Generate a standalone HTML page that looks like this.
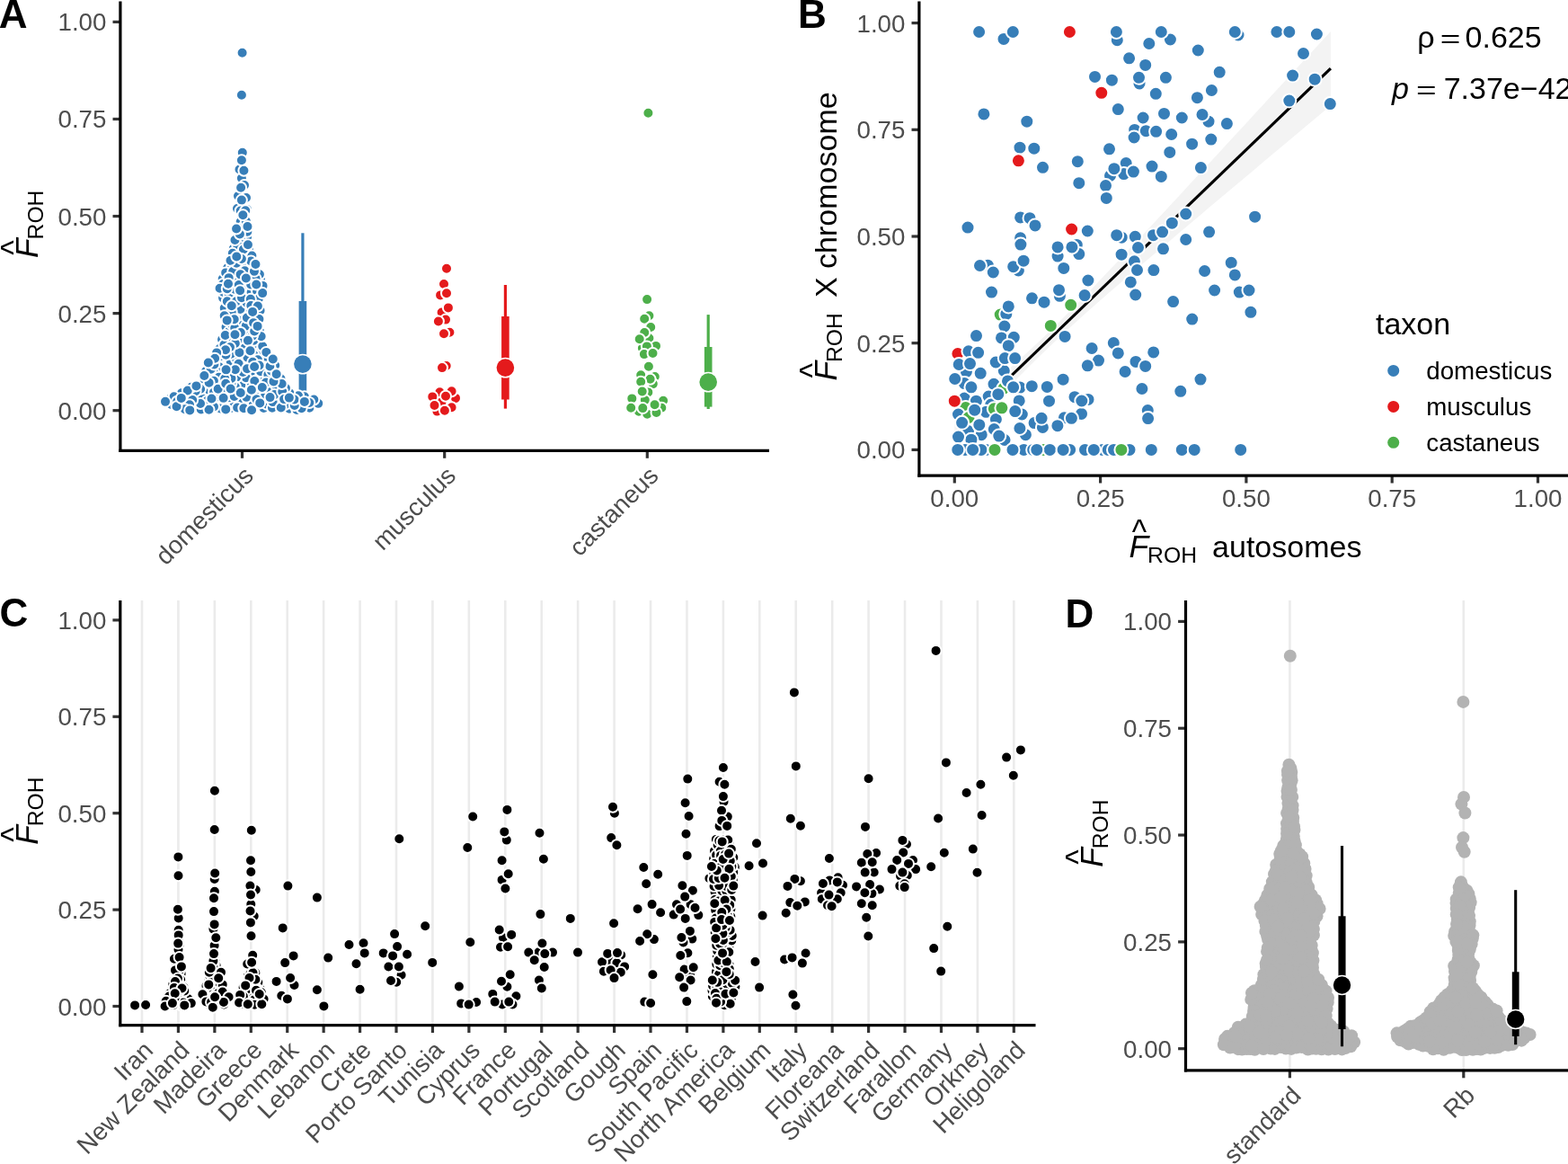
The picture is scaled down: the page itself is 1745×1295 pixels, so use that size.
<!DOCTYPE html><html><head><meta charset="utf-8"><style>html,body{margin:0;padding:0;background:#fff;overflow:hidden}svg{display:block}</style></head><body><svg width="1745" height="1295" viewBox="0 0 1745 1295" font-family="'Liberation Sans', Arial, Helvetica, sans-serif"><rect width="100%" height="100%" fill="#fff"/><line x1="125.5" y1="456.7" x2="133.9" y2="456.7" stroke="#333333" stroke-width="3.2" stroke-linecap="butt"/><text x="118.4" y="466.7" font-size="27.7" text-anchor="end" fill="#4D4D4D">0.00</text><line x1="125.5" y1="348.62" x2="133.9" y2="348.62" stroke="#333333" stroke-width="3.2" stroke-linecap="butt"/><text x="118.4" y="358.62" font-size="27.7" text-anchor="end" fill="#4D4D4D">0.25</text><line x1="125.5" y1="240.55" x2="133.9" y2="240.55" stroke="#333333" stroke-width="3.2" stroke-linecap="butt"/><text x="118.4" y="250.55" font-size="27.7" text-anchor="end" fill="#4D4D4D">0.50</text><line x1="125.5" y1="132.47" x2="133.9" y2="132.47" stroke="#333333" stroke-width="3.2" stroke-linecap="butt"/><text x="118.4" y="142.47" font-size="27.7" text-anchor="end" fill="#4D4D4D">0.75</text><line x1="125.5" y1="24.4" x2="133.9" y2="24.4" stroke="#333333" stroke-width="3.2" stroke-linecap="butt"/><text x="118.4" y="34.4" font-size="27.7" text-anchor="end" fill="#4D4D4D">1.00</text><line x1="269.5" y1="501.4" x2="269.5" y2="509.8" stroke="#333333" stroke-width="3.2" stroke-linecap="butt"/><text font-size="27.7" fill="#4D4D4D" text-anchor="end" transform="translate(283.5 530.9) rotate(-45)">domesticus</text><line x1="494.7" y1="501.4" x2="494.7" y2="509.8" stroke="#333333" stroke-width="3.2" stroke-linecap="butt"/><text font-size="27.7" fill="#4D4D4D" text-anchor="end" transform="translate(508.7 530.9) rotate(-45)">musculus</text><line x1="720.3" y1="501.4" x2="720.3" y2="509.8" stroke="#333333" stroke-width="3.2" stroke-linecap="butt"/><text font-size="27.7" fill="#4D4D4D" text-anchor="end" transform="translate(734.3 530.9) rotate(-45)">castaneus</text><line x1="336.9" y1="259.3" x2="336.9" y2="452" stroke="#377EB8" stroke-width="3.2" stroke-linecap="butt"/><line x1="336.9" y1="334.9" x2="336.9" y2="442" stroke="#377EB8" stroke-width="8.6" stroke-linecap="butt"/><circle cx="336.9" cy="405.1" r="11.4" fill="#fff"/><circle cx="336.9" cy="405.1" r="9.8" fill="#377EB8"/><line x1="562.4" y1="317" x2="562.4" y2="454.6" stroke="#E41A1C" stroke-width="3.2" stroke-linecap="butt"/><line x1="562.4" y1="351.9" x2="562.4" y2="444.4" stroke="#E41A1C" stroke-width="8.6" stroke-linecap="butt"/><circle cx="562.4" cy="409.1" r="11.4" fill="#fff"/><circle cx="562.4" cy="409.1" r="9.8" fill="#E41A1C"/><line x1="788.2" y1="350.1" x2="788.2" y2="455" stroke="#4DAF4A" stroke-width="3.2" stroke-linecap="butt"/><line x1="788.2" y1="386" x2="788.2" y2="452.6" stroke="#4DAF4A" stroke-width="8.6" stroke-linecap="butt"/><circle cx="788.2" cy="425.1" r="11.4" fill="#fff"/><circle cx="788.2" cy="425.1" r="9.8" fill="#4DAF4A"/><circle cx="266.5" cy="188.5" r="6" fill="#377EB8" stroke="#fff" stroke-width="2"/><circle cx="268.9" cy="198.2" r="6" fill="#377EB8" stroke="#fff" stroke-width="2"/><circle cx="272" cy="206" r="6" fill="#377EB8" stroke="#fff" stroke-width="2"/><circle cx="265" cy="218" r="6" fill="#377EB8" stroke="#fff" stroke-width="2"/><circle cx="274" cy="220" r="6" fill="#377EB8" stroke="#fff" stroke-width="2"/><circle cx="264" cy="232" r="6" fill="#377EB8" stroke="#fff" stroke-width="2"/><circle cx="275" cy="233" r="6" fill="#377EB8" stroke="#fff" stroke-width="2"/><circle cx="269.8" cy="169.8" r="6" fill="#377EB8" stroke="#fff" stroke-width="2"/><circle cx="268.9" cy="178.3" r="6" fill="#377EB8" stroke="#fff" stroke-width="2"/><circle cx="271.4" cy="189.8" r="6" fill="#377EB8" stroke="#fff" stroke-width="2"/><circle cx="268.1" cy="208.8" r="6" fill="#377EB8" stroke="#fff" stroke-width="2"/><circle cx="268.9" cy="222.6" r="6" fill="#377EB8" stroke="#fff" stroke-width="2"/><circle cx="269.8" cy="238.3" r="6" fill="#377EB8" stroke="#fff" stroke-width="2"/><circle cx="284.34" cy="452.65" r="6" fill="#377EB8" stroke="#fff" stroke-width="2"/><circle cx="278.48" cy="384.28" r="6" fill="#377EB8" stroke="#fff" stroke-width="2"/><circle cx="248.06" cy="331.36" r="6" fill="#377EB8" stroke="#fff" stroke-width="2"/><circle cx="267.69" cy="234.49" r="6" fill="#377EB8" stroke="#fff" stroke-width="2"/><circle cx="322.94" cy="448.24" r="6" fill="#377EB8" stroke="#fff" stroke-width="2"/><circle cx="273.08" cy="283.33" r="6" fill="#377EB8" stroke="#fff" stroke-width="2"/><circle cx="338.87" cy="441.37" r="6" fill="#377EB8" stroke="#fff" stroke-width="2"/><circle cx="267.67" cy="281.86" r="6" fill="#377EB8" stroke="#fff" stroke-width="2"/><circle cx="290.33" cy="420.91" r="6" fill="#377EB8" stroke="#fff" stroke-width="2"/><circle cx="265.41" cy="349.67" r="6" fill="#377EB8" stroke="#fff" stroke-width="2"/><circle cx="295.96" cy="399.32" r="6" fill="#377EB8" stroke="#fff" stroke-width="2"/><circle cx="229.2" cy="412.68" r="6" fill="#377EB8" stroke="#fff" stroke-width="2"/><circle cx="255.06" cy="376.7" r="6" fill="#377EB8" stroke="#fff" stroke-width="2"/><circle cx="244.6" cy="387.63" r="6" fill="#377EB8" stroke="#fff" stroke-width="2"/><circle cx="207.49" cy="444.95" r="6" fill="#377EB8" stroke="#fff" stroke-width="2"/><circle cx="262.4" cy="327.75" r="6" fill="#377EB8" stroke="#fff" stroke-width="2"/><circle cx="266.68" cy="356.77" r="6" fill="#377EB8" stroke="#fff" stroke-width="2"/><circle cx="283.42" cy="418.53" r="6" fill="#377EB8" stroke="#fff" stroke-width="2"/><circle cx="265.65" cy="443.92" r="6" fill="#377EB8" stroke="#fff" stroke-width="2"/><circle cx="332" cy="440.27" r="6" fill="#377EB8" stroke="#fff" stroke-width="2"/><circle cx="268.93" cy="422.78" r="6" fill="#377EB8" stroke="#fff" stroke-width="2"/><circle cx="226.79" cy="426.6" r="6" fill="#377EB8" stroke="#fff" stroke-width="2"/><circle cx="227.62" cy="436.57" r="6" fill="#377EB8" stroke="#fff" stroke-width="2"/><circle cx="243.02" cy="447.6" r="6" fill="#377EB8" stroke="#fff" stroke-width="2"/><circle cx="248.71" cy="325.04" r="6" fill="#377EB8" stroke="#fff" stroke-width="2"/><circle cx="249.72" cy="342.7" r="6" fill="#377EB8" stroke="#fff" stroke-width="2"/><circle cx="283.28" cy="329.24" r="6" fill="#377EB8" stroke="#fff" stroke-width="2"/><circle cx="219.2" cy="440.76" r="6" fill="#377EB8" stroke="#fff" stroke-width="2"/><circle cx="250.73" cy="435.08" r="6" fill="#377EB8" stroke="#fff" stroke-width="2"/><circle cx="279.32" cy="363.81" r="6" fill="#377EB8" stroke="#fff" stroke-width="2"/><circle cx="344.4" cy="453.63" r="6" fill="#377EB8" stroke="#fff" stroke-width="2"/><circle cx="354.23" cy="448.87" r="6" fill="#377EB8" stroke="#fff" stroke-width="2"/><circle cx="285.15" cy="383.87" r="6" fill="#377EB8" stroke="#fff" stroke-width="2"/><circle cx="258.4" cy="331.88" r="6" fill="#377EB8" stroke="#fff" stroke-width="2"/><circle cx="322.02" cy="454.74" r="6" fill="#377EB8" stroke="#fff" stroke-width="2"/><circle cx="269.06" cy="338.58" r="6" fill="#377EB8" stroke="#fff" stroke-width="2"/><circle cx="212.83" cy="438.6" r="6" fill="#377EB8" stroke="#fff" stroke-width="2"/><circle cx="249.99" cy="449.99" r="6" fill="#377EB8" stroke="#fff" stroke-width="2"/><circle cx="349.33" cy="444.48" r="6" fill="#377EB8" stroke="#fff" stroke-width="2"/><circle cx="276.95" cy="296.53" r="6" fill="#377EB8" stroke="#fff" stroke-width="2"/><circle cx="273.28" cy="346.18" r="6" fill="#377EB8" stroke="#fff" stroke-width="2"/><circle cx="266.58" cy="299.05" r="6" fill="#377EB8" stroke="#fff" stroke-width="2"/><circle cx="247.69" cy="310.34" r="6" fill="#377EB8" stroke="#fff" stroke-width="2"/><circle cx="248.25" cy="315.88" r="6" fill="#377EB8" stroke="#fff" stroke-width="2"/><circle cx="261.2" cy="307.15" r="6" fill="#377EB8" stroke="#fff" stroke-width="2"/><circle cx="256.64" cy="409.33" r="6" fill="#377EB8" stroke="#fff" stroke-width="2"/><circle cx="260.95" cy="313.09" r="6" fill="#377EB8" stroke="#fff" stroke-width="2"/><circle cx="272.42" cy="432.06" r="6" fill="#377EB8" stroke="#fff" stroke-width="2"/><circle cx="250.58" cy="403.77" r="6" fill="#377EB8" stroke="#fff" stroke-width="2"/><circle cx="291.72" cy="437.05" r="6" fill="#377EB8" stroke="#fff" stroke-width="2"/><circle cx="279.52" cy="306.07" r="6" fill="#377EB8" stroke="#fff" stroke-width="2"/><circle cx="277.1" cy="278.02" r="6" fill="#377EB8" stroke="#fff" stroke-width="2"/><circle cx="243.59" cy="425.27" r="6" fill="#377EB8" stroke="#fff" stroke-width="2"/><circle cx="204.09" cy="449.67" r="6" fill="#377EB8" stroke="#fff" stroke-width="2"/><circle cx="284.99" cy="389.53" r="6" fill="#377EB8" stroke="#fff" stroke-width="2"/><circle cx="202.05" cy="437.17" r="6" fill="#377EB8" stroke="#fff" stroke-width="2"/><circle cx="245.15" cy="454.49" r="6" fill="#377EB8" stroke="#fff" stroke-width="2"/><circle cx="288.99" cy="368.43" r="6" fill="#377EB8" stroke="#fff" stroke-width="2"/><circle cx="289.28" cy="379.61" r="6" fill="#377EB8" stroke="#fff" stroke-width="2"/><circle cx="279.33" cy="413.61" r="6" fill="#377EB8" stroke="#fff" stroke-width="2"/><circle cx="263.62" cy="387.13" r="6" fill="#377EB8" stroke="#fff" stroke-width="2"/><circle cx="190.56" cy="449.92" r="6" fill="#377EB8" stroke="#fff" stroke-width="2"/><circle cx="258.11" cy="453.76" r="6" fill="#377EB8" stroke="#fff" stroke-width="2"/><circle cx="293.49" cy="453.94" r="6" fill="#377EB8" stroke="#fff" stroke-width="2"/><circle cx="272.46" cy="390.21" r="6" fill="#377EB8" stroke="#fff" stroke-width="2"/><circle cx="251.54" cy="363.85" r="6" fill="#377EB8" stroke="#fff" stroke-width="2"/><circle cx="243.02" cy="441.29" r="6" fill="#377EB8" stroke="#fff" stroke-width="2"/><circle cx="266.24" cy="311.56" r="6" fill="#377EB8" stroke="#fff" stroke-width="2"/><circle cx="225.47" cy="443.25" r="6" fill="#377EB8" stroke="#fff" stroke-width="2"/><circle cx="289.99" cy="310.85" r="6" fill="#377EB8" stroke="#fff" stroke-width="2"/><circle cx="280.37" cy="284.57" r="6" fill="#377EB8" stroke="#fff" stroke-width="2"/><circle cx="247.07" cy="377.86" r="6" fill="#377EB8" stroke="#fff" stroke-width="2"/><circle cx="230.48" cy="446.02" r="6" fill="#377EB8" stroke="#fff" stroke-width="2"/><circle cx="256.85" cy="402.85" r="6" fill="#377EB8" stroke="#fff" stroke-width="2"/><circle cx="271.25" cy="384.7" r="6" fill="#377EB8" stroke="#fff" stroke-width="2"/><circle cx="286.01" cy="350.22" r="6" fill="#377EB8" stroke="#fff" stroke-width="2"/><circle cx="330.36" cy="456.05" r="6" fill="#377EB8" stroke="#fff" stroke-width="2"/><circle cx="232.35" cy="433.61" r="6" fill="#377EB8" stroke="#fff" stroke-width="2"/><circle cx="309.03" cy="449.11" r="6" fill="#377EB8" stroke="#fff" stroke-width="2"/><circle cx="267.7" cy="246.7" r="6" fill="#377EB8" stroke="#fff" stroke-width="2"/><circle cx="238.01" cy="452.52" r="6" fill="#377EB8" stroke="#fff" stroke-width="2"/><circle cx="236.88" cy="429.47" r="6" fill="#377EB8" stroke="#fff" stroke-width="2"/><circle cx="276.62" cy="451.93" r="6" fill="#377EB8" stroke="#fff" stroke-width="2"/><circle cx="274.69" cy="328.83" r="6" fill="#377EB8" stroke="#fff" stroke-width="2"/><circle cx="297.05" cy="449.69" r="6" fill="#377EB8" stroke="#fff" stroke-width="2"/><circle cx="253.16" cy="298.16" r="6" fill="#377EB8" stroke="#fff" stroke-width="2"/><circle cx="267.39" cy="343.98" r="6" fill="#377EB8" stroke="#fff" stroke-width="2"/><circle cx="312.46" cy="421.22" r="6" fill="#377EB8" stroke="#fff" stroke-width="2"/><circle cx="188.77" cy="444.08" r="6" fill="#377EB8" stroke="#fff" stroke-width="2"/><circle cx="283.09" cy="438.5" r="6" fill="#377EB8" stroke="#fff" stroke-width="2"/><circle cx="290.15" cy="391.35" r="6" fill="#377EB8" stroke="#fff" stroke-width="2"/><circle cx="273.22" cy="234.35" r="6" fill="#377EB8" stroke="#fff" stroke-width="2"/><circle cx="277.72" cy="426.86" r="6" fill="#377EB8" stroke="#fff" stroke-width="2"/><circle cx="322.2" cy="437.1" r="6" fill="#377EB8" stroke="#fff" stroke-width="2"/><circle cx="317.94" cy="431.69" r="6" fill="#377EB8" stroke="#fff" stroke-width="2"/><circle cx="238.06" cy="436.17" r="6" fill="#377EB8" stroke="#fff" stroke-width="2"/><circle cx="280.69" cy="353.41" r="6" fill="#377EB8" stroke="#fff" stroke-width="2"/><circle cx="217.53" cy="453.9" r="6" fill="#377EB8" stroke="#fff" stroke-width="2"/><circle cx="271.86" cy="405.27" r="6" fill="#377EB8" stroke="#fff" stroke-width="2"/><circle cx="275.1" cy="263.54" r="6" fill="#377EB8" stroke="#fff" stroke-width="2"/><circle cx="293.9" cy="408.2" r="6" fill="#377EB8" stroke="#fff" stroke-width="2"/><circle cx="243.25" cy="402.61" r="6" fill="#377EB8" stroke="#fff" stroke-width="2"/><circle cx="268.62" cy="398.75" r="6" fill="#377EB8" stroke="#fff" stroke-width="2"/><circle cx="282.14" cy="394.35" r="6" fill="#377EB8" stroke="#fff" stroke-width="2"/><circle cx="223.17" cy="432.78" r="6" fill="#377EB8" stroke="#fff" stroke-width="2"/><circle cx="268.26" cy="428.41" r="6" fill="#377EB8" stroke="#fff" stroke-width="2"/><circle cx="253.62" cy="416.64" r="6" fill="#377EB8" stroke="#fff" stroke-width="2"/><circle cx="309.93" cy="442.39" r="6" fill="#377EB8" stroke="#fff" stroke-width="2"/><circle cx="258.16" cy="295.9" r="6" fill="#377EB8" stroke="#fff" stroke-width="2"/><circle cx="254.68" cy="327.38" r="6" fill="#377EB8" stroke="#fff" stroke-width="2"/><circle cx="271.15" cy="293.6" r="6" fill="#377EB8" stroke="#fff" stroke-width="2"/><circle cx="288.9" cy="305.26" r="6" fill="#377EB8" stroke="#fff" stroke-width="2"/><circle cx="254.99" cy="368.91" r="6" fill="#377EB8" stroke="#fff" stroke-width="2"/><circle cx="193.63" cy="441.37" r="6" fill="#377EB8" stroke="#fff" stroke-width="2"/><circle cx="227.97" cy="451.52" r="6" fill="#377EB8" stroke="#fff" stroke-width="2"/><circle cx="302.87" cy="430.22" r="6" fill="#377EB8" stroke="#fff" stroke-width="2"/><circle cx="252.81" cy="335.23" r="6" fill="#377EB8" stroke="#fff" stroke-width="2"/><circle cx="244.38" cy="408.59" r="6" fill="#377EB8" stroke="#fff" stroke-width="2"/><circle cx="217.64" cy="435.25" r="6" fill="#377EB8" stroke="#fff" stroke-width="2"/><circle cx="282.66" cy="378.77" r="6" fill="#377EB8" stroke="#fff" stroke-width="2"/><circle cx="272.5" cy="321.58" r="6" fill="#377EB8" stroke="#fff" stroke-width="2"/><circle cx="274.76" cy="336.98" r="6" fill="#377EB8" stroke="#fff" stroke-width="2"/><circle cx="259.83" cy="276.47" r="6" fill="#377EB8" stroke="#fff" stroke-width="2"/><circle cx="223.76" cy="455.42" r="6" fill="#377EB8" stroke="#fff" stroke-width="2"/><circle cx="333.64" cy="449.25" r="6" fill="#377EB8" stroke="#fff" stroke-width="2"/><circle cx="245.24" cy="414.29" r="6" fill="#377EB8" stroke="#fff" stroke-width="2"/><circle cx="238.36" cy="415.39" r="6" fill="#377EB8" stroke="#fff" stroke-width="2"/><circle cx="306.17" cy="406.54" r="6" fill="#377EB8" stroke="#fff" stroke-width="2"/><circle cx="262.93" cy="335.27" r="6" fill="#377EB8" stroke="#fff" stroke-width="2"/><circle cx="232.54" cy="455.67" r="6" fill="#377EB8" stroke="#fff" stroke-width="2"/><circle cx="223.02" cy="448.94" r="6" fill="#377EB8" stroke="#fff" stroke-width="2"/><circle cx="268.99" cy="331.16" r="6" fill="#377EB8" stroke="#fff" stroke-width="2"/><circle cx="279.63" cy="325.2" r="6" fill="#377EB8" stroke="#fff" stroke-width="2"/><circle cx="244.58" cy="320.67" r="6" fill="#377EB8" stroke="#fff" stroke-width="2"/><circle cx="246.07" cy="396.06" r="6" fill="#377EB8" stroke="#fff" stroke-width="2"/><circle cx="251.17" cy="303.4" r="6" fill="#377EB8" stroke="#fff" stroke-width="2"/><circle cx="335.6" cy="454.33" r="6" fill="#377EB8" stroke="#fff" stroke-width="2"/><circle cx="260.98" cy="321.76" r="6" fill="#377EB8" stroke="#fff" stroke-width="2"/><circle cx="292.24" cy="385.26" r="6" fill="#377EB8" stroke="#fff" stroke-width="2"/><circle cx="275.48" cy="397.67" r="6" fill="#377EB8" stroke="#fff" stroke-width="2"/><circle cx="284.54" cy="309.9" r="6" fill="#377EB8" stroke="#fff" stroke-width="2"/><circle cx="302.96" cy="453.73" r="6" fill="#377EB8" stroke="#fff" stroke-width="2"/><circle cx="263.03" cy="399.33" r="6" fill="#377EB8" stroke="#fff" stroke-width="2"/><circle cx="272.46" cy="301.19" r="6" fill="#377EB8" stroke="#fff" stroke-width="2"/><circle cx="233.53" cy="419.5" r="6" fill="#377EB8" stroke="#fff" stroke-width="2"/><circle cx="260.44" cy="447.43" r="6" fill="#377EB8" stroke="#fff" stroke-width="2"/><circle cx="268.35" cy="362.33" r="6" fill="#377EB8" stroke="#fff" stroke-width="2"/><circle cx="289.58" cy="345.5" r="6" fill="#377EB8" stroke="#fff" stroke-width="2"/><circle cx="282.94" cy="301.86" r="6" fill="#377EB8" stroke="#fff" stroke-width="2"/><circle cx="259.17" cy="302.07" r="6" fill="#377EB8" stroke="#fff" stroke-width="2"/><circle cx="286.06" cy="323.89" r="6" fill="#377EB8" stroke="#fff" stroke-width="2"/><circle cx="252.75" cy="321.29" r="6" fill="#377EB8" stroke="#fff" stroke-width="2"/><circle cx="290.04" cy="413.29" r="6" fill="#377EB8" stroke="#fff" stroke-width="2"/><circle cx="281.05" cy="447.51" r="6" fill="#377EB8" stroke="#fff" stroke-width="2"/><circle cx="285.97" cy="430.2" r="6" fill="#377EB8" stroke="#fff" stroke-width="2"/><circle cx="292.51" cy="317.88" r="6" fill="#377EB8" stroke="#fff" stroke-width="2"/><circle cx="273.79" cy="420.21" r="6" fill="#377EB8" stroke="#fff" stroke-width="2"/><circle cx="307.84" cy="433.82" r="6" fill="#377EB8" stroke="#fff" stroke-width="2"/><circle cx="257.67" cy="347.25" r="6" fill="#377EB8" stroke="#fff" stroke-width="2"/><circle cx="249.45" cy="383.57" r="6" fill="#377EB8" stroke="#fff" stroke-width="2"/><circle cx="270.17" cy="448.04" r="6" fill="#377EB8" stroke="#fff" stroke-width="2"/><circle cx="257.87" cy="360.6" r="6" fill="#377EB8" stroke="#fff" stroke-width="2"/><circle cx="263.1" cy="419.81" r="6" fill="#377EB8" stroke="#fff" stroke-width="2"/><circle cx="270.09" cy="253.21" r="6" fill="#377EB8" stroke="#fff" stroke-width="2"/><circle cx="303.58" cy="447.11" r="6" fill="#377EB8" stroke="#fff" stroke-width="2"/><circle cx="271.58" cy="316.21" r="6" fill="#377EB8" stroke="#fff" stroke-width="2"/><circle cx="267.91" cy="266.76" r="6" fill="#377EB8" stroke="#fff" stroke-width="2"/><circle cx="257.18" cy="393.68" r="6" fill="#377EB8" stroke="#fff" stroke-width="2"/><circle cx="254.81" cy="442.24" r="6" fill="#377EB8" stroke="#fff" stroke-width="2"/><circle cx="212.83" cy="430.83" r="6" fill="#377EB8" stroke="#fff" stroke-width="2"/><circle cx="274.25" cy="373.41" r="6" fill="#377EB8" stroke="#fff" stroke-width="2"/><circle cx="243.6" cy="419.71" r="6" fill="#377EB8" stroke="#fff" stroke-width="2"/><circle cx="287.67" cy="332.76" r="6" fill="#377EB8" stroke="#fff" stroke-width="2"/><circle cx="234.72" cy="410.72" r="6" fill="#377EB8" stroke="#fff" stroke-width="2"/><circle cx="266.4" cy="392.14" r="6" fill="#377EB8" stroke="#fff" stroke-width="2"/><circle cx="283.3" cy="424.04" r="6" fill="#377EB8" stroke="#fff" stroke-width="2"/><circle cx="214.18" cy="445.09" r="6" fill="#377EB8" stroke="#fff" stroke-width="2"/><circle cx="297.34" cy="435.4" r="6" fill="#377EB8" stroke="#fff" stroke-width="2"/><circle cx="293.35" cy="442.44" r="6" fill="#377EB8" stroke="#fff" stroke-width="2"/><circle cx="269.98" cy="272.15" r="6" fill="#377EB8" stroke="#fff" stroke-width="2"/><circle cx="264.14" cy="453.51" r="6" fill="#377EB8" stroke="#fff" stroke-width="2"/><circle cx="298.35" cy="416.87" r="6" fill="#377EB8" stroke="#fff" stroke-width="2"/><circle cx="265.55" cy="377.63" r="6" fill="#377EB8" stroke="#fff" stroke-width="2"/><circle cx="274.21" cy="441.84" r="6" fill="#377EB8" stroke="#fff" stroke-width="2"/><circle cx="275.63" cy="367.98" r="6" fill="#377EB8" stroke="#fff" stroke-width="2"/><circle cx="265.81" cy="317.08" r="6" fill="#377EB8" stroke="#fff" stroke-width="2"/><circle cx="279.12" cy="316.4" r="6" fill="#377EB8" stroke="#fff" stroke-width="2"/><circle cx="254.68" cy="309.15" r="6" fill="#377EB8" stroke="#fff" stroke-width="2"/><circle cx="344.29" cy="447.98" r="6" fill="#377EB8" stroke="#fff" stroke-width="2"/><circle cx="279.31" cy="290.48" r="6" fill="#377EB8" stroke="#fff" stroke-width="2"/><circle cx="270.29" cy="413.88" r="6" fill="#377EB8" stroke="#fff" stroke-width="2"/><circle cx="261.75" cy="430.29" r="6" fill="#377EB8" stroke="#fff" stroke-width="2"/><circle cx="267.15" cy="323.29" r="6" fill="#377EB8" stroke="#fff" stroke-width="2"/><circle cx="211" cy="450.19" r="6" fill="#377EB8" stroke="#fff" stroke-width="2"/><circle cx="263.2" cy="292.72" r="6" fill="#377EB8" stroke="#fff" stroke-width="2"/><circle cx="296.35" cy="391.88" r="6" fill="#377EB8" stroke="#fff" stroke-width="2"/><circle cx="257.46" cy="426.47" r="6" fill="#377EB8" stroke="#fff" stroke-width="2"/><circle cx="264.18" cy="272.87" r="6" fill="#377EB8" stroke="#fff" stroke-width="2"/><circle cx="261.81" cy="381.95" r="6" fill="#377EB8" stroke="#fff" stroke-width="2"/><circle cx="270.91" cy="277.49" r="6" fill="#377EB8" stroke="#fff" stroke-width="2"/><circle cx="285.5" cy="444.35" r="6" fill="#377EB8" stroke="#fff" stroke-width="2"/><circle cx="286.89" cy="400.23" r="6" fill="#377EB8" stroke="#fff" stroke-width="2"/><circle cx="281.24" cy="402.87" r="6" fill="#377EB8" stroke="#fff" stroke-width="2"/><circle cx="197.08" cy="446.8" r="6" fill="#377EB8" stroke="#fff" stroke-width="2"/><circle cx="273.82" cy="246.1" r="6" fill="#377EB8" stroke="#fff" stroke-width="2"/><circle cx="302.06" cy="412.7" r="6" fill="#377EB8" stroke="#fff" stroke-width="2"/><circle cx="275.95" cy="272.23" r="6" fill="#377EB8" stroke="#fff" stroke-width="2"/><circle cx="261.27" cy="364.96" r="6" fill="#377EB8" stroke="#fff" stroke-width="2"/><circle cx="205.64" cy="455.15" r="6" fill="#377EB8" stroke="#fff" stroke-width="2"/><circle cx="317.17" cy="450.09" r="6" fill="#377EB8" stroke="#fff" stroke-width="2"/><circle cx="278.86" cy="332.83" r="6" fill="#377EB8" stroke="#fff" stroke-width="2"/><circle cx="273.79" cy="362.6" r="6" fill="#377EB8" stroke="#fff" stroke-width="2"/><circle cx="305.45" cy="439.09" r="6" fill="#377EB8" stroke="#fff" stroke-width="2"/><circle cx="292.18" cy="326.09" r="6" fill="#377EB8" stroke="#fff" stroke-width="2"/><circle cx="258.85" cy="281.85" r="6" fill="#377EB8" stroke="#fff" stroke-width="2"/><circle cx="250.72" cy="372.94" r="6" fill="#377EB8" stroke="#fff" stroke-width="2"/><circle cx="260.7" cy="440.91" r="6" fill="#377EB8" stroke="#fff" stroke-width="2"/><circle cx="257.45" cy="421" r="6" fill="#377EB8" stroke="#fff" stroke-width="2"/><circle cx="327.77" cy="450.94" r="6" fill="#377EB8" stroke="#fff" stroke-width="2"/><circle cx="251.39" cy="394.74" r="6" fill="#377EB8" stroke="#fff" stroke-width="2"/><circle cx="314.26" cy="435.67" r="6" fill="#377EB8" stroke="#fff" stroke-width="2"/><circle cx="267.87" cy="370.05" r="6" fill="#377EB8" stroke="#fff" stroke-width="2"/><circle cx="284.46" cy="293.96" r="6" fill="#377EB8" stroke="#fff" stroke-width="2"/><circle cx="250.26" cy="421.36" r="6" fill="#377EB8" stroke="#fff" stroke-width="2"/><circle cx="271.32" cy="454.2" r="6" fill="#377EB8" stroke="#fff" stroke-width="2"/><circle cx="300.34" cy="407.52" r="6" fill="#377EB8" stroke="#fff" stroke-width="2"/><circle cx="265.62" cy="404.75" r="6" fill="#377EB8" stroke="#fff" stroke-width="2"/><circle cx="237.9" cy="423.71" r="6" fill="#377EB8" stroke="#fff" stroke-width="2"/><circle cx="290.65" cy="374.2" r="6" fill="#377EB8" stroke="#fff" stroke-width="2"/><circle cx="248.64" cy="442.84" r="6" fill="#377EB8" stroke="#fff" stroke-width="2"/><circle cx="274.86" cy="353.57" r="6" fill="#377EB8" stroke="#fff" stroke-width="2"/><circle cx="242.67" cy="432.67" r="6" fill="#377EB8" stroke="#fff" stroke-width="2"/><circle cx="275.07" cy="410.28" r="6" fill="#377EB8" stroke="#fff" stroke-width="2"/><circle cx="312.74" cy="453.51" r="6" fill="#377EB8" stroke="#fff" stroke-width="2"/><circle cx="289.22" cy="448.41" r="6" fill="#377EB8" stroke="#fff" stroke-width="2"/><circle cx="232.65" cy="425.79" r="6" fill="#377EB8" stroke="#fff" stroke-width="2"/><circle cx="208.79" cy="434.44" r="6" fill="#377EB8" stroke="#fff" stroke-width="2"/><circle cx="238.35" cy="405.48" r="6" fill="#377EB8" stroke="#fff" stroke-width="2"/><circle cx="256.51" cy="289.83" r="6" fill="#377EB8" stroke="#fff" stroke-width="2"/><circle cx="281.02" cy="373.6" r="6" fill="#377EB8" stroke="#fff" stroke-width="2"/><circle cx="196.53" cy="452.31" r="6" fill="#377EB8" stroke="#fff" stroke-width="2"/><circle cx="288.58" cy="406.5" r="6" fill="#377EB8" stroke="#fff" stroke-width="2"/><circle cx="268.86" cy="287.94" r="6" fill="#377EB8" stroke="#fff" stroke-width="2"/><circle cx="275.33" cy="257.83" r="6" fill="#377EB8" stroke="#fff" stroke-width="2"/><circle cx="296.05" cy="425.43" r="6" fill="#377EB8" stroke="#fff" stroke-width="2"/><circle cx="303.74" cy="399.5" r="6" fill="#377EB8" stroke="#fff" stroke-width="2"/><circle cx="267.56" cy="305.34" r="6" fill="#377EB8" stroke="#fff" stroke-width="2"/><circle cx="261.47" cy="372.28" r="6" fill="#377EB8" stroke="#fff" stroke-width="2"/><circle cx="283.14" cy="408.07" r="6" fill="#377EB8" stroke="#fff" stroke-width="2"/><circle cx="257.78" cy="340.28" r="6" fill="#377EB8" stroke="#fff" stroke-width="2"/><circle cx="275.95" cy="378.87" r="6" fill="#377EB8" stroke="#fff" stroke-width="2"/><circle cx="279.31" cy="340.01" r="6" fill="#377EB8" stroke="#fff" stroke-width="2"/><circle cx="218.46" cy="429.38" r="6" fill="#377EB8" stroke="#fff" stroke-width="2"/><circle cx="255.96" cy="386.17" r="6" fill="#377EB8" stroke="#fff" stroke-width="2"/><circle cx="261.48" cy="267.03" r="6" fill="#377EB8" stroke="#fff" stroke-width="2"/><circle cx="235.47" cy="443.53" r="6" fill="#377EB8" stroke="#fff" stroke-width="2"/><circle cx="286.88" cy="340.48" r="6" fill="#377EB8" stroke="#fff" stroke-width="2"/><circle cx="291.81" cy="431.04" r="6" fill="#377EB8" stroke="#fff" stroke-width="2"/><circle cx="283.17" cy="368.54" r="6" fill="#377EB8" stroke="#fff" stroke-width="2"/><circle cx="249.69" cy="351.33" r="6" fill="#377EB8" stroke="#fff" stroke-width="2"/><circle cx="313.64" cy="426.94" r="6" fill="#377EB8" stroke="#fff" stroke-width="2"/><circle cx="279.86" cy="433.75" r="6" fill="#377EB8" stroke="#fff" stroke-width="2"/><circle cx="253.98" cy="315.82" r="6" fill="#377EB8" stroke="#fff" stroke-width="2"/><circle cx="251.24" cy="455.4" r="6" fill="#377EB8" stroke="#fff" stroke-width="2"/><circle cx="251" cy="389.21" r="6" fill="#377EB8" stroke="#fff" stroke-width="2"/><circle cx="316.09" cy="444.09" r="6" fill="#377EB8" stroke="#fff" stroke-width="2"/><circle cx="273.84" cy="309.55" r="6" fill="#377EB8" stroke="#fff" stroke-width="2"/><circle cx="260.71" cy="355.18" r="6" fill="#377EB8" stroke="#fff" stroke-width="2"/><circle cx="288.41" cy="355.09" r="6" fill="#377EB8" stroke="#fff" stroke-width="2"/><circle cx="285.25" cy="316.43" r="6" fill="#377EB8" stroke="#fff" stroke-width="2"/><circle cx="282.12" cy="359.14" r="6" fill="#377EB8" stroke="#fff" stroke-width="2"/><circle cx="281.11" cy="346.88" r="6" fill="#377EB8" stroke="#fff" stroke-width="2"/><circle cx="263.32" cy="285.53" r="6" fill="#377EB8" stroke="#fff" stroke-width="2"/><circle cx="267.73" cy="436.94" r="6" fill="#377EB8" stroke="#fff" stroke-width="2"/><circle cx="266.9" cy="260.53" r="6" fill="#377EB8" stroke="#fff" stroke-width="2"/><circle cx="304.51" cy="424.38" r="6" fill="#377EB8" stroke="#fff" stroke-width="2"/><circle cx="227.32" cy="418.03" r="6" fill="#377EB8" stroke="#fff" stroke-width="2"/><circle cx="286.59" cy="362.88" r="6" fill="#377EB8" stroke="#fff" stroke-width="2"/><circle cx="201.77" cy="442.88" r="6" fill="#377EB8" stroke="#fff" stroke-width="2"/><circle cx="327.57" cy="444.53" r="6" fill="#377EB8" stroke="#fff" stroke-width="2"/><circle cx="184.01" cy="446.85" r="6" fill="#377EB8" stroke="#fff" stroke-width="2"/><circle cx="321.85" cy="442.61" r="6" fill="#377EB8" stroke="#fff" stroke-width="2"/><circle cx="241.15" cy="392.38" r="6" fill="#377EB8" stroke="#fff" stroke-width="2"/><circle cx="239.1" cy="398.73" r="6" fill="#377EB8" stroke="#fff" stroke-width="2"/><circle cx="270.36" cy="239.27" r="6" fill="#377EB8" stroke="#fff" stroke-width="2"/><circle cx="275.45" cy="251.93" r="6" fill="#377EB8" stroke="#fff" stroke-width="2"/><circle cx="338.86" cy="446.89" r="6" fill="#377EB8" stroke="#fff" stroke-width="2"/><circle cx="261.79" cy="411.26" r="6" fill="#377EB8" stroke="#fff" stroke-width="2"/><circle cx="278.52" cy="390.24" r="6" fill="#377EB8" stroke="#fff" stroke-width="2"/><circle cx="251.27" cy="426.7" r="6" fill="#377EB8" stroke="#fff" stroke-width="2"/><circle cx="211.25" cy="456.39" r="6" fill="#377EB8" stroke="#fff" stroke-width="2"/><circle cx="300.54" cy="442.09" r="6" fill="#377EB8" stroke="#fff" stroke-width="2"/><circle cx="307.64" cy="416.17" r="6" fill="#377EB8" stroke="#fff" stroke-width="2"/><circle cx="231.81" cy="403.44" r="6" fill="#377EB8" stroke="#fff" stroke-width="2"/><circle cx="280.07" cy="456.21" r="6" fill="#377EB8" stroke="#fff" stroke-width="2"/><circle cx="252.67" cy="356.41" r="6" fill="#377EB8" stroke="#fff" stroke-width="2"/><circle cx="251.59" cy="411.37" r="6" fill="#377EB8" stroke="#fff" stroke-width="2"/><circle cx="263.08" cy="254.51" r="6" fill="#377EB8" stroke="#fff" stroke-width="2"/><circle cx="256.64" cy="432.51" r="6" fill="#377EB8" stroke="#fff" stroke-width="2"/><circle cx="269.6" cy="58.7" r="6" fill="#377EB8" stroke="#fff" stroke-width="2"/><circle cx="268.9" cy="105.7" r="6" fill="#377EB8" stroke="#fff" stroke-width="2"/><circle cx="490.1" cy="328.4" r="6" fill="#E41A1C" stroke="#fff" stroke-width="2"/><circle cx="491.6" cy="347.5" r="6" fill="#E41A1C" stroke="#fff" stroke-width="2"/><circle cx="496" cy="355.6" r="6" fill="#E41A1C" stroke="#fff" stroke-width="2"/><circle cx="500.4" cy="369.8" r="6" fill="#E41A1C" stroke="#fff" stroke-width="2"/><circle cx="496.7" cy="407" r="6" fill="#E41A1C" stroke="#fff" stroke-width="2"/><circle cx="489.4" cy="436.3" r="6" fill="#E41A1C" stroke="#fff" stroke-width="2"/><circle cx="507" cy="442.9" r="6" fill="#E41A1C" stroke="#fff" stroke-width="2"/><circle cx="491.5" cy="447.3" r="6" fill="#E41A1C" stroke="#fff" stroke-width="2"/><circle cx="502.6" cy="453.2" r="6" fill="#E41A1C" stroke="#fff" stroke-width="2"/><circle cx="486.4" cy="457.6" r="6" fill="#E41A1C" stroke="#fff" stroke-width="2"/><circle cx="497" cy="298.8" r="6" fill="#E41A1C" stroke="#fff" stroke-width="2"/><circle cx="494" cy="316" r="6" fill="#E41A1C" stroke="#fff" stroke-width="2"/><circle cx="497" cy="326.2" r="6" fill="#E41A1C" stroke="#fff" stroke-width="2"/><circle cx="498.9" cy="342.4" r="6" fill="#E41A1C" stroke="#fff" stroke-width="2"/><circle cx="487.9" cy="357.5" r="6" fill="#E41A1C" stroke="#fff" stroke-width="2"/><circle cx="494" cy="371.3" r="6" fill="#E41A1C" stroke="#fff" stroke-width="2"/><circle cx="492" cy="409.1" r="6" fill="#E41A1C" stroke="#fff" stroke-width="2"/><circle cx="502.6" cy="435.3" r="6" fill="#E41A1C" stroke="#fff" stroke-width="2"/><circle cx="496" cy="440.7" r="6" fill="#E41A1C" stroke="#fff" stroke-width="2"/><circle cx="481.3" cy="441.4" r="6" fill="#E41A1C" stroke="#fff" stroke-width="2"/><circle cx="483.5" cy="451" r="6" fill="#E41A1C" stroke="#fff" stroke-width="2"/><circle cx="494.9" cy="456.8" r="6" fill="#E41A1C" stroke="#fff" stroke-width="2"/><circle cx="722.4" cy="351.3" r="6" fill="#4DAF4A" stroke="#fff" stroke-width="2"/><circle cx="722.4" cy="376.2" r="6" fill="#4DAF4A" stroke="#fff" stroke-width="2"/><circle cx="730" cy="384.9" r="6" fill="#4DAF4A" stroke="#fff" stroke-width="2"/><circle cx="714.9" cy="387.2" r="6" fill="#4DAF4A" stroke="#fff" stroke-width="2"/><circle cx="713.2" cy="417.3" r="6" fill="#4DAF4A" stroke="#fff" stroke-width="2"/><circle cx="728.8" cy="419" r="6" fill="#4DAF4A" stroke="#fff" stroke-width="2"/><circle cx="726.8" cy="427.1" r="6" fill="#4DAF4A" stroke="#fff" stroke-width="2"/><circle cx="721.3" cy="436.4" r="6" fill="#4DAF4A" stroke="#fff" stroke-width="2"/><circle cx="717.8" cy="445.1" r="6" fill="#4DAF4A" stroke="#fff" stroke-width="2"/><circle cx="738.1" cy="445.7" r="6" fill="#4DAF4A" stroke="#fff" stroke-width="2"/><circle cx="736.3" cy="453.8" r="6" fill="#4DAF4A" stroke="#fff" stroke-width="2"/><circle cx="710.9" cy="457.8" r="6" fill="#4DAF4A" stroke="#fff" stroke-width="2"/><circle cx="720.3" cy="460.7" r="6" fill="#4DAF4A" stroke="#fff" stroke-width="2"/><circle cx="730.5" cy="459" r="6" fill="#4DAF4A" stroke="#fff" stroke-width="2"/><circle cx="721.4" cy="125.7" r="6" fill="#4DAF4A" stroke="#fff" stroke-width="2"/><circle cx="720.1" cy="333.1" r="6" fill="#4DAF4A" stroke="#fff" stroke-width="2"/><circle cx="717.2" cy="354.8" r="6" fill="#4DAF4A" stroke="#fff" stroke-width="2"/><circle cx="724.2" cy="364" r="6" fill="#4DAF4A" stroke="#fff" stroke-width="2"/><circle cx="717.2" cy="370" r="6" fill="#4DAF4A" stroke="#fff" stroke-width="2"/><circle cx="711.7" cy="377.3" r="6" fill="#4DAF4A" stroke="#fff" stroke-width="2"/><circle cx="719.9" cy="385.4" r="6" fill="#4DAF4A" stroke="#fff" stroke-width="2"/><circle cx="716.9" cy="394.1" r="6" fill="#4DAF4A" stroke="#fff" stroke-width="2"/><circle cx="726.5" cy="393" r="6" fill="#4DAF4A" stroke="#fff" stroke-width="2"/><circle cx="721.9" cy="407.7" r="6" fill="#4DAF4A" stroke="#fff" stroke-width="2"/><circle cx="723.6" cy="421.7" r="6" fill="#4DAF4A" stroke="#fff" stroke-width="2"/><circle cx="713.2" cy="424.8" r="6" fill="#4DAF4A" stroke="#fff" stroke-width="2"/><circle cx="714.7" cy="435.5" r="6" fill="#4DAF4A" stroke="#fff" stroke-width="2"/><circle cx="703.3" cy="443.4" r="6" fill="#4DAF4A" stroke="#fff" stroke-width="2"/><circle cx="728.6" cy="450.3" r="6" fill="#4DAF4A" stroke="#fff" stroke-width="2"/><circle cx="702.2" cy="453.8" r="6" fill="#4DAF4A" stroke="#fff" stroke-width="2"/><circle cx="715.3" cy="454.1" r="6" fill="#4DAF4A" stroke="#fff" stroke-width="2"/><g transform="rotate(-90 42.1 287)"><text x="42.1" y="287" font-size="35.5" font-style="italic">F</text><text font-size="34.9" transform="translate(45.25 272.55) scale(1 1.09)">^</text><text x="62.7" y="293.1" font-size="24.7">ROH</text></g><line x1="133.9" y1="1.4" x2="133.9" y2="503" stroke="#000" stroke-width="3.2" stroke-linecap="butt"/><line x1="132.3" y1="501.4" x2="856" y2="501.4" stroke="#000" stroke-width="3.2" stroke-linecap="butt"/><polygon points="1062.3,463.12 1072.76,454.16 1083.23,445.16 1093.69,436.11 1104.16,426.99 1114.62,417.79 1125.09,408.47 1135.56,399.03 1146.02,389.42 1156.48,379.63 1166.95,369.63 1177.41,359.42 1187.88,349.01 1198.35,338.43 1208.81,327.69 1219.28,316.83 1229.74,305.87 1240.2,294.84 1250.67,283.74 1261.13,272.6 1271.6,261.41 1282.07,250.2 1292.53,238.96 1303,227.69 1313.46,216.41 1323.93,205.12 1334.39,193.81 1344.86,182.5 1355.32,171.17 1365.79,159.84 1376.25,148.5 1386.72,137.15 1397.18,125.8 1407.64,114.45 1418.11,103.09 1428.58,91.73 1439.04,80.37 1449.51,69 1459.97,57.63 1470.43,46.26 1480.9,34.88 1480.9,117.52 1470.43,126.27 1459.97,135.03 1449.51,143.79 1439.04,152.55 1428.58,161.31 1418.11,170.08 1407.64,178.85 1397.18,187.63 1386.72,196.4 1376.25,205.19 1365.79,213.98 1355.32,222.77 1344.86,231.58 1334.39,240.39 1323.93,249.21 1313.46,258.05 1303,266.9 1292.53,275.76 1282.07,284.65 1271.6,293.56 1261.13,302.51 1250.67,311.49 1240.2,320.52 1229.74,329.62 1219.28,338.79 1208.81,348.06 1198.35,357.45 1187.88,366.99 1177.41,376.72 1166.95,386.64 1156.48,396.77 1146.02,407.1 1135.56,417.62 1125.09,428.31 1114.62,439.12 1104.16,450.05 1093.69,461.06 1083.23,472.13 1072.76,483.26 1062.3,494.43" fill="#F3F3F3"/><line x1="1123" y1="420.4" x2="1480.9" y2="76.2" stroke="#000" stroke-width="3.2" stroke-linecap="butt"/><line x1="1014.5" y1="500.4" x2="1022.9" y2="500.4" stroke="#333333" stroke-width="3.2" stroke-linecap="butt"/><text x="1007.4" y="510.4" font-size="27.7" text-anchor="end" fill="#4D4D4D">0.00</text><line x1="1014.5" y1="381.7" x2="1022.9" y2="381.7" stroke="#333333" stroke-width="3.2" stroke-linecap="butt"/><text x="1007.4" y="391.7" font-size="27.7" text-anchor="end" fill="#4D4D4D">0.25</text><line x1="1014.5" y1="263" x2="1022.9" y2="263" stroke="#333333" stroke-width="3.2" stroke-linecap="butt"/><text x="1007.4" y="273" font-size="27.7" text-anchor="end" fill="#4D4D4D">0.50</text><line x1="1014.5" y1="144.3" x2="1022.9" y2="144.3" stroke="#333333" stroke-width="3.2" stroke-linecap="butt"/><text x="1007.4" y="154.3" font-size="27.7" text-anchor="end" fill="#4D4D4D">0.75</text><line x1="1014.5" y1="25.6" x2="1022.9" y2="25.6" stroke="#333333" stroke-width="3.2" stroke-linecap="butt"/><text x="1007.4" y="35.6" font-size="27.7" text-anchor="end" fill="#4D4D4D">1.00</text><line x1="1062.3" y1="529.1" x2="1062.3" y2="537.5" stroke="#333333" stroke-width="3.2" stroke-linecap="butt"/><text x="1062.3" y="563.9" font-size="27.7" text-anchor="middle" fill="#4D4D4D">0.00</text><line x1="1224.6" y1="529.1" x2="1224.6" y2="537.5" stroke="#333333" stroke-width="3.2" stroke-linecap="butt"/><text x="1224.6" y="563.9" font-size="27.7" text-anchor="middle" fill="#4D4D4D">0.25</text><line x1="1386.9" y1="529.1" x2="1386.9" y2="537.5" stroke="#333333" stroke-width="3.2" stroke-linecap="butt"/><text x="1386.9" y="563.9" font-size="27.7" text-anchor="middle" fill="#4D4D4D">0.50</text><line x1="1549.2" y1="529.1" x2="1549.2" y2="537.5" stroke="#333333" stroke-width="3.2" stroke-linecap="butt"/><text x="1549.2" y="563.9" font-size="27.7" text-anchor="middle" fill="#4D4D4D">0.75</text><line x1="1711.5" y1="529.1" x2="1711.5" y2="537.5" stroke="#333333" stroke-width="3.2" stroke-linecap="butt"/><text x="1711.5" y="563.9" font-size="27.7" text-anchor="middle" fill="#4D4D4D">1.00</text><circle cx="1117" cy="43.4" r="7.5" fill="#377EB8" stroke="#fff" stroke-width="2"/><circle cx="1243.3" cy="44.7" r="7.5" fill="#377EB8" stroke="#fff" stroke-width="2"/><circle cx="1302.4" cy="44" r="7.5" fill="#377EB8" stroke="#fff" stroke-width="2"/><circle cx="1378" cy="39" r="7.5" fill="#377EB8" stroke="#fff" stroke-width="2"/><circle cx="1268" cy="93" r="7.5" fill="#377EB8" stroke="#fff" stroke-width="2"/><circle cx="1345" cy="135.2" r="7.5" fill="#377EB8" stroke="#fff" stroke-width="2"/><circle cx="1235.5" cy="195.5" r="7.5" fill="#377EB8" stroke="#fff" stroke-width="2"/><circle cx="1253.2" cy="181.6" r="7.5" fill="#377EB8" stroke="#fff" stroke-width="2"/><circle cx="1250.7" cy="193.6" r="7.5" fill="#377EB8" stroke="#fff" stroke-width="2"/><circle cx="1248.2" cy="264.2" r="7.5" fill="#377EB8" stroke="#fff" stroke-width="2"/><circle cx="1135.6" cy="264.8" r="7.5" fill="#377EB8" stroke="#fff" stroke-width="2"/><circle cx="1198.3" cy="272.4" r="7.5" fill="#377EB8" stroke="#fff" stroke-width="2"/><circle cx="1262.7" cy="144.4" r="7.5" fill="#377EB8" stroke="#fff" stroke-width="2"/><circle cx="1275.3" cy="145.7" r="7.5" fill="#377EB8" stroke="#fff" stroke-width="2"/><circle cx="1283.5" cy="261.7" r="7.5" fill="#377EB8" stroke="#fff" stroke-width="2"/><circle cx="1200.8" cy="282.6" r="7.5" fill="#377EB8" stroke="#fff" stroke-width="2"/><circle cx="1177.1" cy="285.1" r="7.5" fill="#377EB8" stroke="#fff" stroke-width="2"/><circle cx="1099.3" cy="295.2" r="7.5" fill="#377EB8" stroke="#fff" stroke-width="2"/><circle cx="1133.4" cy="300.9" r="7.5" fill="#377EB8" stroke="#fff" stroke-width="2"/><circle cx="1179.4" cy="329.3" r="7.5" fill="#377EB8" stroke="#fff" stroke-width="2"/><circle cx="1113.2" cy="350.1" r="7.5" fill="#4DAF4A" stroke="#fff" stroke-width="2"/><circle cx="1119.8" cy="349.4" r="7.5" fill="#377EB8" stroke="#fff" stroke-width="2"/><circle cx="1065.9" cy="393.5" r="7.5" fill="#E41A1C" stroke="#fff" stroke-width="2"/><circle cx="1262.4" cy="290.8" r="7.5" fill="#377EB8" stroke="#fff" stroke-width="2"/><circle cx="1379.3" cy="325.1" r="7.5" fill="#377EB8" stroke="#fff" stroke-width="2"/><circle cx="1117.3" cy="412.5" r="7.5" fill="#377EB8" stroke="#fff" stroke-width="2"/><circle cx="1075.4" cy="413.6" r="7.5" fill="#377EB8" stroke="#fff" stroke-width="2"/><circle cx="1073.3" cy="426.6" r="7.5" fill="#377EB8" stroke="#fff" stroke-width="2"/><circle cx="1106" cy="427.3" r="7.5" fill="#377EB8" stroke="#fff" stroke-width="2"/><circle cx="1117" cy="432.1" r="7.5" fill="#4DAF4A" stroke="#fff" stroke-width="2"/><circle cx="1135.2" cy="431.1" r="7.5" fill="#377EB8" stroke="#fff" stroke-width="2"/><circle cx="1121.5" cy="423.9" r="7.5" fill="#377EB8" stroke="#fff" stroke-width="2"/><circle cx="1073.3" cy="443.1" r="7.5" fill="#377EB8" stroke="#fff" stroke-width="2"/><circle cx="1086.4" cy="446.2" r="7.5" fill="#377EB8" stroke="#fff" stroke-width="2"/><circle cx="1100.2" cy="441.1" r="7.5" fill="#377EB8" stroke="#fff" stroke-width="2"/><circle cx="1102.9" cy="450" r="7.5" fill="#377EB8" stroke="#fff" stroke-width="2"/><circle cx="1074.7" cy="453.5" r="7.5" fill="#4DAF4A" stroke="#fff" stroke-width="2"/><circle cx="1097.4" cy="458.3" r="7.5" fill="#377EB8" stroke="#fff" stroke-width="2"/><circle cx="1106.3" cy="454.8" r="7.5" fill="#4DAF4A" stroke="#fff" stroke-width="2"/><circle cx="1137.3" cy="461" r="7.5" fill="#377EB8" stroke="#fff" stroke-width="2"/><circle cx="1066.5" cy="461" r="7.5" fill="#377EB8" stroke="#fff" stroke-width="2"/><circle cx="1078.1" cy="464.5" r="7.5" fill="#4DAF4A" stroke="#fff" stroke-width="2"/><circle cx="1108.4" cy="466.5" r="7.5" fill="#377EB8" stroke="#fff" stroke-width="2"/><circle cx="1141.4" cy="483.7" r="7.5" fill="#377EB8" stroke="#fff" stroke-width="2"/><circle cx="1149.7" cy="470" r="7.5" fill="#377EB8" stroke="#fff" stroke-width="2"/><circle cx="1077.5" cy="479.6" r="7.5" fill="#377EB8" stroke="#fff" stroke-width="2"/><circle cx="1092.2" cy="483.7" r="7.5" fill="#377EB8" stroke="#fff" stroke-width="2"/><circle cx="1106.3" cy="477.5" r="7.5" fill="#377EB8" stroke="#fff" stroke-width="2"/><circle cx="1080.9" cy="489.2" r="7.5" fill="#377EB8" stroke="#fff" stroke-width="2"/><circle cx="1118" cy="489.5" r="7.5" fill="#377EB8" stroke="#fff" stroke-width="2"/><circle cx="1074" cy="500.4" r="7.5" fill="#377EB8" stroke="#fff" stroke-width="2"/><circle cx="1097.4" cy="500.4" r="7.5" fill="#377EB8" stroke="#fff" stroke-width="2"/><circle cx="1091.9" cy="500.4" r="7.5" fill="#377EB8" stroke="#fff" stroke-width="2"/><circle cx="1139.4" cy="500.4" r="7.5" fill="#377EB8" stroke="#fff" stroke-width="2"/><circle cx="1149.7" cy="500.4" r="7.5" fill="#377EB8" stroke="#fff" stroke-width="2"/><circle cx="1196" cy="441.7" r="7.5" fill="#377EB8" stroke="#fff" stroke-width="2"/><circle cx="1211" cy="444.4" r="7.5" fill="#377EB8" stroke="#fff" stroke-width="2"/><circle cx="1203.5" cy="460.4" r="7.5" fill="#377EB8" stroke="#fff" stroke-width="2"/><circle cx="1184.4" cy="464.8" r="7.5" fill="#377EB8" stroke="#fff" stroke-width="2"/><circle cx="1151.1" cy="470.6" r="7.5" fill="#377EB8" stroke="#fff" stroke-width="2"/><circle cx="1160.4" cy="475.5" r="7.5" fill="#377EB8" stroke="#fff" stroke-width="2"/><circle cx="1161.3" cy="500.4" r="7.5" fill="#4DAF4A" stroke="#fff" stroke-width="2"/><circle cx="1168.4" cy="500.4" r="7.5" fill="#377EB8" stroke="#fff" stroke-width="2"/><circle cx="1190.6" cy="500.4" r="7.5" fill="#377EB8" stroke="#fff" stroke-width="2"/><circle cx="1207.5" cy="500.4" r="7.5" fill="#377EB8" stroke="#fff" stroke-width="2"/><circle cx="1227" cy="500.4" r="7.5" fill="#377EB8" stroke="#fff" stroke-width="2"/><circle cx="1233.3" cy="500.4" r="7.5" fill="#377EB8" stroke="#fff" stroke-width="2"/><circle cx="1239.5" cy="500.4" r="7.5" fill="#377EB8" stroke="#fff" stroke-width="2"/><circle cx="1257" cy="500.4" r="7.5" fill="#377EB8" stroke="#fff" stroke-width="2"/><circle cx="1277.3" cy="456.6" r="7.5" fill="#377EB8" stroke="#fff" stroke-width="2"/><circle cx="1089.6" cy="35.5" r="7.5" fill="#377EB8" stroke="#fff" stroke-width="2"/><circle cx="1127.3" cy="35.5" r="7.5" fill="#377EB8" stroke="#fff" stroke-width="2"/><circle cx="1190.4" cy="35.5" r="7.5" fill="#E41A1C" stroke="#fff" stroke-width="2"/><circle cx="1242.4" cy="35.5" r="7.5" fill="#377EB8" stroke="#fff" stroke-width="2"/><circle cx="1218.5" cy="85.4" r="7.5" fill="#377EB8" stroke="#fff" stroke-width="2"/><circle cx="1237.4" cy="89.2" r="7.5" fill="#377EB8" stroke="#fff" stroke-width="2"/><circle cx="1225.8" cy="103.3" r="7.5" fill="#E41A1C" stroke="#fff" stroke-width="2"/><circle cx="1244.3" cy="121.6" r="7.5" fill="#377EB8" stroke="#fff" stroke-width="2"/><circle cx="1094.9" cy="126.9" r="7.5" fill="#377EB8" stroke="#fff" stroke-width="2"/><circle cx="1142.8" cy="135.2" r="7.5" fill="#377EB8" stroke="#fff" stroke-width="2"/><circle cx="1292.3" cy="35.5" r="7.5" fill="#377EB8" stroke="#fff" stroke-width="2"/><circle cx="1278.8" cy="48.5" r="7.5" fill="#377EB8" stroke="#fff" stroke-width="2"/><circle cx="1333.3" cy="56" r="7.5" fill="#377EB8" stroke="#fff" stroke-width="2"/><circle cx="1374.3" cy="35.5" r="7.5" fill="#377EB8" stroke="#fff" stroke-width="2"/><circle cx="1420.9" cy="35.5" r="7.5" fill="#377EB8" stroke="#fff" stroke-width="2"/><circle cx="1434.8" cy="35.5" r="7.5" fill="#377EB8" stroke="#fff" stroke-width="2"/><circle cx="1465.4" cy="38" r="7.5" fill="#377EB8" stroke="#fff" stroke-width="2"/><circle cx="1450.5" cy="59.5" r="7.5" fill="#377EB8" stroke="#fff" stroke-width="2"/><circle cx="1256.6" cy="64.8" r="7.5" fill="#377EB8" stroke="#fff" stroke-width="2"/><circle cx="1274.7" cy="72.4" r="7.5" fill="#377EB8" stroke="#fff" stroke-width="2"/><circle cx="1357.2" cy="80.3" r="7.5" fill="#377EB8" stroke="#fff" stroke-width="2"/><circle cx="1267.5" cy="86.3" r="7.5" fill="#377EB8" stroke="#fff" stroke-width="2"/><circle cx="1297.4" cy="86.3" r="7.5" fill="#377EB8" stroke="#fff" stroke-width="2"/><circle cx="1438.6" cy="84.1" r="7.5" fill="#377EB8" stroke="#fff" stroke-width="2"/><circle cx="1463.2" cy="88.2" r="7.5" fill="#377EB8" stroke="#fff" stroke-width="2"/><circle cx="1348.4" cy="100.5" r="7.5" fill="#377EB8" stroke="#fff" stroke-width="2"/><circle cx="1286.3" cy="104.3" r="7.5" fill="#377EB8" stroke="#fff" stroke-width="2"/><circle cx="1332.4" cy="108.7" r="7.5" fill="#377EB8" stroke="#fff" stroke-width="2"/><circle cx="1434.8" cy="112.1" r="7.5" fill="#377EB8" stroke="#fff" stroke-width="2"/><circle cx="1480.3" cy="115.6" r="7.5" fill="#377EB8" stroke="#fff" stroke-width="2"/><circle cx="1272.1" cy="131" r="7.5" fill="#377EB8" stroke="#fff" stroke-width="2"/><circle cx="1295.5" cy="126.4" r="7.5" fill="#377EB8" stroke="#fff" stroke-width="2"/><circle cx="1315.3" cy="131" r="7.5" fill="#377EB8" stroke="#fff" stroke-width="2"/><circle cx="1338" cy="127.5" r="7.5" fill="#377EB8" stroke="#fff" stroke-width="2"/><circle cx="1365.4" cy="137.6" r="7.5" fill="#377EB8" stroke="#fff" stroke-width="2"/><circle cx="1135" cy="164.2" r="7.5" fill="#377EB8" stroke="#fff" stroke-width="2"/><circle cx="1150.8" cy="165.2" r="7.5" fill="#377EB8" stroke="#fff" stroke-width="2"/><circle cx="1133.4" cy="178.8" r="7.5" fill="#E41A1C" stroke="#fff" stroke-width="2"/><circle cx="1160.5" cy="186.3" r="7.5" fill="#377EB8" stroke="#fff" stroke-width="2"/><circle cx="1199.3" cy="179.7" r="7.5" fill="#377EB8" stroke="#fff" stroke-width="2"/><circle cx="1200.8" cy="203.7" r="7.5" fill="#377EB8" stroke="#fff" stroke-width="2"/><circle cx="1234.5" cy="165.8" r="7.5" fill="#377EB8" stroke="#fff" stroke-width="2"/><circle cx="1239.9" cy="187.7" r="7.5" fill="#377EB8" stroke="#fff" stroke-width="2"/><circle cx="1230.5" cy="206.6" r="7.5" fill="#377EB8" stroke="#fff" stroke-width="2"/><circle cx="1231.3" cy="220.4" r="7.5" fill="#377EB8" stroke="#fff" stroke-width="2"/><circle cx="1261.4" cy="191.1" r="7.5" fill="#377EB8" stroke="#fff" stroke-width="2"/><circle cx="1077" cy="253.1" r="7.5" fill="#377EB8" stroke="#fff" stroke-width="2"/><circle cx="1135.6" cy="241.9" r="7.5" fill="#377EB8" stroke="#fff" stroke-width="2"/><circle cx="1146" cy="242.7" r="7.5" fill="#377EB8" stroke="#fff" stroke-width="2"/><circle cx="1152" cy="250.9" r="7.5" fill="#377EB8" stroke="#fff" stroke-width="2"/><circle cx="1192.6" cy="255" r="7.5" fill="#E41A1C" stroke="#fff" stroke-width="2"/><circle cx="1210.3" cy="257" r="7.5" fill="#377EB8" stroke="#fff" stroke-width="2"/><circle cx="1242.7" cy="261.7" r="7.5" fill="#377EB8" stroke="#fff" stroke-width="2"/><circle cx="1135.9" cy="272.1" r="7.5" fill="#377EB8" stroke="#fff" stroke-width="2"/><circle cx="1177.1" cy="274.9" r="7.5" fill="#377EB8" stroke="#fff" stroke-width="2"/><circle cx="1192.9" cy="274.9" r="7.5" fill="#377EB8" stroke="#fff" stroke-width="2"/><circle cx="1286.6" cy="146.3" r="7.5" fill="#377EB8" stroke="#fff" stroke-width="2"/><circle cx="1303.7" cy="149.5" r="7.5" fill="#377EB8" stroke="#fff" stroke-width="2"/><circle cx="1262.1" cy="153" r="7.5" fill="#377EB8" stroke="#fff" stroke-width="2"/><circle cx="1326.6" cy="160.2" r="7.5" fill="#377EB8" stroke="#fff" stroke-width="2"/><circle cx="1347.8" cy="155.1" r="7.5" fill="#377EB8" stroke="#fff" stroke-width="2"/><circle cx="1301.8" cy="169.4" r="7.5" fill="#377EB8" stroke="#fff" stroke-width="2"/><circle cx="1282" cy="185.1" r="7.5" fill="#377EB8" stroke="#fff" stroke-width="2"/><circle cx="1292.3" cy="196.4" r="7.5" fill="#377EB8" stroke="#fff" stroke-width="2"/><circle cx="1336.4" cy="186.6" r="7.5" fill="#377EB8" stroke="#fff" stroke-width="2"/><circle cx="1263.3" cy="263.3" r="7.5" fill="#377EB8" stroke="#fff" stroke-width="2"/><circle cx="1293.6" cy="258.1" r="7.5" fill="#377EB8" stroke="#fff" stroke-width="2"/><circle cx="1304.3" cy="248.2" r="7.5" fill="#377EB8" stroke="#fff" stroke-width="2"/><circle cx="1319.7" cy="238" r="7.5" fill="#377EB8" stroke="#fff" stroke-width="2"/><circle cx="1396.6" cy="241.2" r="7.5" fill="#377EB8" stroke="#fff" stroke-width="2"/><circle cx="1345.6" cy="258.1" r="7.5" fill="#377EB8" stroke="#fff" stroke-width="2"/><circle cx="1319.7" cy="266.5" r="7.5" fill="#377EB8" stroke="#fff" stroke-width="2"/><circle cx="1266.5" cy="275.5" r="7.5" fill="#377EB8" stroke="#fff" stroke-width="2"/><circle cx="1294.5" cy="276.8" r="7.5" fill="#377EB8" stroke="#fff" stroke-width="2"/><circle cx="1248.1" cy="283.2" r="7.5" fill="#377EB8" stroke="#fff" stroke-width="2"/><circle cx="1183.8" cy="298.4" r="7.5" fill="#377EB8" stroke="#fff" stroke-width="2"/><circle cx="1090.5" cy="295.5" r="7.5" fill="#377EB8" stroke="#fff" stroke-width="2"/><circle cx="1105.3" cy="303" r="7.5" fill="#377EB8" stroke="#fff" stroke-width="2"/><circle cx="1127.7" cy="296.7" r="7.5" fill="#377EB8" stroke="#fff" stroke-width="2"/><circle cx="1139.1" cy="290.2" r="7.5" fill="#377EB8" stroke="#fff" stroke-width="2"/><circle cx="1103.5" cy="325.1" r="7.5" fill="#377EB8" stroke="#fff" stroke-width="2"/><circle cx="1210.9" cy="312" r="7.5" fill="#377EB8" stroke="#fff" stroke-width="2"/><circle cx="1178.5" cy="322.7" r="7.5" fill="#377EB8" stroke="#fff" stroke-width="2"/><circle cx="1148.5" cy="331.8" r="7.5" fill="#377EB8" stroke="#fff" stroke-width="2"/><circle cx="1162" cy="336.2" r="7.5" fill="#377EB8" stroke="#fff" stroke-width="2"/><circle cx="1207.1" cy="328.6" r="7.5" fill="#377EB8" stroke="#fff" stroke-width="2"/><circle cx="1191.7" cy="339.3" r="7.5" fill="#4DAF4A" stroke="#fff" stroke-width="2"/><circle cx="1122.3" cy="340.9" r="7.5" fill="#377EB8" stroke="#fff" stroke-width="2"/><circle cx="1117.9" cy="363" r="7.5" fill="#377EB8" stroke="#fff" stroke-width="2"/><circle cx="1169.3" cy="362.4" r="7.5" fill="#4DAF4A" stroke="#fff" stroke-width="2"/><circle cx="1185.1" cy="374.4" r="7.5" fill="#377EB8" stroke="#fff" stroke-width="2"/><circle cx="1086.5" cy="373.6" r="7.5" fill="#377EB8" stroke="#fff" stroke-width="2"/><circle cx="1114.5" cy="375.9" r="7.5" fill="#377EB8" stroke="#fff" stroke-width="2"/><circle cx="1128.3" cy="375.3" r="7.5" fill="#377EB8" stroke="#fff" stroke-width="2"/><circle cx="1122.3" cy="384.7" r="7.5" fill="#377EB8" stroke="#fff" stroke-width="2"/><circle cx="1077.9" cy="390.8" r="7.5" fill="#377EB8" stroke="#fff" stroke-width="2"/><circle cx="1088.6" cy="392.3" r="7.5" fill="#377EB8" stroke="#fff" stroke-width="2"/><circle cx="1067.2" cy="405.5" r="7.5" fill="#377EB8" stroke="#fff" stroke-width="2"/><circle cx="1079.5" cy="404.6" r="7.5" fill="#377EB8" stroke="#fff" stroke-width="2"/><circle cx="1108.2" cy="403" r="7.5" fill="#377EB8" stroke="#fff" stroke-width="2"/><circle cx="1118.3" cy="398.6" r="7.5" fill="#377EB8" stroke="#fff" stroke-width="2"/><circle cx="1129.6" cy="398.6" r="7.5" fill="#377EB8" stroke="#fff" stroke-width="2"/><circle cx="1215.1" cy="387.5" r="7.5" fill="#377EB8" stroke="#fff" stroke-width="2"/><circle cx="1239.3" cy="381.6" r="7.5" fill="#377EB8" stroke="#fff" stroke-width="2"/><circle cx="1244.3" cy="392.9" r="7.5" fill="#377EB8" stroke="#fff" stroke-width="2"/><circle cx="1222.5" cy="401.1" r="7.5" fill="#377EB8" stroke="#fff" stroke-width="2"/><circle cx="1210.3" cy="406.8" r="7.5" fill="#377EB8" stroke="#fff" stroke-width="2"/><circle cx="1265.5" cy="300.5" r="7.5" fill="#377EB8" stroke="#fff" stroke-width="2"/><circle cx="1283.9" cy="300.6" r="7.5" fill="#377EB8" stroke="#fff" stroke-width="2"/><circle cx="1258.3" cy="313.9" r="7.5" fill="#377EB8" stroke="#fff" stroke-width="2"/><circle cx="1263.7" cy="328" r="7.5" fill="#377EB8" stroke="#fff" stroke-width="2"/><circle cx="1305.6" cy="335.6" r="7.5" fill="#377EB8" stroke="#fff" stroke-width="2"/><circle cx="1326.7" cy="355.1" r="7.5" fill="#377EB8" stroke="#fff" stroke-width="2"/><circle cx="1340.6" cy="301.5" r="7.5" fill="#377EB8" stroke="#fff" stroke-width="2"/><circle cx="1370.2" cy="292.3" r="7.5" fill="#377EB8" stroke="#fff" stroke-width="2"/><circle cx="1374.3" cy="305.9" r="7.5" fill="#377EB8" stroke="#fff" stroke-width="2"/><circle cx="1351.6" cy="323" r="7.5" fill="#377EB8" stroke="#fff" stroke-width="2"/><circle cx="1390" cy="323" r="7.5" fill="#377EB8" stroke="#fff" stroke-width="2"/><circle cx="1391.9" cy="347.3" r="7.5" fill="#377EB8" stroke="#fff" stroke-width="2"/><circle cx="1283.7" cy="391.9" r="7.5" fill="#377EB8" stroke="#fff" stroke-width="2"/><circle cx="1264" cy="402.4" r="7.5" fill="#377EB8" stroke="#fff" stroke-width="2"/><circle cx="1274.7" cy="407.4" r="7.5" fill="#377EB8" stroke="#fff" stroke-width="2"/><circle cx="1252.1" cy="413.5" r="7.5" fill="#377EB8" stroke="#fff" stroke-width="2"/><circle cx="1091.2" cy="415.3" r="7.5" fill="#377EB8" stroke="#fff" stroke-width="2"/><circle cx="1062.7" cy="421.5" r="7.5" fill="#377EB8" stroke="#fff" stroke-width="2"/><circle cx="1080.9" cy="430.8" r="7.5" fill="#377EB8" stroke="#fff" stroke-width="2"/><circle cx="1110.8" cy="438.7" r="7.5" fill="#377EB8" stroke="#fff" stroke-width="2"/><circle cx="1127.7" cy="430.8" r="7.5" fill="#377EB8" stroke="#fff" stroke-width="2"/><circle cx="1148.3" cy="429.7" r="7.5" fill="#377EB8" stroke="#fff" stroke-width="2"/><circle cx="1062.3" cy="446.2" r="7.5" fill="#E41A1C" stroke="#fff" stroke-width="2"/><circle cx="1084.7" cy="456.2" r="7.5" fill="#377EB8" stroke="#fff" stroke-width="2"/><circle cx="1114.9" cy="453.8" r="7.5" fill="#4DAF4A" stroke="#fff" stroke-width="2"/><circle cx="1134.2" cy="445.9" r="7.5" fill="#377EB8" stroke="#fff" stroke-width="2"/><circle cx="1129.7" cy="457.6" r="7.5" fill="#377EB8" stroke="#fff" stroke-width="2"/><circle cx="1070.6" cy="470.3" r="7.5" fill="#377EB8" stroke="#fff" stroke-width="2"/><circle cx="1089.8" cy="472.7" r="7.5" fill="#377EB8" stroke="#fff" stroke-width="2"/><circle cx="1134.9" cy="476.5" r="7.5" fill="#377EB8" stroke="#fff" stroke-width="2"/><circle cx="1066.5" cy="486.1" r="7.5" fill="#377EB8" stroke="#fff" stroke-width="2"/><circle cx="1111.8" cy="485.1" r="7.5" fill="#377EB8" stroke="#fff" stroke-width="2"/><circle cx="1065.8" cy="500.4" r="7.5" fill="#377EB8" stroke="#fff" stroke-width="2"/><circle cx="1082.6" cy="500.4" r="7.5" fill="#377EB8" stroke="#fff" stroke-width="2"/><circle cx="1107" cy="500.4" r="7.5" fill="#4DAF4A" stroke="#fff" stroke-width="2"/><circle cx="1127" cy="500.4" r="7.5" fill="#377EB8" stroke="#fff" stroke-width="2"/><circle cx="1183.1" cy="422.2" r="7.5" fill="#377EB8" stroke="#fff" stroke-width="2"/><circle cx="1165.3" cy="430.4" r="7.5" fill="#377EB8" stroke="#fff" stroke-width="2"/><circle cx="1167.5" cy="446.2" r="7.5" fill="#377EB8" stroke="#fff" stroke-width="2"/><circle cx="1203.8" cy="446" r="7.5" fill="#377EB8" stroke="#fff" stroke-width="2"/><circle cx="1192.4" cy="465.3" r="7.5" fill="#377EB8" stroke="#fff" stroke-width="2"/><circle cx="1176.9" cy="473.7" r="7.5" fill="#377EB8" stroke="#fff" stroke-width="2"/><circle cx="1159.1" cy="465.3" r="7.5" fill="#377EB8" stroke="#fff" stroke-width="2"/><circle cx="1153.8" cy="500.4" r="7.5" fill="#377EB8" stroke="#fff" stroke-width="2"/><circle cx="1183.1" cy="500.4" r="7.5" fill="#377EB8" stroke="#fff" stroke-width="2"/><circle cx="1217.3" cy="500.4" r="7.5" fill="#377EB8" stroke="#fff" stroke-width="2"/><circle cx="1247.9" cy="500.4" r="7.5" fill="#4DAF4A" stroke="#fff" stroke-width="2"/><circle cx="1336" cy="422.1" r="7.5" fill="#377EB8" stroke="#fff" stroke-width="2"/><circle cx="1270.9" cy="432.5" r="7.5" fill="#377EB8" stroke="#fff" stroke-width="2"/><circle cx="1313.8" cy="435.3" r="7.5" fill="#377EB8" stroke="#fff" stroke-width="2"/><circle cx="1277.6" cy="465.6" r="7.5" fill="#377EB8" stroke="#fff" stroke-width="2"/><circle cx="1281.3" cy="500.4" r="7.5" fill="#377EB8" stroke="#fff" stroke-width="2"/><circle cx="1315.3" cy="500.4" r="7.5" fill="#377EB8" stroke="#fff" stroke-width="2"/><circle cx="1329.2" cy="500.4" r="7.5" fill="#377EB8" stroke="#fff" stroke-width="2"/><circle cx="1380.7" cy="500.4" r="7.5" fill="#377EB8" stroke="#fff" stroke-width="2"/><line x1="1022.9" y1="1.4" x2="1022.9" y2="530.7" stroke="#000" stroke-width="3.2" stroke-linecap="butt"/><line x1="1021.3" y1="529.1" x2="1745" y2="529.1" stroke="#000" stroke-width="3.2" stroke-linecap="butt"/><text x="1577.3" y="53.1" font-size="34">&#x3C1;</text><text font-size="34" transform="translate(1602.7 53.2) scale(1.14 0.835)">=</text><text x="1630.6" y="53.1" font-size="34">0.625</text><text x="1549.1" y="110.2" font-size="34" font-style="italic">p</text><text font-size="34" transform="translate(1576.0 110.3) scale(1.14 0.835)">=</text><text x="1606.7" y="110.2" font-size="34">7.37e&#x2212;42</text><text x="1531" y="371.8" font-size="34">taxon</text><circle cx="1550.7" cy="412.4" r="6.5" fill="#377EB8"/><text x="1587.3" y="422" font-size="27.7">domesticus</text><circle cx="1550.7" cy="452.4" r="6.5" fill="#E41A1C"/><text x="1587.3" y="462" font-size="27.7">musculus</text><circle cx="1550.7" cy="492.3" r="6.5" fill="#4DAF4A"/><text x="1587.3" y="501.9" font-size="27.7">castaneus</text><text x="1256.5" y="619.5" font-size="35.5" font-style="italic">F</text><text font-size="34.9" transform="translate(1259.65 605.05) scale(1 1.09)">^</text><text x="1277.1" y="625.6" font-size="24.7">ROH</text><text x="1349.1" y="619.5" font-size="34">autosomes</text><g transform="rotate(-90 931 423.6)"><text x="931" y="423.6" font-size="35.5" font-style="italic">F</text><text font-size="34.9" transform="translate(934.15 409.15) scale(1 1.09)">^</text><text x="951.6" y="429.7" font-size="24.7">ROH</text><text x="1023.6" y="423.6" font-size="34">X chromosome</text></g><line x1="158" y1="668" x2="158" y2="1140.6" stroke="#EBEBEB" stroke-width="2.6" stroke-linecap="butt"/><line x1="198.43" y1="668" x2="198.43" y2="1140.6" stroke="#EBEBEB" stroke-width="2.6" stroke-linecap="butt"/><line x1="238.86" y1="668" x2="238.86" y2="1140.6" stroke="#EBEBEB" stroke-width="2.6" stroke-linecap="butt"/><line x1="279.29" y1="668" x2="279.29" y2="1140.6" stroke="#EBEBEB" stroke-width="2.6" stroke-linecap="butt"/><line x1="319.72" y1="668" x2="319.72" y2="1140.6" stroke="#EBEBEB" stroke-width="2.6" stroke-linecap="butt"/><line x1="360.15" y1="668" x2="360.15" y2="1140.6" stroke="#EBEBEB" stroke-width="2.6" stroke-linecap="butt"/><line x1="400.58" y1="668" x2="400.58" y2="1140.6" stroke="#EBEBEB" stroke-width="2.6" stroke-linecap="butt"/><line x1="441.01" y1="668" x2="441.01" y2="1140.6" stroke="#EBEBEB" stroke-width="2.6" stroke-linecap="butt"/><line x1="481.44" y1="668" x2="481.44" y2="1140.6" stroke="#EBEBEB" stroke-width="2.6" stroke-linecap="butt"/><line x1="521.87" y1="668" x2="521.87" y2="1140.6" stroke="#EBEBEB" stroke-width="2.6" stroke-linecap="butt"/><line x1="562.3" y1="668" x2="562.3" y2="1140.6" stroke="#EBEBEB" stroke-width="2.6" stroke-linecap="butt"/><line x1="602.73" y1="668" x2="602.73" y2="1140.6" stroke="#EBEBEB" stroke-width="2.6" stroke-linecap="butt"/><line x1="643.16" y1="668" x2="643.16" y2="1140.6" stroke="#EBEBEB" stroke-width="2.6" stroke-linecap="butt"/><line x1="683.59" y1="668" x2="683.59" y2="1140.6" stroke="#EBEBEB" stroke-width="2.6" stroke-linecap="butt"/><line x1="724.02" y1="668" x2="724.02" y2="1140.6" stroke="#EBEBEB" stroke-width="2.6" stroke-linecap="butt"/><line x1="764.45" y1="668" x2="764.45" y2="1140.6" stroke="#EBEBEB" stroke-width="2.6" stroke-linecap="butt"/><line x1="804.88" y1="668" x2="804.88" y2="1140.6" stroke="#EBEBEB" stroke-width="2.6" stroke-linecap="butt"/><line x1="845.31" y1="668" x2="845.31" y2="1140.6" stroke="#EBEBEB" stroke-width="2.6" stroke-linecap="butt"/><line x1="885.74" y1="668" x2="885.74" y2="1140.6" stroke="#EBEBEB" stroke-width="2.6" stroke-linecap="butt"/><line x1="926.17" y1="668" x2="926.17" y2="1140.6" stroke="#EBEBEB" stroke-width="2.6" stroke-linecap="butt"/><line x1="966.6" y1="668" x2="966.6" y2="1140.6" stroke="#EBEBEB" stroke-width="2.6" stroke-linecap="butt"/><line x1="1007.03" y1="668" x2="1007.03" y2="1140.6" stroke="#EBEBEB" stroke-width="2.6" stroke-linecap="butt"/><line x1="1047.46" y1="668" x2="1047.46" y2="1140.6" stroke="#EBEBEB" stroke-width="2.6" stroke-linecap="butt"/><line x1="1087.89" y1="668" x2="1087.89" y2="1140.6" stroke="#EBEBEB" stroke-width="2.6" stroke-linecap="butt"/><line x1="1128.32" y1="668" x2="1128.32" y2="1140.6" stroke="#EBEBEB" stroke-width="2.6" stroke-linecap="butt"/><line x1="125.4" y1="1119.5" x2="133.8" y2="1119.5" stroke="#333333" stroke-width="3.2" stroke-linecap="butt"/><text x="118.3" y="1129.5" font-size="27.7" text-anchor="end" fill="#4D4D4D">0.00</text><line x1="125.4" y1="1012.1" x2="133.8" y2="1012.1" stroke="#333333" stroke-width="3.2" stroke-linecap="butt"/><text x="118.3" y="1022.1" font-size="27.7" text-anchor="end" fill="#4D4D4D">0.25</text><line x1="125.4" y1="904.7" x2="133.8" y2="904.7" stroke="#333333" stroke-width="3.2" stroke-linecap="butt"/><text x="118.3" y="914.7" font-size="27.7" text-anchor="end" fill="#4D4D4D">0.50</text><line x1="125.4" y1="797.3" x2="133.8" y2="797.3" stroke="#333333" stroke-width="3.2" stroke-linecap="butt"/><text x="118.3" y="807.3" font-size="27.7" text-anchor="end" fill="#4D4D4D">0.75</text><line x1="125.4" y1="689.9" x2="133.8" y2="689.9" stroke="#333333" stroke-width="3.2" stroke-linecap="butt"/><text x="118.3" y="699.9" font-size="27.7" text-anchor="end" fill="#4D4D4D">1.00</text><line x1="158" y1="1140.6" x2="158" y2="1149" stroke="#333333" stroke-width="3.2" stroke-linecap="butt"/><text font-size="27.7" fill="#4D4D4D" text-anchor="end" transform="translate(172 1170.1) rotate(-45)">Iran</text><line x1="198.43" y1="1140.6" x2="198.43" y2="1149" stroke="#333333" stroke-width="3.2" stroke-linecap="butt"/><text font-size="27.7" fill="#4D4D4D" text-anchor="end" transform="translate(212.43 1170.1) rotate(-45)">New Zealand</text><line x1="238.86" y1="1140.6" x2="238.86" y2="1149" stroke="#333333" stroke-width="3.2" stroke-linecap="butt"/><text font-size="27.7" fill="#4D4D4D" text-anchor="end" transform="translate(252.86 1170.1) rotate(-45)">Madeira</text><line x1="279.29" y1="1140.6" x2="279.29" y2="1149" stroke="#333333" stroke-width="3.2" stroke-linecap="butt"/><text font-size="27.7" fill="#4D4D4D" text-anchor="end" transform="translate(293.29 1170.1) rotate(-45)">Greece</text><line x1="319.72" y1="1140.6" x2="319.72" y2="1149" stroke="#333333" stroke-width="3.2" stroke-linecap="butt"/><text font-size="27.7" fill="#4D4D4D" text-anchor="end" transform="translate(333.72 1170.1) rotate(-45)">Denmark</text><line x1="360.15" y1="1140.6" x2="360.15" y2="1149" stroke="#333333" stroke-width="3.2" stroke-linecap="butt"/><text font-size="27.7" fill="#4D4D4D" text-anchor="end" transform="translate(374.15 1170.1) rotate(-45)">Lebanon</text><line x1="400.58" y1="1140.6" x2="400.58" y2="1149" stroke="#333333" stroke-width="3.2" stroke-linecap="butt"/><text font-size="27.7" fill="#4D4D4D" text-anchor="end" transform="translate(414.58 1170.1) rotate(-45)">Crete</text><line x1="441.01" y1="1140.6" x2="441.01" y2="1149" stroke="#333333" stroke-width="3.2" stroke-linecap="butt"/><text font-size="27.7" fill="#4D4D4D" text-anchor="end" transform="translate(455.01 1170.1) rotate(-45)">Porto Santo</text><line x1="481.44" y1="1140.6" x2="481.44" y2="1149" stroke="#333333" stroke-width="3.2" stroke-linecap="butt"/><text font-size="27.7" fill="#4D4D4D" text-anchor="end" transform="translate(495.44 1170.1) rotate(-45)">Tunisia</text><line x1="521.87" y1="1140.6" x2="521.87" y2="1149" stroke="#333333" stroke-width="3.2" stroke-linecap="butt"/><text font-size="27.7" fill="#4D4D4D" text-anchor="end" transform="translate(535.87 1170.1) rotate(-45)">Cyprus</text><line x1="562.3" y1="1140.6" x2="562.3" y2="1149" stroke="#333333" stroke-width="3.2" stroke-linecap="butt"/><text font-size="27.7" fill="#4D4D4D" text-anchor="end" transform="translate(576.3 1170.1) rotate(-45)">France</text><line x1="602.73" y1="1140.6" x2="602.73" y2="1149" stroke="#333333" stroke-width="3.2" stroke-linecap="butt"/><text font-size="27.7" fill="#4D4D4D" text-anchor="end" transform="translate(616.73 1170.1) rotate(-45)">Portugal</text><line x1="643.16" y1="1140.6" x2="643.16" y2="1149" stroke="#333333" stroke-width="3.2" stroke-linecap="butt"/><text font-size="27.7" fill="#4D4D4D" text-anchor="end" transform="translate(657.16 1170.1) rotate(-45)">Scotland</text><line x1="683.59" y1="1140.6" x2="683.59" y2="1149" stroke="#333333" stroke-width="3.2" stroke-linecap="butt"/><text font-size="27.7" fill="#4D4D4D" text-anchor="end" transform="translate(697.59 1170.1) rotate(-45)">Gough</text><line x1="724.02" y1="1140.6" x2="724.02" y2="1149" stroke="#333333" stroke-width="3.2" stroke-linecap="butt"/><text font-size="27.7" fill="#4D4D4D" text-anchor="end" transform="translate(738.02 1170.1) rotate(-45)">Spain</text><line x1="764.45" y1="1140.6" x2="764.45" y2="1149" stroke="#333333" stroke-width="3.2" stroke-linecap="butt"/><text font-size="27.7" fill="#4D4D4D" text-anchor="end" transform="translate(778.45 1170.1) rotate(-45)">South Pacific</text><line x1="804.88" y1="1140.6" x2="804.88" y2="1149" stroke="#333333" stroke-width="3.2" stroke-linecap="butt"/><text font-size="27.7" fill="#4D4D4D" text-anchor="end" transform="translate(818.88 1170.1) rotate(-45)">North America</text><line x1="845.31" y1="1140.6" x2="845.31" y2="1149" stroke="#333333" stroke-width="3.2" stroke-linecap="butt"/><text font-size="27.7" fill="#4D4D4D" text-anchor="end" transform="translate(859.31 1170.1) rotate(-45)">Belgium</text><line x1="885.74" y1="1140.6" x2="885.74" y2="1149" stroke="#333333" stroke-width="3.2" stroke-linecap="butt"/><text font-size="27.7" fill="#4D4D4D" text-anchor="end" transform="translate(899.74 1170.1) rotate(-45)">Italy</text><line x1="926.17" y1="1140.6" x2="926.17" y2="1149" stroke="#333333" stroke-width="3.2" stroke-linecap="butt"/><text font-size="27.7" fill="#4D4D4D" text-anchor="end" transform="translate(940.17 1170.1) rotate(-45)">Floreana</text><line x1="966.6" y1="1140.6" x2="966.6" y2="1149" stroke="#333333" stroke-width="3.2" stroke-linecap="butt"/><text font-size="27.7" fill="#4D4D4D" text-anchor="end" transform="translate(980.6 1170.1) rotate(-45)">Switzerland</text><line x1="1007.03" y1="1140.6" x2="1007.03" y2="1149" stroke="#333333" stroke-width="3.2" stroke-linecap="butt"/><text font-size="27.7" fill="#4D4D4D" text-anchor="end" transform="translate(1021.03 1170.1) rotate(-45)">Farallon</text><line x1="1047.46" y1="1140.6" x2="1047.46" y2="1149" stroke="#333333" stroke-width="3.2" stroke-linecap="butt"/><text font-size="27.7" fill="#4D4D4D" text-anchor="end" transform="translate(1061.46 1170.1) rotate(-45)">Germany</text><line x1="1087.89" y1="1140.6" x2="1087.89" y2="1149" stroke="#333333" stroke-width="3.2" stroke-linecap="butt"/><text font-size="27.7" fill="#4D4D4D" text-anchor="end" transform="translate(1101.89 1170.1) rotate(-45)">Orkney</text><line x1="1128.32" y1="1140.6" x2="1128.32" y2="1149" stroke="#333333" stroke-width="3.2" stroke-linecap="butt"/><text font-size="27.7" fill="#4D4D4D" text-anchor="end" transform="translate(1142.32 1170.1) rotate(-45)">Heligoland</text><circle cx="203.2" cy="1094.09" r="6" fill="#000" stroke="#fff" stroke-width="2"/><circle cx="191.17" cy="1099.1" r="6" fill="#000" stroke="#fff" stroke-width="2"/><circle cx="193.37" cy="1091" r="6" fill="#000" stroke="#fff" stroke-width="2"/><circle cx="197.45" cy="1112.45" r="6" fill="#000" stroke="#fff" stroke-width="2"/><circle cx="195.71" cy="1106.56" r="6" fill="#000" stroke="#fff" stroke-width="2"/><circle cx="196.4" cy="1100.46" r="6" fill="#000" stroke="#fff" stroke-width="2"/><circle cx="198.14" cy="1084.75" r="6" fill="#000" stroke="#fff" stroke-width="2"/><circle cx="192.33" cy="1094.93" r="6" fill="#000" stroke="#fff" stroke-width="2"/><circle cx="191.8" cy="1107.78" r="6" fill="#000" stroke="#fff" stroke-width="2"/><circle cx="197.44" cy="1066.23" r="6" fill="#000" stroke="#fff" stroke-width="2"/><circle cx="206.05" cy="1106.46" r="6" fill="#000" stroke="#fff" stroke-width="2"/><circle cx="192.31" cy="1102.79" r="6" fill="#000" stroke="#fff" stroke-width="2"/><circle cx="208.39" cy="1116.85" r="6" fill="#000" stroke="#fff" stroke-width="2"/><circle cx="195.72" cy="1096.62" r="6" fill="#000" stroke="#fff" stroke-width="2"/><circle cx="202.12" cy="1106.07" r="6" fill="#000" stroke="#fff" stroke-width="2"/><circle cx="201.61" cy="1083.38" r="6" fill="#000" stroke="#fff" stroke-width="2"/><circle cx="200.89" cy="1073.2" r="6" fill="#000" stroke="#fff" stroke-width="2"/><circle cx="205.42" cy="1111.25" r="6" fill="#000" stroke="#fff" stroke-width="2"/><circle cx="198.29" cy="1070.51" r="6" fill="#000" stroke="#fff" stroke-width="2"/><circle cx="198.82" cy="1060.74" r="6" fill="#000" stroke="#fff" stroke-width="2"/><circle cx="199.02" cy="1080.85" r="6" fill="#000" stroke="#fff" stroke-width="2"/><circle cx="201.19" cy="1090.11" r="6" fill="#000" stroke="#fff" stroke-width="2"/><circle cx="189.3" cy="1104.87" r="6" fill="#000" stroke="#fff" stroke-width="2"/><circle cx="201.43" cy="1118.19" r="6" fill="#000" stroke="#fff" stroke-width="2"/><circle cx="198.53" cy="1056.32" r="6" fill="#000" stroke="#fff" stroke-width="2"/><circle cx="196.11" cy="1073.58" r="6" fill="#000" stroke="#fff" stroke-width="2"/><circle cx="198.18" cy="1049.44" r="6" fill="#000" stroke="#fff" stroke-width="2"/><circle cx="200.27" cy="1109.26" r="6" fill="#000" stroke="#fff" stroke-width="2"/><circle cx="204.55" cy="1098.42" r="6" fill="#000" stroke="#fff" stroke-width="2"/><circle cx="189.94" cy="1115.8" r="6" fill="#000" stroke="#fff" stroke-width="2"/><circle cx="196.17" cy="1116.71" r="6" fill="#000" stroke="#fff" stroke-width="2"/><circle cx="195.79" cy="1078.78" r="6" fill="#000" stroke="#fff" stroke-width="2"/><circle cx="199.22" cy="1094.76" r="6" fill="#000" stroke="#fff" stroke-width="2"/><circle cx="199.5" cy="1052.81" r="6" fill="#000" stroke="#fff" stroke-width="2"/><circle cx="209.49" cy="1111.32" r="6" fill="#000" stroke="#fff" stroke-width="2"/><circle cx="200.71" cy="1098.24" r="6" fill="#000" stroke="#fff" stroke-width="2"/><circle cx="198.47" cy="1044.58" r="6" fill="#000" stroke="#fff" stroke-width="2"/><circle cx="187.64" cy="1112.21" r="6" fill="#000" stroke="#fff" stroke-width="2"/><circle cx="198.82" cy="1076.64" r="6" fill="#000" stroke="#fff" stroke-width="2"/><circle cx="201.67" cy="1112.69" r="6" fill="#000" stroke="#fff" stroke-width="2"/><circle cx="191.35" cy="1111.93" r="6" fill="#000" stroke="#fff" stroke-width="2"/><circle cx="204.02" cy="1115.47" r="6" fill="#000" stroke="#fff" stroke-width="2"/><circle cx="205.25" cy="1102.51" r="6" fill="#000" stroke="#fff" stroke-width="2"/><circle cx="200.13" cy="1101.83" r="6" fill="#000" stroke="#fff" stroke-width="2"/><circle cx="192.82" cy="1118.09" r="6" fill="#000" stroke="#fff" stroke-width="2"/><circle cx="196.35" cy="1088.93" r="6" fill="#000" stroke="#fff" stroke-width="2"/><circle cx="194.62" cy="1110.1" r="6" fill="#000" stroke="#fff" stroke-width="2"/><circle cx="188.15" cy="1108.55" r="6" fill="#000" stroke="#fff" stroke-width="2"/><circle cx="226.63" cy="1109.71" r="6" fill="#000" stroke="#fff" stroke-width="2"/><circle cx="240.07" cy="1089.88" r="6" fill="#000" stroke="#fff" stroke-width="2"/><circle cx="250.78" cy="1113.88" r="6" fill="#000" stroke="#fff" stroke-width="2"/><circle cx="240.57" cy="1101.52" r="6" fill="#000" stroke="#fff" stroke-width="2"/><circle cx="236.02" cy="1102.06" r="6" fill="#000" stroke="#fff" stroke-width="2"/><circle cx="232.25" cy="1091.73" r="6" fill="#000" stroke="#fff" stroke-width="2"/><circle cx="243.42" cy="1116.92" r="6" fill="#000" stroke="#fff" stroke-width="2"/><circle cx="236.65" cy="1114.68" r="6" fill="#000" stroke="#fff" stroke-width="2"/><circle cx="244.05" cy="1089.97" r="6" fill="#000" stroke="#fff" stroke-width="2"/><circle cx="242.52" cy="1109.14" r="6" fill="#000" stroke="#fff" stroke-width="2"/><circle cx="231.3" cy="1112.5" r="6" fill="#000" stroke="#fff" stroke-width="2"/><circle cx="237.58" cy="1098.56" r="6" fill="#000" stroke="#fff" stroke-width="2"/><circle cx="229.88" cy="1103.88" r="6" fill="#000" stroke="#fff" stroke-width="2"/><circle cx="242.56" cy="1081.98" r="6" fill="#000" stroke="#fff" stroke-width="2"/><circle cx="233.83" cy="1097.6" r="6" fill="#000" stroke="#fff" stroke-width="2"/><circle cx="247.01" cy="1113.02" r="6" fill="#000" stroke="#fff" stroke-width="2"/><circle cx="234.63" cy="1079.76" r="6" fill="#000" stroke="#fff" stroke-width="2"/><circle cx="240.4" cy="1079.07" r="6" fill="#000" stroke="#fff" stroke-width="2"/><circle cx="237.1" cy="1082.46" r="6" fill="#000" stroke="#fff" stroke-width="2"/><circle cx="230.35" cy="1107.81" r="6" fill="#000" stroke="#fff" stroke-width="2"/><circle cx="228.51" cy="1115.17" r="6" fill="#000" stroke="#fff" stroke-width="2"/><circle cx="240.94" cy="1085.23" r="6" fill="#000" stroke="#fff" stroke-width="2"/><circle cx="236.08" cy="1091.24" r="6" fill="#000" stroke="#fff" stroke-width="2"/><circle cx="239.14" cy="1118.03" r="6" fill="#000" stroke="#fff" stroke-width="2"/><circle cx="232.07" cy="1116.89" r="6" fill="#000" stroke="#fff" stroke-width="2"/><circle cx="230.92" cy="1100.22" r="6" fill="#000" stroke="#fff" stroke-width="2"/><circle cx="249.39" cy="1117.51" r="6" fill="#000" stroke="#fff" stroke-width="2"/><circle cx="239.48" cy="1068.49" r="6" fill="#000" stroke="#fff" stroke-width="2"/><circle cx="240.48" cy="1094.39" r="6" fill="#000" stroke="#fff" stroke-width="2"/><circle cx="250.88" cy="1107.44" r="6" fill="#000" stroke="#fff" stroke-width="2"/><circle cx="234.68" cy="1105.84" r="6" fill="#000" stroke="#fff" stroke-width="2"/><circle cx="247.8" cy="1109.46" r="6" fill="#000" stroke="#fff" stroke-width="2"/><circle cx="236.84" cy="1094.8" r="6" fill="#000" stroke="#fff" stroke-width="2"/><circle cx="241.91" cy="1098.17" r="6" fill="#000" stroke="#fff" stroke-width="2"/><circle cx="240.67" cy="1074.39" r="6" fill="#000" stroke="#fff" stroke-width="2"/><circle cx="234.86" cy="1111.3" r="6" fill="#000" stroke="#fff" stroke-width="2"/><circle cx="249.45" cy="1103.45" r="6" fill="#000" stroke="#fff" stroke-width="2"/><circle cx="237.83" cy="1072.13" r="6" fill="#000" stroke="#fff" stroke-width="2"/><circle cx="232.97" cy="1085.03" r="6" fill="#000" stroke="#fff" stroke-width="2"/><circle cx="244.83" cy="1096.02" r="6" fill="#000" stroke="#fff" stroke-width="2"/><circle cx="238.8" cy="1107.96" r="6" fill="#000" stroke="#fff" stroke-width="2"/><circle cx="246.13" cy="1100.8" r="6" fill="#000" stroke="#fff" stroke-width="2"/><circle cx="238.22" cy="1064.89" r="6" fill="#000" stroke="#fff" stroke-width="2"/><circle cx="229.49" cy="1096.88" r="6" fill="#000" stroke="#fff" stroke-width="2"/><circle cx="226.38" cy="1105.54" r="6" fill="#000" stroke="#fff" stroke-width="2"/><circle cx="236.64" cy="1086.23" r="6" fill="#000" stroke="#fff" stroke-width="2"/><circle cx="240.44" cy="1114.52" r="6" fill="#000" stroke="#fff" stroke-width="2"/><circle cx="246.69" cy="1105.76" r="6" fill="#000" stroke="#fff" stroke-width="2"/><circle cx="237.54" cy="1076.27" r="6" fill="#000" stroke="#fff" stroke-width="2"/><circle cx="242.5" cy="1105.24" r="6" fill="#000" stroke="#fff" stroke-width="2"/><circle cx="275.95" cy="1085.5" r="6" fill="#000" stroke="#fff" stroke-width="2"/><circle cx="279.2" cy="1092.88" r="6" fill="#000" stroke="#fff" stroke-width="2"/><circle cx="282.92" cy="1091.6" r="6" fill="#000" stroke="#fff" stroke-width="2"/><circle cx="283.92" cy="1095.75" r="6" fill="#000" stroke="#fff" stroke-width="2"/><circle cx="292.46" cy="1113.76" r="6" fill="#000" stroke="#fff" stroke-width="2"/><circle cx="268.61" cy="1103.83" r="6" fill="#000" stroke="#fff" stroke-width="2"/><circle cx="281.19" cy="1099.56" r="6" fill="#000" stroke="#fff" stroke-width="2"/><circle cx="288.87" cy="1096.46" r="6" fill="#000" stroke="#fff" stroke-width="2"/><circle cx="284.61" cy="1087.57" r="6" fill="#000" stroke="#fff" stroke-width="2"/><circle cx="289.66" cy="1100.13" r="6" fill="#000" stroke="#fff" stroke-width="2"/><circle cx="284.12" cy="1108.18" r="6" fill="#000" stroke="#fff" stroke-width="2"/><circle cx="279" cy="1096.63" r="6" fill="#000" stroke="#fff" stroke-width="2"/><circle cx="290.77" cy="1104.04" r="6" fill="#000" stroke="#fff" stroke-width="2"/><circle cx="288.46" cy="1106.86" r="6" fill="#000" stroke="#fff" stroke-width="2"/><circle cx="287.37" cy="1116.38" r="6" fill="#000" stroke="#fff" stroke-width="2"/><circle cx="285.15" cy="1103.97" r="6" fill="#000" stroke="#fff" stroke-width="2"/><circle cx="274.09" cy="1112.78" r="6" fill="#000" stroke="#fff" stroke-width="2"/><circle cx="287.33" cy="1093.05" r="6" fill="#000" stroke="#fff" stroke-width="2"/><circle cx="272.9" cy="1116.92" r="6" fill="#000" stroke="#fff" stroke-width="2"/><circle cx="275.43" cy="1097.44" r="6" fill="#000" stroke="#fff" stroke-width="2"/><circle cx="287.88" cy="1111.37" r="6" fill="#000" stroke="#fff" stroke-width="2"/><circle cx="281.17" cy="1105.78" r="6" fill="#000" stroke="#fff" stroke-width="2"/><circle cx="278.48" cy="1102.55" r="6" fill="#000" stroke="#fff" stroke-width="2"/><circle cx="275.11" cy="1106.34" r="6" fill="#000" stroke="#fff" stroke-width="2"/><circle cx="285.23" cy="1099.78" r="6" fill="#000" stroke="#fff" stroke-width="2"/><circle cx="278.1" cy="1112.94" r="6" fill="#000" stroke="#fff" stroke-width="2"/><circle cx="290.78" cy="1117.78" r="6" fill="#000" stroke="#fff" stroke-width="2"/><circle cx="270.6" cy="1098.46" r="6" fill="#000" stroke="#fff" stroke-width="2"/><circle cx="278.98" cy="1108.87" r="6" fill="#000" stroke="#fff" stroke-width="2"/><circle cx="291.24" cy="1109.85" r="6" fill="#000" stroke="#fff" stroke-width="2"/><circle cx="278.63" cy="1082.82" r="6" fill="#000" stroke="#fff" stroke-width="2"/><circle cx="269.02" cy="1116.74" r="6" fill="#000" stroke="#fff" stroke-width="2"/><circle cx="274.21" cy="1093.56" r="6" fill="#000" stroke="#fff" stroke-width="2"/><circle cx="280.26" cy="1087" r="6" fill="#000" stroke="#fff" stroke-width="2"/><circle cx="276.96" cy="1088.97" r="6" fill="#000" stroke="#fff" stroke-width="2"/><circle cx="267.69" cy="1110.47" r="6" fill="#000" stroke="#fff" stroke-width="2"/><circle cx="284.35" cy="1082.41" r="6" fill="#000" stroke="#fff" stroke-width="2"/><circle cx="282.95" cy="1112.37" r="6" fill="#000" stroke="#fff" stroke-width="2"/><circle cx="273.98" cy="1101.37" r="6" fill="#000" stroke="#fff" stroke-width="2"/><circle cx="283.86" cy="1118.03" r="6" fill="#000" stroke="#fff" stroke-width="2"/><circle cx="270.48" cy="1113.3" r="6" fill="#000" stroke="#fff" stroke-width="2"/><circle cx="270.82" cy="1108.65" r="6" fill="#000" stroke="#fff" stroke-width="2"/><circle cx="277.73" cy="1116.54" r="6" fill="#000" stroke="#fff" stroke-width="2"/><circle cx="198.7" cy="1021.5" r="6" fill="#000" stroke="#fff" stroke-width="2"/><circle cx="198.7" cy="1034.7" r="6" fill="#000" stroke="#fff" stroke-width="2"/><circle cx="198.5" cy="1056.5" r="6" fill="#000" stroke="#fff" stroke-width="2"/><circle cx="193.9" cy="1066.8" r="6" fill="#000" stroke="#fff" stroke-width="2"/><circle cx="195" cy="1079.4" r="6" fill="#000" stroke="#fff" stroke-width="2"/><circle cx="197.9" cy="1088.6" r="6" fill="#000" stroke="#fff" stroke-width="2"/><circle cx="195" cy="1092" r="6" fill="#000" stroke="#fff" stroke-width="2"/><circle cx="193.9" cy="1098.9" r="6" fill="#000" stroke="#fff" stroke-width="2"/><circle cx="212.8" cy="1116.1" r="6" fill="#000" stroke="#fff" stroke-width="2"/><circle cx="184.7" cy="1113.8" r="6" fill="#000" stroke="#fff" stroke-width="2"/><circle cx="183.6" cy="1119.5" r="6" fill="#000" stroke="#fff" stroke-width="2"/><circle cx="238.7" cy="978" r="6" fill="#000" stroke="#fff" stroke-width="2"/><circle cx="238.9" cy="991.8" r="6" fill="#000" stroke="#fff" stroke-width="2"/><circle cx="237.4" cy="1033.6" r="6" fill="#000" stroke="#fff" stroke-width="2"/><circle cx="238.6" cy="1051.9" r="6" fill="#000" stroke="#fff" stroke-width="2"/><circle cx="237.4" cy="1069.1" r="6" fill="#000" stroke="#fff" stroke-width="2"/><circle cx="232.8" cy="1081.7" r="6" fill="#000" stroke="#fff" stroke-width="2"/><circle cx="246" cy="1081.7" r="6" fill="#000" stroke="#fff" stroke-width="2"/><circle cx="247.7" cy="1095.4" r="6" fill="#000" stroke="#fff" stroke-width="2"/><circle cx="247.7" cy="1103.5" r="6" fill="#000" stroke="#fff" stroke-width="2"/><circle cx="225.4" cy="1106.3" r="6" fill="#000" stroke="#fff" stroke-width="2"/><circle cx="254.6" cy="1109.2" r="6" fill="#000" stroke="#fff" stroke-width="2"/><circle cx="229.4" cy="1114.4" r="6" fill="#000" stroke="#fff" stroke-width="2"/><circle cx="235.1" cy="1114.9" r="6" fill="#000" stroke="#fff" stroke-width="2"/><circle cx="236.8" cy="1120.7" r="6" fill="#000" stroke="#fff" stroke-width="2"/><circle cx="248.9" cy="1114.9" r="6" fill="#000" stroke="#fff" stroke-width="2"/><circle cx="284.7" cy="990" r="6" fill="#000" stroke="#fff" stroke-width="2"/><circle cx="279.3" cy="1006" r="6" fill="#000" stroke="#fff" stroke-width="2"/><circle cx="282.7" cy="1019.2" r="6" fill="#000" stroke="#fff" stroke-width="2"/><circle cx="281.2" cy="1062.8" r="6" fill="#000" stroke="#fff" stroke-width="2"/><circle cx="275.2" cy="1072.5" r="6" fill="#000" stroke="#fff" stroke-width="2"/><circle cx="281.5" cy="1082.3" r="6" fill="#000" stroke="#fff" stroke-width="2"/><circle cx="284.4" cy="1089.7" r="6" fill="#000" stroke="#fff" stroke-width="2"/><circle cx="267.2" cy="1106.9" r="6" fill="#000" stroke="#fff" stroke-width="2"/><circle cx="285" cy="1101.7" r="6" fill="#000" stroke="#fff" stroke-width="2"/><circle cx="293.6" cy="1111.5" r="6" fill="#000" stroke="#fff" stroke-width="2"/><circle cx="283.3" cy="1117.8" r="6" fill="#000" stroke="#fff" stroke-width="2"/><circle cx="291.3" cy="1117.2" r="6" fill="#000" stroke="#fff" stroke-width="2"/><circle cx="266.1" cy="1115.5" r="6" fill="#000" stroke="#fff" stroke-width="2"/><circle cx="327.5" cy="1096" r="6" fill="#000" stroke="#fff" stroke-width="2"/><circle cx="313.3" cy="1107.8" r="6" fill="#000" stroke="#fff" stroke-width="2"/><circle cx="446.6" cy="1084.8" r="6" fill="#000" stroke="#fff" stroke-width="2"/><circle cx="441.2" cy="1092.8" r="6" fill="#000" stroke="#fff" stroke-width="2"/><circle cx="513.2" cy="1116.4" r="6" fill="#000" stroke="#fff" stroke-width="2"/><circle cx="530.1" cy="1115" r="6" fill="#000" stroke="#fff" stroke-width="2"/><circle cx="563.8" cy="934.6" r="6" fill="#000" stroke="#fff" stroke-width="2"/><circle cx="558.6" cy="978.9" r="6" fill="#000" stroke="#fff" stroke-width="2"/><circle cx="559.9" cy="1043.2" r="6" fill="#000" stroke="#fff" stroke-width="2"/><circle cx="557" cy="1053.8" r="6" fill="#000" stroke="#fff" stroke-width="2"/><circle cx="564.4" cy="1097.8" r="6" fill="#000" stroke="#fff" stroke-width="2"/><circle cx="548.3" cy="1105.9" r="6" fill="#000" stroke="#fff" stroke-width="2"/><circle cx="574.4" cy="1108.2" r="6" fill="#000" stroke="#fff" stroke-width="2"/><circle cx="559" cy="1117.5" r="6" fill="#000" stroke="#fff" stroke-width="2"/><circle cx="570.5" cy="1117.5" r="6" fill="#000" stroke="#fff" stroke-width="2"/><circle cx="615" cy="1059.6" r="6" fill="#000" stroke="#fff" stroke-width="2"/><circle cx="599.5" cy="1059.2" r="6" fill="#000" stroke="#fff" stroke-width="2"/><circle cx="599.9" cy="1090.5" r="6" fill="#000" stroke="#fff" stroke-width="2"/><circle cx="683.9" cy="904.7" r="6" fill="#000" stroke="#fff" stroke-width="2"/><circle cx="691.2" cy="1062.5" r="6" fill="#000" stroke="#fff" stroke-width="2"/><circle cx="677.7" cy="1068.3" r="6" fill="#000" stroke="#fff" stroke-width="2"/><circle cx="670" cy="1070.2" r="6" fill="#000" stroke="#fff" stroke-width="2"/><circle cx="686.4" cy="1071.2" r="6" fill="#000" stroke="#fff" stroke-width="2"/><circle cx="695.1" cy="1075.4" r="6" fill="#000" stroke="#fff" stroke-width="2"/><circle cx="671.9" cy="1080.8" r="6" fill="#000" stroke="#fff" stroke-width="2"/><circle cx="690.8" cy="1081.8" r="6" fill="#000" stroke="#fff" stroke-width="2"/><circle cx="727.9" cy="1045.1" r="6" fill="#000" stroke="#fff" stroke-width="2"/><circle cx="717.3" cy="1114.6" r="6" fill="#000" stroke="#fff" stroke-width="2"/><circle cx="753" cy="1006.2" r="6" fill="#000" stroke="#fff" stroke-width="2"/><circle cx="768.6" cy="1006.2" r="6" fill="#000" stroke="#fff" stroke-width="2"/><circle cx="749.7" cy="1017.6" r="6" fill="#000" stroke="#fff" stroke-width="2"/><circle cx="777.3" cy="1018.1" r="6" fill="#000" stroke="#fff" stroke-width="2"/><circle cx="770.3" cy="1044.6" r="6" fill="#000" stroke="#fff" stroke-width="2"/><circle cx="760.5" cy="1048.4" r="6" fill="#000" stroke="#fff" stroke-width="2"/><circle cx="765.4" cy="1060.3" r="6" fill="#000" stroke="#fff" stroke-width="2"/><circle cx="768.1" cy="1085.1" r="6" fill="#000" stroke="#fff" stroke-width="2"/><circle cx="768.6" cy="1090.5" r="6" fill="#000" stroke="#fff" stroke-width="2"/><circle cx="800.6" cy="869.7" r="6" fill="#000" stroke="#fff" stroke-width="2"/><circle cx="805.5" cy="891.9" r="6" fill="#000" stroke="#fff" stroke-width="2"/><circle cx="809.8" cy="908.6" r="6" fill="#000" stroke="#fff" stroke-width="2"/><circle cx="800.6" cy="919.1" r="6" fill="#000" stroke="#fff" stroke-width="2"/><circle cx="796.9" cy="933.9" r="6" fill="#000" stroke="#fff" stroke-width="2"/><circle cx="811.7" cy="935.2" r="6" fill="#000" stroke="#fff" stroke-width="2"/><circle cx="801.8" cy="945.1" r="6" fill="#000" stroke="#fff" stroke-width="2"/><circle cx="798.1" cy="947.5" r="6" fill="#000" stroke="#fff" stroke-width="2"/><circle cx="801.8" cy="953.7" r="6" fill="#000" stroke="#fff" stroke-width="2"/><circle cx="799.3" cy="962.4" r="6" fill="#000" stroke="#fff" stroke-width="2"/><circle cx="817.9" cy="964.8" r="6" fill="#000" stroke="#fff" stroke-width="2"/><circle cx="793.2" cy="972.9" r="6" fill="#000" stroke="#fff" stroke-width="2"/><circle cx="816.6" cy="977.2" r="6" fill="#000" stroke="#fff" stroke-width="2"/><circle cx="789.4" cy="977.2" r="6" fill="#000" stroke="#fff" stroke-width="2"/><circle cx="794.4" cy="980.9" r="6" fill="#000" stroke="#fff" stroke-width="2"/><circle cx="795.6" cy="987.1" r="6" fill="#000" stroke="#fff" stroke-width="2"/><circle cx="890.9" cy="980.2" r="6" fill="#000" stroke="#fff" stroke-width="2"/><circle cx="879.3" cy="1004.1" r="6" fill="#000" stroke="#fff" stroke-width="2"/><circle cx="895.8" cy="1003.4" r="6" fill="#000" stroke="#fff" stroke-width="2"/><circle cx="873.1" cy="1067.5" r="6" fill="#000" stroke="#fff" stroke-width="2"/><circle cx="932.6" cy="976.3" r="6" fill="#000" stroke="#fff" stroke-width="2"/><circle cx="923.3" cy="979.4" r="6" fill="#000" stroke="#fff" stroke-width="2"/><circle cx="938" cy="984.8" r="6" fill="#000" stroke="#fff" stroke-width="2"/><circle cx="914.1" cy="993.3" r="6" fill="#000" stroke="#fff" stroke-width="2"/><circle cx="935.7" cy="993.3" r="6" fill="#000" stroke="#fff" stroke-width="2"/><circle cx="931.8" cy="1000.3" r="6" fill="#000" stroke="#fff" stroke-width="2"/><circle cx="914.8" cy="1000.3" r="6" fill="#000" stroke="#fff" stroke-width="2"/><circle cx="921" cy="1007.2" r="6" fill="#000" stroke="#fff" stroke-width="2"/><circle cx="975.1" cy="949" r="6" fill="#000" stroke="#fff" stroke-width="2"/><circle cx="972.7" cy="970.5" r="6" fill="#000" stroke="#fff" stroke-width="2"/><circle cx="978.9" cy="989.5" r="6" fill="#000" stroke="#fff" stroke-width="2"/><circle cx="970.4" cy="994.1" r="6" fill="#000" stroke="#fff" stroke-width="2"/><circle cx="1009" cy="939.3" r="6" fill="#000" stroke="#fff" stroke-width="2"/><circle cx="1005.2" cy="948.5" r="6" fill="#000" stroke="#fff" stroke-width="2"/><circle cx="1016" cy="957" r="6" fill="#000" stroke="#fff" stroke-width="2"/><circle cx="1019.1" cy="967.1" r="6" fill="#000" stroke="#fff" stroke-width="2"/><circle cx="1002.1" cy="974.8" r="6" fill="#000" stroke="#fff" stroke-width="2"/><circle cx="1009.8" cy="974" r="6" fill="#000" stroke="#fff" stroke-width="2"/><circle cx="1001.3" cy="985.6" r="6" fill="#000" stroke="#fff" stroke-width="2"/><circle cx="1006.7" cy="983.3" r="6" fill="#000" stroke="#fff" stroke-width="2"/><circle cx="805.73" cy="1075.85" r="6" fill="#000" stroke="#fff" stroke-width="2"/><circle cx="799.68" cy="1008.03" r="6" fill="#000" stroke="#fff" stroke-width="2"/><circle cx="797.54" cy="1076.9" r="6" fill="#000" stroke="#fff" stroke-width="2"/><circle cx="808.44" cy="1049.06" r="6" fill="#000" stroke="#fff" stroke-width="2"/><circle cx="813.68" cy="1000.99" r="6" fill="#000" stroke="#fff" stroke-width="2"/><circle cx="806.47" cy="942.35" r="6" fill="#000" stroke="#fff" stroke-width="2"/><circle cx="795.59" cy="992.55" r="6" fill="#000" stroke="#fff" stroke-width="2"/><circle cx="813.87" cy="983.95" r="6" fill="#000" stroke="#fff" stroke-width="2"/><circle cx="811.61" cy="1073.19" r="6" fill="#000" stroke="#fff" stroke-width="2"/><circle cx="808.93" cy="1065.83" r="6" fill="#000" stroke="#fff" stroke-width="2"/><circle cx="807.59" cy="1056.89" r="6" fill="#000" stroke="#fff" stroke-width="2"/><circle cx="811.29" cy="1100.92" r="6" fill="#000" stroke="#fff" stroke-width="2"/><circle cx="797.87" cy="1064.28" r="6" fill="#000" stroke="#fff" stroke-width="2"/><circle cx="816.32" cy="953.94" r="6" fill="#000" stroke="#fff" stroke-width="2"/><circle cx="808.97" cy="981.08" r="6" fill="#000" stroke="#fff" stroke-width="2"/><circle cx="804.41" cy="1082.63" r="6" fill="#000" stroke="#fff" stroke-width="2"/><circle cx="811.4" cy="1052.9" r="6" fill="#000" stroke="#fff" stroke-width="2"/><circle cx="814.22" cy="1046.43" r="6" fill="#000" stroke="#fff" stroke-width="2"/><circle cx="801.32" cy="1078.8" r="6" fill="#000" stroke="#fff" stroke-width="2"/><circle cx="813.37" cy="1011.54" r="6" fill="#000" stroke="#fff" stroke-width="2"/><circle cx="794.38" cy="972.02" r="6" fill="#000" stroke="#fff" stroke-width="2"/><circle cx="798.26" cy="1057.88" r="6" fill="#000" stroke="#fff" stroke-width="2"/><circle cx="812.07" cy="950.42" r="6" fill="#000" stroke="#fff" stroke-width="2"/><circle cx="805.08" cy="934.61" r="6" fill="#000" stroke="#fff" stroke-width="2"/><circle cx="809.12" cy="946.42" r="6" fill="#000" stroke="#fff" stroke-width="2"/><circle cx="803.03" cy="1098.9" r="6" fill="#000" stroke="#fff" stroke-width="2"/><circle cx="802.11" cy="1064.46" r="6" fill="#000" stroke="#fff" stroke-width="2"/><circle cx="818.4" cy="1097.62" r="6" fill="#000" stroke="#fff" stroke-width="2"/><circle cx="803.88" cy="1054.29" r="6" fill="#000" stroke="#fff" stroke-width="2"/><circle cx="797.82" cy="1017.37" r="6" fill="#000" stroke="#fff" stroke-width="2"/><circle cx="803.62" cy="1009.64" r="6" fill="#000" stroke="#fff" stroke-width="2"/><circle cx="809.39" cy="1090.22" r="6" fill="#000" stroke="#fff" stroke-width="2"/><circle cx="809.01" cy="960.87" r="6" fill="#000" stroke="#fff" stroke-width="2"/><circle cx="807.43" cy="1096.72" r="6" fill="#000" stroke="#fff" stroke-width="2"/><circle cx="803.49" cy="1110.07" r="6" fill="#000" stroke="#fff" stroke-width="2"/><circle cx="807.66" cy="1042.3" r="6" fill="#000" stroke="#fff" stroke-width="2"/><circle cx="811.77" cy="1078.03" r="6" fill="#000" stroke="#fff" stroke-width="2"/><circle cx="794.11" cy="955.45" r="6" fill="#000" stroke="#fff" stroke-width="2"/><circle cx="811.29" cy="1059.3" r="6" fill="#000" stroke="#fff" stroke-width="2"/><circle cx="810.03" cy="966.95" r="6" fill="#000" stroke="#fff" stroke-width="2"/><circle cx="801.8" cy="971.27" r="6" fill="#000" stroke="#fff" stroke-width="2"/><circle cx="813.94" cy="1110.13" r="6" fill="#000" stroke="#fff" stroke-width="2"/><circle cx="816.24" cy="970.54" r="6" fill="#000" stroke="#fff" stroke-width="2"/><circle cx="806.24" cy="1118.15" r="6" fill="#000" stroke="#fff" stroke-width="2"/><circle cx="814.41" cy="964.09" r="6" fill="#000" stroke="#fff" stroke-width="2"/><circle cx="801.76" cy="1033.67" r="6" fill="#000" stroke="#fff" stroke-width="2"/><circle cx="792.89" cy="1108.46" r="6" fill="#000" stroke="#fff" stroke-width="2"/><circle cx="811.72" cy="1030.59" r="6" fill="#000" stroke="#fff" stroke-width="2"/><circle cx="801.81" cy="1042.54" r="6" fill="#000" stroke="#fff" stroke-width="2"/><circle cx="803.73" cy="980.9" r="6" fill="#000" stroke="#fff" stroke-width="2"/><circle cx="796.99" cy="1081.14" r="6" fill="#000" stroke="#fff" stroke-width="2"/><circle cx="806.8" cy="1006.19" r="6" fill="#000" stroke="#fff" stroke-width="2"/><circle cx="814.76" cy="1040.97" r="6" fill="#000" stroke="#fff" stroke-width="2"/><circle cx="814.73" cy="1093.91" r="6" fill="#000" stroke="#fff" stroke-width="2"/><circle cx="800.11" cy="1083.98" r="6" fill="#000" stroke="#fff" stroke-width="2"/><circle cx="797.29" cy="1051.77" r="6" fill="#000" stroke="#fff" stroke-width="2"/><circle cx="809.26" cy="1037.47" r="6" fill="#000" stroke="#fff" stroke-width="2"/><circle cx="804.41" cy="1090.13" r="6" fill="#000" stroke="#fff" stroke-width="2"/><circle cx="796.18" cy="1012.76" r="6" fill="#000" stroke="#fff" stroke-width="2"/><circle cx="792.46" cy="1102.01" r="6" fill="#000" stroke="#fff" stroke-width="2"/><circle cx="796.59" cy="1021.55" r="6" fill="#000" stroke="#fff" stroke-width="2"/><circle cx="797.32" cy="1072.69" r="6" fill="#000" stroke="#fff" stroke-width="2"/><circle cx="812.78" cy="957.74" r="6" fill="#000" stroke="#fff" stroke-width="2"/><circle cx="811.61" cy="939.22" r="6" fill="#000" stroke="#fff" stroke-width="2"/><circle cx="812.61" cy="1034.83" r="6" fill="#000" stroke="#fff" stroke-width="2"/><circle cx="795.63" cy="1001.07" r="6" fill="#000" stroke="#fff" stroke-width="2"/><circle cx="800.61" cy="1027.48" r="6" fill="#000" stroke="#fff" stroke-width="2"/><circle cx="807.93" cy="1113.43" r="6" fill="#000" stroke="#fff" stroke-width="2"/><circle cx="807.58" cy="1032.3" r="6" fill="#000" stroke="#fff" stroke-width="2"/><circle cx="800.05" cy="1002.61" r="6" fill="#000" stroke="#fff" stroke-width="2"/><circle cx="801.26" cy="1074.16" r="6" fill="#000" stroke="#fff" stroke-width="2"/><circle cx="794.99" cy="946.75" r="6" fill="#000" stroke="#fff" stroke-width="2"/><circle cx="813.33" cy="1019.79" r="6" fill="#000" stroke="#fff" stroke-width="2"/><circle cx="803.45" cy="991.31" r="6" fill="#000" stroke="#fff" stroke-width="2"/><circle cx="795.71" cy="1037.64" r="6" fill="#000" stroke="#fff" stroke-width="2"/><circle cx="800.05" cy="1037.54" r="6" fill="#000" stroke="#fff" stroke-width="2"/><circle cx="797.13" cy="951.38" r="6" fill="#000" stroke="#fff" stroke-width="2"/><circle cx="815.86" cy="979.55" r="6" fill="#000" stroke="#fff" stroke-width="2"/><circle cx="800.16" cy="959.55" r="6" fill="#000" stroke="#fff" stroke-width="2"/><circle cx="798.64" cy="940.05" r="6" fill="#000" stroke="#fff" stroke-width="2"/><circle cx="793.12" cy="1096.76" r="6" fill="#000" stroke="#fff" stroke-width="2"/><circle cx="795.28" cy="1005.31" r="6" fill="#000" stroke="#fff" stroke-width="2"/><circle cx="801.06" cy="1049.86" r="6" fill="#000" stroke="#fff" stroke-width="2"/><circle cx="794.03" cy="965.51" r="6" fill="#000" stroke="#fff" stroke-width="2"/><circle cx="795.4" cy="960.81" r="6" fill="#000" stroke="#fff" stroke-width="2"/><circle cx="797.55" cy="1098.67" r="6" fill="#000" stroke="#fff" stroke-width="2"/><circle cx="804.88" cy="1045.95" r="6" fill="#000" stroke="#fff" stroke-width="2"/><circle cx="812.66" cy="1116.78" r="6" fill="#000" stroke="#fff" stroke-width="2"/><circle cx="800.63" cy="1103.19" r="6" fill="#000" stroke="#fff" stroke-width="2"/><circle cx="804.55" cy="1071.04" r="6" fill="#000" stroke="#fff" stroke-width="2"/><circle cx="805.01" cy="1019.02" r="6" fill="#000" stroke="#fff" stroke-width="2"/><circle cx="802.09" cy="1114.54" r="6" fill="#000" stroke="#fff" stroke-width="2"/><circle cx="807.1" cy="974.82" r="6" fill="#000" stroke="#fff" stroke-width="2"/><circle cx="798.28" cy="1092.86" r="6" fill="#000" stroke="#fff" stroke-width="2"/><circle cx="813.8" cy="975.07" r="6" fill="#000" stroke="#fff" stroke-width="2"/><circle cx="812.2" cy="1006.89" r="6" fill="#000" stroke="#fff" stroke-width="2"/><circle cx="808.29" cy="991.09" r="6" fill="#000" stroke="#fff" stroke-width="2"/><circle cx="818.16" cy="1090.77" r="6" fill="#000" stroke="#fff" stroke-width="2"/><circle cx="794.59" cy="986.03" r="6" fill="#000" stroke="#fff" stroke-width="2"/><circle cx="799.44" cy="1068.57" r="6" fill="#000" stroke="#fff" stroke-width="2"/><circle cx="801.84" cy="946.87" r="6" fill="#000" stroke="#fff" stroke-width="2"/><circle cx="809.59" cy="1017.72" r="6" fill="#000" stroke="#fff" stroke-width="2"/><circle cx="808.04" cy="985.88" r="6" fill="#000" stroke="#fff" stroke-width="2"/><circle cx="811.66" cy="1083.89" r="6" fill="#000" stroke="#fff" stroke-width="2"/><circle cx="806.66" cy="1001.51" r="6" fill="#000" stroke="#fff" stroke-width="2"/><circle cx="808.21" cy="1021.97" r="6" fill="#000" stroke="#fff" stroke-width="2"/><circle cx="801.63" cy="964.76" r="6" fill="#000" stroke="#fff" stroke-width="2"/><circle cx="810.26" cy="934.55" r="6" fill="#000" stroke="#fff" stroke-width="2"/><circle cx="804.39" cy="1038.61" r="6" fill="#000" stroke="#fff" stroke-width="2"/><circle cx="808.41" cy="1011.45" r="6" fill="#000" stroke="#fff" stroke-width="2"/><circle cx="800.11" cy="985.12" r="6" fill="#000" stroke="#fff" stroke-width="2"/><circle cx="807.94" cy="1026.61" r="6" fill="#000" stroke="#fff" stroke-width="2"/><circle cx="804.37" cy="1029.39" r="6" fill="#000" stroke="#fff" stroke-width="2"/><circle cx="796" cy="1105.02" r="6" fill="#000" stroke="#fff" stroke-width="2"/><circle cx="802.09" cy="951.88" r="6" fill="#000" stroke="#fff" stroke-width="2"/><circle cx="800.28" cy="935.36" r="6" fill="#000" stroke="#fff" stroke-width="2"/><circle cx="808.8" cy="1070.05" r="6" fill="#000" stroke="#fff" stroke-width="2"/><circle cx="813.82" cy="944.81" r="6" fill="#000" stroke="#fff" stroke-width="2"/><circle cx="795.2" cy="1025.88" r="6" fill="#000" stroke="#fff" stroke-width="2"/><circle cx="806.92" cy="950.77" r="6" fill="#000" stroke="#fff" stroke-width="2"/><circle cx="792.78" cy="1090.45" r="6" fill="#000" stroke="#fff" stroke-width="2"/><circle cx="797.08" cy="1032.45" r="6" fill="#000" stroke="#fff" stroke-width="2"/><circle cx="797.43" cy="1110.69" r="6" fill="#000" stroke="#fff" stroke-width="2"/><circle cx="808.42" cy="1081.16" r="6" fill="#000" stroke="#fff" stroke-width="2"/><circle cx="804.07" cy="1060.41" r="6" fill="#000" stroke="#fff" stroke-width="2"/><circle cx="804.7" cy="956.08" r="6" fill="#000" stroke="#fff" stroke-width="2"/><circle cx="807.47" cy="1105.8" r="6" fill="#000" stroke="#fff" stroke-width="2"/><circle cx="797.05" cy="1115.64" r="6" fill="#000" stroke="#fff" stroke-width="2"/><circle cx="803.27" cy="1015.09" r="6" fill="#000" stroke="#fff" stroke-width="2"/><circle cx="794.01" cy="978.04" r="6" fill="#000" stroke="#fff" stroke-width="2"/><circle cx="814.29" cy="990.08" r="6" fill="#000" stroke="#fff" stroke-width="2"/><circle cx="799.84" cy="976.98" r="6" fill="#000" stroke="#fff" stroke-width="2"/><circle cx="803.04" cy="1023.12" r="6" fill="#000" stroke="#fff" stroke-width="2"/><circle cx="816.37" cy="1104.43" r="6" fill="#000" stroke="#fff" stroke-width="2"/><circle cx="797.81" cy="968.51" r="6" fill="#000" stroke="#fff" stroke-width="2"/><circle cx="796.36" cy="1044.17" r="6" fill="#000" stroke="#fff" stroke-width="2"/><circle cx="811.92" cy="1024" r="6" fill="#000" stroke="#fff" stroke-width="2"/><circle cx="150.1" cy="1118.4" r="6" fill="#000" stroke="#fff" stroke-width="2"/><circle cx="162.1" cy="1118" r="6" fill="#000" stroke="#fff" stroke-width="2"/><circle cx="198.4" cy="953.4" r="6" fill="#000" stroke="#fff" stroke-width="2"/><circle cx="198.5" cy="974.3" r="6" fill="#000" stroke="#fff" stroke-width="2"/><circle cx="197.9" cy="1011.8" r="6" fill="#000" stroke="#fff" stroke-width="2"/><circle cx="198.7" cy="1040.4" r="6" fill="#000" stroke="#fff" stroke-width="2"/><circle cx="198.2" cy="1049.6" r="6" fill="#000" stroke="#fff" stroke-width="2"/><circle cx="199.6" cy="1065.1" r="6" fill="#000" stroke="#fff" stroke-width="2"/><circle cx="201.9" cy="1075.4" r="6" fill="#000" stroke="#fff" stroke-width="2"/><circle cx="202.5" cy="1099.5" r="6" fill="#000" stroke="#fff" stroke-width="2"/><circle cx="194.7" cy="1105.2" r="6" fill="#000" stroke="#fff" stroke-width="2"/><circle cx="191.9" cy="1116.1" r="6" fill="#000" stroke="#fff" stroke-width="2"/><circle cx="205.3" cy="1118.4" r="6" fill="#000" stroke="#fff" stroke-width="2"/><circle cx="238.9" cy="879.8" r="6" fill="#000" stroke="#fff" stroke-width="2"/><circle cx="238.7" cy="923" r="6" fill="#000" stroke="#fff" stroke-width="2"/><circle cx="239.2" cy="971.5" r="6" fill="#000" stroke="#fff" stroke-width="2"/><circle cx="238" cy="999.2" r="6" fill="#000" stroke="#fff" stroke-width="2"/><circle cx="238" cy="1014.1" r="6" fill="#000" stroke="#fff" stroke-width="2"/><circle cx="238.6" cy="1028.4" r="6" fill="#000" stroke="#fff" stroke-width="2"/><circle cx="240.3" cy="1043.3" r="6" fill="#000" stroke="#fff" stroke-width="2"/><circle cx="238" cy="1061.1" r="6" fill="#000" stroke="#fff" stroke-width="2"/><circle cx="234.6" cy="1077.1" r="6" fill="#000" stroke="#fff" stroke-width="2"/><circle cx="243.2" cy="1088.3" r="6" fill="#000" stroke="#fff" stroke-width="2"/><circle cx="232.3" cy="1095.4" r="6" fill="#000" stroke="#fff" stroke-width="2"/><circle cx="239.1" cy="1109.2" r="6" fill="#000" stroke="#fff" stroke-width="2"/><circle cx="279.8" cy="923.8" r="6" fill="#000" stroke="#fff" stroke-width="2"/><circle cx="279" cy="957.2" r="6" fill="#000" stroke="#fff" stroke-width="2"/><circle cx="279.3" cy="970" r="6" fill="#000" stroke="#fff" stroke-width="2"/><circle cx="278.4" cy="985.5" r="6" fill="#000" stroke="#fff" stroke-width="2"/><circle cx="279" cy="995.5" r="6" fill="#000" stroke="#fff" stroke-width="2"/><circle cx="278.5" cy="1013.5" r="6" fill="#000" stroke="#fff" stroke-width="2"/><circle cx="278.9" cy="1026.4" r="6" fill="#000" stroke="#fff" stroke-width="2"/><circle cx="279.5" cy="1041.3" r="6" fill="#000" stroke="#fff" stroke-width="2"/><circle cx="280.1" cy="1070.8" r="6" fill="#000" stroke="#fff" stroke-width="2"/><circle cx="277.5" cy="1088" r="6" fill="#000" stroke="#fff" stroke-width="2"/><circle cx="273.2" cy="1096.4" r="6" fill="#000" stroke="#fff" stroke-width="2"/><circle cx="288.7" cy="1106" r="6" fill="#000" stroke="#fff" stroke-width="2"/><circle cx="275.8" cy="1117.2" r="6" fill="#000" stroke="#fff" stroke-width="2"/><circle cx="320.4" cy="985.6" r="6" fill="#000" stroke="#fff" stroke-width="2"/><circle cx="314.7" cy="1032.4" r="6" fill="#000" stroke="#fff" stroke-width="2"/><circle cx="326.6" cy="1063.4" r="6" fill="#000" stroke="#fff" stroke-width="2"/><circle cx="317.2" cy="1071.1" r="6" fill="#000" stroke="#fff" stroke-width="2"/><circle cx="307.6" cy="1091.9" r="6" fill="#000" stroke="#fff" stroke-width="2"/><circle cx="323.1" cy="1088" r="6" fill="#000" stroke="#fff" stroke-width="2"/><circle cx="319.9" cy="1111.4" r="6" fill="#000" stroke="#fff" stroke-width="2"/><circle cx="352.9" cy="998.6" r="6" fill="#000" stroke="#fff" stroke-width="2"/><circle cx="365.2" cy="1065.6" r="6" fill="#000" stroke="#fff" stroke-width="2"/><circle cx="352.9" cy="1101.3" r="6" fill="#000" stroke="#fff" stroke-width="2"/><circle cx="360.4" cy="1119.4" r="6" fill="#000" stroke="#fff" stroke-width="2"/><circle cx="388.5" cy="1051" r="6" fill="#000" stroke="#fff" stroke-width="2"/><circle cx="404.5" cy="1049.2" r="6" fill="#000" stroke="#fff" stroke-width="2"/><circle cx="405.7" cy="1060.4" r="6" fill="#000" stroke="#fff" stroke-width="2"/><circle cx="396.5" cy="1072.3" r="6" fill="#000" stroke="#fff" stroke-width="2"/><circle cx="400.6" cy="1100.7" r="6" fill="#000" stroke="#fff" stroke-width="2"/><circle cx="444.3" cy="933.2" r="6" fill="#000" stroke="#fff" stroke-width="2"/><circle cx="439.1" cy="1039.1" r="6" fill="#000" stroke="#fff" stroke-width="2"/><circle cx="442.1" cy="1053.1" r="6" fill="#000" stroke="#fff" stroke-width="2"/><circle cx="426.7" cy="1060.4" r="6" fill="#000" stroke="#fff" stroke-width="2"/><circle cx="437.1" cy="1063.4" r="6" fill="#000" stroke="#fff" stroke-width="2"/><circle cx="453.1" cy="1061.7" r="6" fill="#000" stroke="#fff" stroke-width="2"/><circle cx="432.4" cy="1075.5" r="6" fill="#000" stroke="#fff" stroke-width="2"/><circle cx="443.9" cy="1075.5" r="6" fill="#000" stroke="#fff" stroke-width="2"/><circle cx="435" cy="1091" r="6" fill="#000" stroke="#fff" stroke-width="2"/><circle cx="473.2" cy="1030.2" r="6" fill="#000" stroke="#fff" stroke-width="2"/><circle cx="481.2" cy="1070.9" r="6" fill="#000" stroke="#fff" stroke-width="2"/><circle cx="526.2" cy="908.5" r="6" fill="#000" stroke="#fff" stroke-width="2"/><circle cx="520.3" cy="943" r="6" fill="#000" stroke="#fff" stroke-width="2"/><circle cx="523.3" cy="1048.3" r="6" fill="#000" stroke="#fff" stroke-width="2"/><circle cx="510.9" cy="1097.5" r="6" fill="#000" stroke="#fff" stroke-width="2"/><circle cx="521.7" cy="1117.6" r="6" fill="#000" stroke="#fff" stroke-width="2"/><circle cx="564.4" cy="900.9" r="6" fill="#000" stroke="#fff" stroke-width="2"/><circle cx="561.3" cy="925.4" r="6" fill="#000" stroke="#fff" stroke-width="2"/><circle cx="558.6" cy="957.2" r="6" fill="#000" stroke="#fff" stroke-width="2"/><circle cx="565.7" cy="972.3" r="6" fill="#000" stroke="#fff" stroke-width="2"/><circle cx="562.4" cy="988.5" r="6" fill="#000" stroke="#fff" stroke-width="2"/><circle cx="555.7" cy="1034.5" r="6" fill="#000" stroke="#fff" stroke-width="2"/><circle cx="569.2" cy="1039.9" r="6" fill="#000" stroke="#fff" stroke-width="2"/><circle cx="565.1" cy="1053.2" r="6" fill="#000" stroke="#fff" stroke-width="2"/><circle cx="567.7" cy="1084.3" r="6" fill="#000" stroke="#fff" stroke-width="2"/><circle cx="558" cy="1091.8" r="6" fill="#000" stroke="#fff" stroke-width="2"/><circle cx="550.7" cy="1114.6" r="6" fill="#000" stroke="#fff" stroke-width="2"/><circle cx="566.3" cy="1114.6" r="6" fill="#000" stroke="#fff" stroke-width="2"/><circle cx="600.5" cy="926.7" r="6" fill="#000" stroke="#fff" stroke-width="2"/><circle cx="604.9" cy="955.7" r="6" fill="#000" stroke="#fff" stroke-width="2"/><circle cx="601.4" cy="1017.1" r="6" fill="#000" stroke="#fff" stroke-width="2"/><circle cx="603.4" cy="1049.5" r="6" fill="#000" stroke="#fff" stroke-width="2"/><circle cx="588.3" cy="1059.6" r="6" fill="#000" stroke="#fff" stroke-width="2"/><circle cx="606.3" cy="1061.1" r="6" fill="#000" stroke="#fff" stroke-width="2"/><circle cx="594.7" cy="1068.3" r="6" fill="#000" stroke="#fff" stroke-width="2"/><circle cx="605.7" cy="1076" r="6" fill="#000" stroke="#fff" stroke-width="2"/><circle cx="602.8" cy="1099.5" r="6" fill="#000" stroke="#fff" stroke-width="2"/><circle cx="634.8" cy="1021.9" r="6" fill="#000" stroke="#fff" stroke-width="2"/><circle cx="643" cy="1059.6" r="6" fill="#000" stroke="#fff" stroke-width="2"/><circle cx="682" cy="897.8" r="6" fill="#000" stroke="#fff" stroke-width="2"/><circle cx="680.2" cy="932.1" r="6" fill="#000" stroke="#fff" stroke-width="2"/><circle cx="686.4" cy="940.2" r="6" fill="#000" stroke="#fff" stroke-width="2"/><circle cx="683.1" cy="1027.3" r="6" fill="#000" stroke="#fff" stroke-width="2"/><circle cx="676.2" cy="1060.9" r="6" fill="#000" stroke="#fff" stroke-width="2"/><circle cx="687" cy="1060.1" r="6" fill="#000" stroke="#fff" stroke-width="2"/><circle cx="679.6" cy="1079.3" r="6" fill="#000" stroke="#fff" stroke-width="2"/><circle cx="683.5" cy="1088.1" r="6" fill="#000" stroke="#fff" stroke-width="2"/><circle cx="716.3" cy="965" r="6" fill="#000" stroke="#fff" stroke-width="2"/><circle cx="732.2" cy="972.7" r="6" fill="#000" stroke="#fff" stroke-width="2"/><circle cx="719.2" cy="983.3" r="6" fill="#000" stroke="#fff" stroke-width="2"/><circle cx="709.6" cy="1011.3" r="6" fill="#000" stroke="#fff" stroke-width="2"/><circle cx="725.6" cy="1006.1" r="6" fill="#000" stroke="#fff" stroke-width="2"/><circle cx="735.1" cy="1015.2" r="6" fill="#000" stroke="#fff" stroke-width="2"/><circle cx="720.2" cy="1039.3" r="6" fill="#000" stroke="#fff" stroke-width="2"/><circle cx="712.1" cy="1047" r="6" fill="#000" stroke="#fff" stroke-width="2"/><circle cx="726.4" cy="1084.3" r="6" fill="#000" stroke="#fff" stroke-width="2"/><circle cx="724.1" cy="1116" r="6" fill="#000" stroke="#fff" stroke-width="2"/><circle cx="765.3" cy="866.6" r="6" fill="#000" stroke="#fff" stroke-width="2"/><circle cx="762.6" cy="893.2" r="6" fill="#000" stroke="#fff" stroke-width="2"/><circle cx="766.6" cy="908" r="6" fill="#000" stroke="#fff" stroke-width="2"/><circle cx="763.5" cy="927.8" r="6" fill="#000" stroke="#fff" stroke-width="2"/><circle cx="764.7" cy="951.9" r="6" fill="#000" stroke="#fff" stroke-width="2"/><circle cx="759.4" cy="985.2" r="6" fill="#000" stroke="#fff" stroke-width="2"/><circle cx="770.9" cy="990.8" r="6" fill="#000" stroke="#fff" stroke-width="2"/><circle cx="762.2" cy="997.6" r="6" fill="#000" stroke="#fff" stroke-width="2"/><circle cx="757.1" cy="1011.6" r="6" fill="#000" stroke="#fff" stroke-width="2"/><circle cx="773.5" cy="1010" r="6" fill="#000" stroke="#fff" stroke-width="2"/><circle cx="762.7" cy="1021.9" r="6" fill="#000" stroke="#fff" stroke-width="2"/><circle cx="767.9" cy="1035.9" r="6" fill="#000" stroke="#fff" stroke-width="2"/><circle cx="758.4" cy="1043" r="6" fill="#000" stroke="#fff" stroke-width="2"/><circle cx="757.3" cy="1063" r="6" fill="#000" stroke="#fff" stroke-width="2"/><circle cx="761.6" cy="1078.6" r="6" fill="#000" stroke="#fff" stroke-width="2"/><circle cx="771.7" cy="1076.2" r="6" fill="#000" stroke="#fff" stroke-width="2"/><circle cx="756.2" cy="1087.3" r="6" fill="#000" stroke="#fff" stroke-width="2"/><circle cx="761.1" cy="1098.6" r="6" fill="#000" stroke="#fff" stroke-width="2"/><circle cx="764.3" cy="1114.1" r="6" fill="#000" stroke="#fff" stroke-width="2"/><circle cx="804.9" cy="854" r="6" fill="#000" stroke="#fff" stroke-width="2"/><circle cx="806.4" cy="872.8" r="6" fill="#000" stroke="#fff" stroke-width="2"/><circle cx="804.9" cy="886.1" r="6" fill="#000" stroke="#fff" stroke-width="2"/><circle cx="803" cy="901.8" r="6" fill="#000" stroke="#fff" stroke-width="2"/><circle cx="803.3" cy="912.9" r="6" fill="#000" stroke="#fff" stroke-width="2"/><circle cx="809.2" cy="918.9" r="6" fill="#000" stroke="#fff" stroke-width="2"/><circle cx="803.7" cy="936.4" r="6" fill="#000" stroke="#fff" stroke-width="2"/><circle cx="811.1" cy="949.6" r="6" fill="#000" stroke="#fff" stroke-width="2"/><circle cx="791.9" cy="964" r="6" fill="#000" stroke="#fff" stroke-width="2"/><circle cx="811.4" cy="966.7" r="6" fill="#000" stroke="#fff" stroke-width="2"/><circle cx="806.5" cy="976.8" r="6" fill="#000" stroke="#fff" stroke-width="2"/><circle cx="816.3" cy="985.6" r="6" fill="#000" stroke="#fff" stroke-width="2"/><circle cx="842" cy="938.3" r="6" fill="#000" stroke="#fff" stroke-width="2"/><circle cx="833.6" cy="963.2" r="6" fill="#000" stroke="#fff" stroke-width="2"/><circle cx="849" cy="960.5" r="6" fill="#000" stroke="#fff" stroke-width="2"/><circle cx="848.6" cy="1018.6" r="6" fill="#000" stroke="#fff" stroke-width="2"/><circle cx="840.5" cy="1070" r="6" fill="#000" stroke="#fff" stroke-width="2"/><circle cx="845.1" cy="1098.6" r="6" fill="#000" stroke="#fff" stroke-width="2"/><circle cx="883.9" cy="770.4" r="6" fill="#000" stroke="#fff" stroke-width="2"/><circle cx="885.8" cy="852.4" r="6" fill="#000" stroke="#fff" stroke-width="2"/><circle cx="879.8" cy="910.7" r="6" fill="#000" stroke="#fff" stroke-width="2"/><circle cx="890.9" cy="918.7" r="6" fill="#000" stroke="#fff" stroke-width="2"/><circle cx="884.4" cy="977.9" r="6" fill="#000" stroke="#fff" stroke-width="2"/><circle cx="876.5" cy="985.9" r="6" fill="#000" stroke="#fff" stroke-width="2"/><circle cx="887.3" cy="1007.7" r="6" fill="#000" stroke="#fff" stroke-width="2"/><circle cx="874.7" cy="1015.7" r="6" fill="#000" stroke="#fff" stroke-width="2"/><circle cx="896.6" cy="1060.5" r="6" fill="#000" stroke="#fff" stroke-width="2"/><circle cx="881.6" cy="1065.4" r="6" fill="#000" stroke="#fff" stroke-width="2"/><circle cx="892.9" cy="1071.6" r="6" fill="#000" stroke="#fff" stroke-width="2"/><circle cx="882.4" cy="1106.5" r="6" fill="#000" stroke="#fff" stroke-width="2"/><circle cx="885.5" cy="1118.7" r="6" fill="#000" stroke="#fff" stroke-width="2"/><circle cx="922.9" cy="955" r="6" fill="#000" stroke="#fff" stroke-width="2"/><circle cx="915.9" cy="983" r="6" fill="#000" stroke="#fff" stroke-width="2"/><circle cx="931.8" cy="981.4" r="6" fill="#000" stroke="#fff" stroke-width="2"/><circle cx="922.5" cy="995.6" r="6" fill="#000" stroke="#fff" stroke-width="2"/><circle cx="925.6" cy="1008.3" r="6" fill="#000" stroke="#fff" stroke-width="2"/><circle cx="966.6" cy="866.3" r="6" fill="#000" stroke="#fff" stroke-width="2"/><circle cx="963" cy="919.9" r="6" fill="#000" stroke="#fff" stroke-width="2"/><circle cx="965.3" cy="950.1" r="6" fill="#000" stroke="#fff" stroke-width="2"/><circle cx="958.8" cy="959.8" r="6" fill="#000" stroke="#fff" stroke-width="2"/><circle cx="970.7" cy="959.3" r="6" fill="#000" stroke="#fff" stroke-width="2"/><circle cx="962.7" cy="970.6" r="6" fill="#000" stroke="#fff" stroke-width="2"/><circle cx="953.1" cy="986.4" r="6" fill="#000" stroke="#fff" stroke-width="2"/><circle cx="968.1" cy="984.1" r="6" fill="#000" stroke="#fff" stroke-width="2"/><circle cx="962.4" cy="993.3" r="6" fill="#000" stroke="#fff" stroke-width="2"/><circle cx="958.8" cy="1005.2" r="6" fill="#000" stroke="#fff" stroke-width="2"/><circle cx="970.7" cy="1007.2" r="6" fill="#000" stroke="#fff" stroke-width="2"/><circle cx="964.2" cy="1020.8" r="6" fill="#000" stroke="#fff" stroke-width="2"/><circle cx="966.3" cy="1041.5" r="6" fill="#000" stroke="#fff" stroke-width="2"/><circle cx="1004.4" cy="934.9" r="6" fill="#000" stroke="#fff" stroke-width="2"/><circle cx="998.2" cy="957" r="6" fill="#000" stroke="#fff" stroke-width="2"/><circle cx="1011" cy="960.9" r="6" fill="#000" stroke="#fff" stroke-width="2"/><circle cx="992.5" cy="967.1" r="6" fill="#000" stroke="#fff" stroke-width="2"/><circle cx="1004.4" cy="970.6" r="6" fill="#000" stroke="#fff" stroke-width="2"/><circle cx="1006.7" cy="987.1" r="6" fill="#000" stroke="#fff" stroke-width="2"/><circle cx="1041.6" cy="723.9" r="6" fill="#000" stroke="#fff" stroke-width="2"/><circle cx="1052.9" cy="848.4" r="6" fill="#000" stroke="#fff" stroke-width="2"/><circle cx="1044.1" cy="910.5" r="6" fill="#000" stroke="#fff" stroke-width="2"/><circle cx="1050.8" cy="948.7" r="6" fill="#000" stroke="#fff" stroke-width="2"/><circle cx="1036.2" cy="964.3" r="6" fill="#000" stroke="#fff" stroke-width="2"/><circle cx="1054.3" cy="1030.8" r="6" fill="#000" stroke="#fff" stroke-width="2"/><circle cx="1039.2" cy="1055.1" r="6" fill="#000" stroke="#fff" stroke-width="2"/><circle cx="1047.2" cy="1080.6" r="6" fill="#000" stroke="#fff" stroke-width="2"/><circle cx="1091.4" cy="872.7" r="6" fill="#000" stroke="#fff" stroke-width="2"/><circle cx="1075.6" cy="882" r="6" fill="#000" stroke="#fff" stroke-width="2"/><circle cx="1092.6" cy="907" r="6" fill="#000" stroke="#fff" stroke-width="2"/><circle cx="1082.8" cy="944.6" r="6" fill="#000" stroke="#fff" stroke-width="2"/><circle cx="1087.5" cy="970.7" r="6" fill="#000" stroke="#fff" stroke-width="2"/><circle cx="1135.9" cy="834.4" r="6" fill="#000" stroke="#fff" stroke-width="2"/><circle cx="1120.1" cy="842.6" r="6" fill="#000" stroke="#fff" stroke-width="2"/><circle cx="1127.8" cy="862.7" r="6" fill="#000" stroke="#fff" stroke-width="2"/><line x1="133.8" y1="668" x2="133.8" y2="1142.2" stroke="#000" stroke-width="3.2" stroke-linecap="butt"/><line x1="132.2" y1="1140.6" x2="1152.5" y2="1140.6" stroke="#000" stroke-width="3.2" stroke-linecap="butt"/><g transform="rotate(-90 42.1 939.8)"><text x="42.1" y="939.8" font-size="35.5" font-style="italic">F</text><text font-size="34.9" transform="translate(45.25 925.35) scale(1 1.09)">^</text><text x="62.7" y="945.9" font-size="24.7">ROH</text></g><line x1="1435.4" y1="668" x2="1435.4" y2="1190.9" stroke="#EBEBEB" stroke-width="2.6" stroke-linecap="butt"/><line x1="1628.8" y1="668" x2="1628.8" y2="1190.9" stroke="#EBEBEB" stroke-width="2.6" stroke-linecap="butt"/><line x1="1311.1" y1="1166.7" x2="1319.5" y2="1166.7" stroke="#333333" stroke-width="3.2" stroke-linecap="butt"/><text x="1304" y="1176.7" font-size="27.7" text-anchor="end" fill="#4D4D4D">0.00</text><line x1="1311.1" y1="1047.88" x2="1319.5" y2="1047.88" stroke="#333333" stroke-width="3.2" stroke-linecap="butt"/><text x="1304" y="1057.88" font-size="27.7" text-anchor="end" fill="#4D4D4D">0.25</text><line x1="1311.1" y1="929.05" x2="1319.5" y2="929.05" stroke="#333333" stroke-width="3.2" stroke-linecap="butt"/><text x="1304" y="939.05" font-size="27.7" text-anchor="end" fill="#4D4D4D">0.50</text><line x1="1311.1" y1="810.23" x2="1319.5" y2="810.23" stroke="#333333" stroke-width="3.2" stroke-linecap="butt"/><text x="1304" y="820.23" font-size="27.7" text-anchor="end" fill="#4D4D4D">0.75</text><line x1="1311.1" y1="691.4" x2="1319.5" y2="691.4" stroke="#333333" stroke-width="3.2" stroke-linecap="butt"/><text x="1304" y="701.4" font-size="27.7" text-anchor="end" fill="#4D4D4D">1.00</text><line x1="1435.4" y1="1190.9" x2="1435.4" y2="1199.3" stroke="#333333" stroke-width="3.2" stroke-linecap="butt"/><text font-size="27.7" fill="#4D4D4D" text-anchor="end" transform="translate(1449.4 1220.4) rotate(-45)">standard</text><line x1="1628.8" y1="1190.9" x2="1628.8" y2="1199.3" stroke="#333333" stroke-width="3.2" stroke-linecap="butt"/><text font-size="27.7" fill="#4D4D4D" text-anchor="end" transform="translate(1642.8 1220.4) rotate(-45)">Rb</text><circle cx="1417.78" cy="1053.38" r="7" fill="#B3B3B3"/><circle cx="1481.28" cy="1141.57" r="7" fill="#B3B3B3"/><circle cx="1451.84" cy="1002.01" r="7" fill="#B3B3B3"/><circle cx="1415.81" cy="981.09" r="7" fill="#B3B3B3"/><circle cx="1409.92" cy="1161.87" r="7" fill="#B3B3B3"/><circle cx="1444.39" cy="1049.7" r="7" fill="#B3B3B3"/><circle cx="1441.29" cy="1072.26" r="7" fill="#B3B3B3"/><circle cx="1447.3" cy="1141.8" r="7" fill="#B3B3B3"/><circle cx="1389.93" cy="1146.27" r="7" fill="#B3B3B3"/><circle cx="1410.13" cy="1040.9" r="7" fill="#B3B3B3"/><circle cx="1417.92" cy="1093.1" r="7" fill="#B3B3B3"/><circle cx="1413.19" cy="1005.16" r="7" fill="#B3B3B3"/><circle cx="1464.25" cy="1106.59" r="7" fill="#B3B3B3"/><circle cx="1470.76" cy="1167.33" r="7" fill="#B3B3B3"/><circle cx="1365.83" cy="1161.31" r="7" fill="#B3B3B3"/><circle cx="1440.44" cy="923.56" r="7" fill="#B3B3B3"/><circle cx="1455.68" cy="1129.57" r="7" fill="#B3B3B3"/><circle cx="1429.82" cy="956.65" r="7" fill="#B3B3B3"/><circle cx="1434.21" cy="1120.57" r="7" fill="#B3B3B3"/><circle cx="1415.28" cy="1067.14" r="7" fill="#B3B3B3"/><circle cx="1467.71" cy="1127.09" r="7" fill="#B3B3B3"/><circle cx="1439.78" cy="1018.01" r="7" fill="#B3B3B3"/><circle cx="1465.53" cy="1019.29" r="7" fill="#B3B3B3"/><circle cx="1415.33" cy="1133.58" r="7" fill="#B3B3B3"/><circle cx="1399.8" cy="1103.85" r="7" fill="#B3B3B3"/><circle cx="1452.72" cy="1064.31" r="7" fill="#B3B3B3"/><circle cx="1507.12" cy="1159.51" r="7" fill="#B3B3B3"/><circle cx="1451.27" cy="1137.32" r="7" fill="#B3B3B3"/><circle cx="1440.62" cy="1079.26" r="7" fill="#B3B3B3"/><circle cx="1425.42" cy="1165" r="7" fill="#B3B3B3"/><circle cx="1497.66" cy="1152.01" r="7" fill="#B3B3B3"/><circle cx="1457.49" cy="1012.05" r="7" fill="#B3B3B3"/><circle cx="1443.12" cy="1141.81" r="7" fill="#B3B3B3"/><circle cx="1455.55" cy="1167.58" r="7" fill="#B3B3B3"/><circle cx="1414.14" cy="1027.6" r="7" fill="#B3B3B3"/><circle cx="1414.11" cy="1129.4" r="7" fill="#B3B3B3"/><circle cx="1397.65" cy="1148.07" r="7" fill="#B3B3B3"/><circle cx="1422.51" cy="1053.88" r="7" fill="#B3B3B3"/><circle cx="1456.44" cy="1016.48" r="7" fill="#B3B3B3"/><circle cx="1402.43" cy="1099.52" r="7" fill="#B3B3B3"/><circle cx="1402.05" cy="1160.24" r="7" fill="#B3B3B3"/><circle cx="1438.75" cy="1116.75" r="7" fill="#B3B3B3"/><circle cx="1436.21" cy="1002.38" r="7" fill="#B3B3B3"/><circle cx="1433.91" cy="1100.58" r="7" fill="#B3B3B3"/><circle cx="1398.41" cy="1127.53" r="7" fill="#B3B3B3"/><circle cx="1484.03" cy="1160.21" r="7" fill="#B3B3B3"/><circle cx="1452.38" cy="1163.18" r="7" fill="#B3B3B3"/><circle cx="1456.42" cy="991.68" r="7" fill="#B3B3B3"/><circle cx="1394.59" cy="1142.71" r="7" fill="#B3B3B3"/><circle cx="1478.12" cy="1138.4" r="7" fill="#B3B3B3"/><circle cx="1431.95" cy="932.89" r="7" fill="#B3B3B3"/><circle cx="1462.28" cy="1025.41" r="7" fill="#B3B3B3"/><circle cx="1420.01" cy="1017.34" r="7" fill="#B3B3B3"/><circle cx="1403.95" cy="1095.64" r="7" fill="#B3B3B3"/><circle cx="1434.05" cy="1125.23" r="7" fill="#B3B3B3"/><circle cx="1440.92" cy="990.71" r="7" fill="#B3B3B3"/><circle cx="1385.6" cy="1148.11" r="7" fill="#B3B3B3"/><circle cx="1464.01" cy="1001.23" r="7" fill="#B3B3B3"/><circle cx="1472.47" cy="1142.78" r="7" fill="#B3B3B3"/><circle cx="1455.75" cy="1122.7" r="7" fill="#B3B3B3"/><circle cx="1421.73" cy="1099.83" r="7" fill="#B3B3B3"/><circle cx="1449.02" cy="998.76" r="7" fill="#B3B3B3"/><circle cx="1455.1" cy="1047.91" r="7" fill="#B3B3B3"/><circle cx="1423.95" cy="968.82" r="7" fill="#B3B3B3"/><circle cx="1417.73" cy="1088.74" r="7" fill="#B3B3B3"/><circle cx="1444" cy="1110.57" r="7" fill="#B3B3B3"/><circle cx="1460.9" cy="1021.59" r="7" fill="#B3B3B3"/><circle cx="1410.97" cy="1099.1" r="7" fill="#B3B3B3"/><circle cx="1429.19" cy="948.97" r="7" fill="#B3B3B3"/><circle cx="1405.94" cy="1005.71" r="7" fill="#B3B3B3"/><circle cx="1431.35" cy="1131.38" r="7" fill="#B3B3B3"/><circle cx="1425.42" cy="983.3" r="7" fill="#B3B3B3"/><circle cx="1391.3" cy="1150.93" r="7" fill="#B3B3B3"/><circle cx="1363.08" cy="1155.91" r="7" fill="#B3B3B3"/><circle cx="1421.56" cy="1001.3" r="7" fill="#B3B3B3"/><circle cx="1406.42" cy="1084.13" r="7" fill="#B3B3B3"/><circle cx="1436.35" cy="1060.97" r="7" fill="#B3B3B3"/><circle cx="1428.63" cy="1089.7" r="7" fill="#B3B3B3"/><circle cx="1422.02" cy="1081.49" r="7" fill="#B3B3B3"/><circle cx="1421.27" cy="980.84" r="7" fill="#B3B3B3"/><circle cx="1453.84" cy="981.88" r="7" fill="#B3B3B3"/><circle cx="1455.98" cy="997.29" r="7" fill="#B3B3B3"/><circle cx="1495.13" cy="1147.38" r="7" fill="#B3B3B3"/><circle cx="1447.47" cy="1060.76" r="7" fill="#B3B3B3"/><circle cx="1431.42" cy="971.93" r="7" fill="#B3B3B3"/><circle cx="1423.65" cy="1144.47" r="7" fill="#B3B3B3"/><circle cx="1479.49" cy="1153.08" r="7" fill="#B3B3B3"/><circle cx="1468.47" cy="1105.44" r="7" fill="#B3B3B3"/><circle cx="1396.01" cy="1102.15" r="7" fill="#B3B3B3"/><circle cx="1410.4" cy="1156.94" r="7" fill="#B3B3B3"/><circle cx="1460.72" cy="1104.04" r="7" fill="#B3B3B3"/><circle cx="1453.65" cy="974.3" r="7" fill="#B3B3B3"/><circle cx="1407.15" cy="1103.81" r="7" fill="#B3B3B3"/><circle cx="1436.4" cy="854.78" r="7" fill="#B3B3B3"/><circle cx="1409.18" cy="1013.01" r="7" fill="#B3B3B3"/><circle cx="1425.55" cy="1129.82" r="7" fill="#B3B3B3"/><circle cx="1480.4" cy="1147.44" r="7" fill="#B3B3B3"/><circle cx="1435" cy="980.57" r="7" fill="#B3B3B3"/><circle cx="1382.22" cy="1167.46" r="7" fill="#B3B3B3"/><circle cx="1478.03" cy="1109.98" r="7" fill="#B3B3B3"/><circle cx="1413.57" cy="1137.64" r="7" fill="#B3B3B3"/><circle cx="1435.2" cy="1149.06" r="7" fill="#B3B3B3"/><circle cx="1395.96" cy="1138.95" r="7" fill="#B3B3B3"/><circle cx="1399.17" cy="1135.63" r="7" fill="#B3B3B3"/><circle cx="1412.59" cy="1125.66" r="7" fill="#B3B3B3"/><circle cx="1434.62" cy="1076.24" r="7" fill="#B3B3B3"/><circle cx="1429.32" cy="1117.99" r="7" fill="#B3B3B3"/><circle cx="1425.09" cy="1119.42" r="7" fill="#B3B3B3"/><circle cx="1437" cy="1072.48" r="7" fill="#B3B3B3"/><circle cx="1391.74" cy="1137.76" r="7" fill="#B3B3B3"/><circle cx="1468.27" cy="1163.99" r="7" fill="#B3B3B3"/><circle cx="1409.64" cy="1151.24" r="7" fill="#B3B3B3"/><circle cx="1420.21" cy="962.06" r="7" fill="#B3B3B3"/><circle cx="1452.25" cy="985.72" r="7" fill="#B3B3B3"/><circle cx="1421.18" cy="1129.91" r="7" fill="#B3B3B3"/><circle cx="1409.12" cy="1122.06" r="7" fill="#B3B3B3"/><circle cx="1424.24" cy="950" r="7" fill="#B3B3B3"/><circle cx="1445.34" cy="1137.28" r="7" fill="#B3B3B3"/><circle cx="1454.81" cy="1095.69" r="7" fill="#B3B3B3"/><circle cx="1426.42" cy="1085.29" r="7" fill="#B3B3B3"/><circle cx="1447.03" cy="1095.57" r="7" fill="#B3B3B3"/><circle cx="1433.68" cy="899.88" r="7" fill="#B3B3B3"/><circle cx="1422.62" cy="1095.9" r="7" fill="#B3B3B3"/><circle cx="1478.3" cy="1167.6" r="7" fill="#B3B3B3"/><circle cx="1432.03" cy="916.18" r="7" fill="#B3B3B3"/><circle cx="1429.46" cy="1050.92" r="7" fill="#B3B3B3"/><circle cx="1385.36" cy="1154.97" r="7" fill="#B3B3B3"/><circle cx="1437.84" cy="1160.86" r="7" fill="#B3B3B3"/><circle cx="1446.9" cy="962.57" r="7" fill="#B3B3B3"/><circle cx="1365.93" cy="1152.83" r="7" fill="#B3B3B3"/><circle cx="1424.17" cy="958.55" r="7" fill="#B3B3B3"/><circle cx="1446.89" cy="1011.61" r="7" fill="#B3B3B3"/><circle cx="1415.77" cy="1038.42" r="7" fill="#B3B3B3"/><circle cx="1433.97" cy="966.6" r="7" fill="#B3B3B3"/><circle cx="1421.91" cy="1106.43" r="7" fill="#B3B3B3"/><circle cx="1430.38" cy="1034.72" r="7" fill="#B3B3B3"/><circle cx="1469.78" cy="1100.98" r="7" fill="#B3B3B3"/><circle cx="1465.23" cy="1113.46" r="7" fill="#B3B3B3"/><circle cx="1434.77" cy="1090.75" r="7" fill="#B3B3B3"/><circle cx="1442.19" cy="1010.69" r="7" fill="#B3B3B3"/><circle cx="1382.27" cy="1143.35" r="7" fill="#B3B3B3"/><circle cx="1377.88" cy="1142.75" r="7" fill="#B3B3B3"/><circle cx="1433.05" cy="861.85" r="7" fill="#B3B3B3"/><circle cx="1444.71" cy="1133.09" r="7" fill="#B3B3B3"/><circle cx="1436.19" cy="926.11" r="7" fill="#B3B3B3"/><circle cx="1405.78" cy="1140.23" r="7" fill="#B3B3B3"/><circle cx="1395.87" cy="1107.67" r="7" fill="#B3B3B3"/><circle cx="1382.73" cy="1151.07" r="7" fill="#B3B3B3"/><circle cx="1377.68" cy="1146.91" r="7" fill="#B3B3B3"/><circle cx="1450.63" cy="1155.54" r="7" fill="#B3B3B3"/><circle cx="1470.79" cy="1130.89" r="7" fill="#B3B3B3"/><circle cx="1438.52" cy="896.17" r="7" fill="#B3B3B3"/><circle cx="1431.13" cy="1138.12" r="7" fill="#B3B3B3"/><circle cx="1455.54" cy="1078.68" r="7" fill="#B3B3B3"/><circle cx="1439.81" cy="930.71" r="7" fill="#B3B3B3"/><circle cx="1401.75" cy="1140.93" r="7" fill="#B3B3B3"/><circle cx="1408.72" cy="1093.66" r="7" fill="#B3B3B3"/><circle cx="1428.78" cy="1126.48" r="7" fill="#B3B3B3"/><circle cx="1473.84" cy="1147.44" r="7" fill="#B3B3B3"/><circle cx="1410.08" cy="1058.69" r="7" fill="#B3B3B3"/><circle cx="1435.79" cy="996.69" r="7" fill="#B3B3B3"/><circle cx="1469.04" cy="1123.03" r="7" fill="#B3B3B3"/><circle cx="1427.15" cy="1044.84" r="7" fill="#B3B3B3"/><circle cx="1426.75" cy="1019.69" r="7" fill="#B3B3B3"/><circle cx="1443.56" cy="960.19" r="7" fill="#B3B3B3"/><circle cx="1428.19" cy="941.02" r="7" fill="#B3B3B3"/><circle cx="1445.36" cy="1087.23" r="7" fill="#B3B3B3"/><circle cx="1423.54" cy="1125.51" r="7" fill="#B3B3B3"/><circle cx="1453.99" cy="1151.36" r="7" fill="#B3B3B3"/><circle cx="1463.14" cy="1117.81" r="7" fill="#B3B3B3"/><circle cx="1431.3" cy="1068.66" r="7" fill="#B3B3B3"/><circle cx="1383.71" cy="1161.22" r="7" fill="#B3B3B3"/><circle cx="1447.65" cy="1037.28" r="7" fill="#B3B3B3"/><circle cx="1426.58" cy="1033.01" r="7" fill="#B3B3B3"/><circle cx="1408.42" cy="1008.96" r="7" fill="#B3B3B3"/><circle cx="1377.73" cy="1162.42" r="7" fill="#B3B3B3"/><circle cx="1426.59" cy="972.56" r="7" fill="#B3B3B3"/><circle cx="1456.26" cy="987.07" r="7" fill="#B3B3B3"/><circle cx="1413.92" cy="1093.62" r="7" fill="#B3B3B3"/><circle cx="1425.24" cy="1038.65" r="7" fill="#B3B3B3"/><circle cx="1375.44" cy="1158.76" r="7" fill="#B3B3B3"/><circle cx="1404.27" cy="1108.32" r="7" fill="#B3B3B3"/><circle cx="1494.8" cy="1162.9" r="7" fill="#B3B3B3"/><circle cx="1447.77" cy="1074.92" r="7" fill="#B3B3B3"/><circle cx="1433.39" cy="1109.49" r="7" fill="#B3B3B3"/><circle cx="1465.01" cy="1013.44" r="7" fill="#B3B3B3"/><circle cx="1440.38" cy="1137.66" r="7" fill="#B3B3B3"/><circle cx="1460.93" cy="1076.82" r="7" fill="#B3B3B3"/><circle cx="1440.15" cy="1023.26" r="7" fill="#B3B3B3"/><circle cx="1380.45" cy="1156.96" r="7" fill="#B3B3B3"/><circle cx="1447.06" cy="1054.34" r="7" fill="#B3B3B3"/><circle cx="1444.59" cy="1023.85" r="7" fill="#B3B3B3"/><circle cx="1422.93" cy="1059.45" r="7" fill="#B3B3B3"/><circle cx="1432.52" cy="886.68" r="7" fill="#B3B3B3"/><circle cx="1467.18" cy="1118.87" r="7" fill="#B3B3B3"/><circle cx="1395.55" cy="1120.77" r="7" fill="#B3B3B3"/><circle cx="1457.7" cy="1144.73" r="7" fill="#B3B3B3"/><circle cx="1427.55" cy="979.41" r="7" fill="#B3B3B3"/><circle cx="1412.56" cy="1009.27" r="7" fill="#B3B3B3"/><circle cx="1430.5" cy="992.76" r="7" fill="#B3B3B3"/><circle cx="1447.15" cy="1116.59" r="7" fill="#B3B3B3"/><circle cx="1440.43" cy="957.44" r="7" fill="#B3B3B3"/><circle cx="1460.11" cy="1166.47" r="7" fill="#B3B3B3"/><circle cx="1433.45" cy="893.74" r="7" fill="#B3B3B3"/><circle cx="1465.8" cy="1143.08" r="7" fill="#B3B3B3"/><circle cx="1432.98" cy="1016.75" r="7" fill="#B3B3B3"/><circle cx="1422.83" cy="1025.7" r="7" fill="#B3B3B3"/><circle cx="1400.51" cy="1144.86" r="7" fill="#B3B3B3"/><circle cx="1448.18" cy="1003.73" r="7" fill="#B3B3B3"/><circle cx="1474.43" cy="1125.84" r="7" fill="#B3B3B3"/><circle cx="1432.16" cy="922" r="7" fill="#B3B3B3"/><circle cx="1437.08" cy="1112.72" r="7" fill="#B3B3B3"/><circle cx="1437.3" cy="1094.1" r="7" fill="#B3B3B3"/><circle cx="1440.02" cy="972.7" r="7" fill="#B3B3B3"/><circle cx="1438.01" cy="1012.25" r="7" fill="#B3B3B3"/><circle cx="1439.24" cy="967.99" r="7" fill="#B3B3B3"/><circle cx="1454.08" cy="1146.87" r="7" fill="#B3B3B3"/><circle cx="1438.9" cy="913.82" r="7" fill="#B3B3B3"/><circle cx="1454.14" cy="1052.04" r="7" fill="#B3B3B3"/><circle cx="1413.62" cy="1033.48" r="7" fill="#B3B3B3"/><circle cx="1369.49" cy="1159.45" r="7" fill="#B3B3B3"/><circle cx="1438.93" cy="982.35" r="7" fill="#B3B3B3"/><circle cx="1433.97" cy="1064.58" r="7" fill="#B3B3B3"/><circle cx="1488.77" cy="1146.03" r="7" fill="#B3B3B3"/><circle cx="1441.86" cy="1091.19" r="7" fill="#B3B3B3"/><circle cx="1441.53" cy="1028.05" r="7" fill="#B3B3B3"/><circle cx="1459.54" cy="1135.49" r="7" fill="#B3B3B3"/><circle cx="1439.37" cy="994.69" r="7" fill="#B3B3B3"/><circle cx="1370.06" cy="1154.43" r="7" fill="#B3B3B3"/><circle cx="1397.9" cy="1157.09" r="7" fill="#B3B3B3"/><circle cx="1438.53" cy="961.94" r="7" fill="#B3B3B3"/><circle cx="1444.58" cy="1078.45" r="7" fill="#B3B3B3"/><circle cx="1490.92" cy="1151.42" r="7" fill="#B3B3B3"/><circle cx="1440.62" cy="1060.11" r="7" fill="#B3B3B3"/><circle cx="1427.87" cy="1058.83" r="7" fill="#B3B3B3"/><circle cx="1449.07" cy="1111.53" r="7" fill="#B3B3B3"/><circle cx="1436.43" cy="1053.25" r="7" fill="#B3B3B3"/><circle cx="1460.9" cy="1092.19" r="7" fill="#B3B3B3"/><circle cx="1433.3" cy="960.5" r="7" fill="#B3B3B3"/><circle cx="1426.21" cy="962.24" r="7" fill="#B3B3B3"/><circle cx="1472.36" cy="1160.89" r="7" fill="#B3B3B3"/><circle cx="1409.51" cy="1086.91" r="7" fill="#B3B3B3"/><circle cx="1417.7" cy="1030.32" r="7" fill="#B3B3B3"/><circle cx="1476.94" cy="1161.33" r="7" fill="#B3B3B3"/><circle cx="1414.2" cy="1166.55" r="7" fill="#B3B3B3"/><circle cx="1433.1" cy="868" r="7" fill="#B3B3B3"/><circle cx="1437.71" cy="1032.89" r="7" fill="#B3B3B3"/><circle cx="1440.84" cy="1145.17" r="7" fill="#B3B3B3"/><circle cx="1420.7" cy="984.9" r="7" fill="#B3B3B3"/><circle cx="1453.93" cy="1106.8" r="7" fill="#B3B3B3"/><circle cx="1397.12" cy="1161.53" r="7" fill="#B3B3B3"/><circle cx="1448.36" cy="1027.22" r="7" fill="#B3B3B3"/><circle cx="1455.27" cy="1060.74" r="7" fill="#B3B3B3"/><circle cx="1428.77" cy="1029.08" r="7" fill="#B3B3B3"/><circle cx="1413.24" cy="988.74" r="7" fill="#B3B3B3"/><circle cx="1440.6" cy="935.79" r="7" fill="#B3B3B3"/><circle cx="1443.28" cy="952.78" r="7" fill="#B3B3B3"/><circle cx="1459.37" cy="1055.89" r="7" fill="#B3B3B3"/><circle cx="1446.69" cy="1158.53" r="7" fill="#B3B3B3"/><circle cx="1459.37" cy="1097.9" r="7" fill="#B3B3B3"/><circle cx="1396.36" cy="1167.75" r="7" fill="#B3B3B3"/><circle cx="1431.42" cy="952.76" r="7" fill="#B3B3B3"/><circle cx="1421.99" cy="1159.35" r="7" fill="#B3B3B3"/><circle cx="1386.4" cy="1139.58" r="7" fill="#B3B3B3"/><circle cx="1424.51" cy="1135.11" r="7" fill="#B3B3B3"/><circle cx="1406.42" cy="1099.08" r="7" fill="#B3B3B3"/><circle cx="1413.46" cy="1146.51" r="7" fill="#B3B3B3"/><circle cx="1461.92" cy="1009.35" r="7" fill="#B3B3B3"/><circle cx="1423.1" cy="1064.98" r="7" fill="#B3B3B3"/><circle cx="1419.14" cy="1077.09" r="7" fill="#B3B3B3"/><circle cx="1418.8" cy="1083.93" r="7" fill="#B3B3B3"/><circle cx="1420.43" cy="1136.53" r="7" fill="#B3B3B3"/><circle cx="1453.23" cy="1044.3" r="7" fill="#B3B3B3"/><circle cx="1469.5" cy="1111.94" r="7" fill="#B3B3B3"/><circle cx="1437.32" cy="859.06" r="7" fill="#B3B3B3"/><circle cx="1446.45" cy="950.18" r="7" fill="#B3B3B3"/><circle cx="1400.7" cy="1119.92" r="7" fill="#B3B3B3"/><circle cx="1452.85" cy="1029.55" r="7" fill="#B3B3B3"/><circle cx="1503.88" cy="1157.12" r="7" fill="#B3B3B3"/><circle cx="1456.79" cy="1024.7" r="7" fill="#B3B3B3"/><circle cx="1494.31" cy="1156.87" r="7" fill="#B3B3B3"/><circle cx="1418.79" cy="1166.91" r="7" fill="#B3B3B3"/><circle cx="1438.05" cy="1040.17" r="7" fill="#B3B3B3"/><circle cx="1405.06" cy="1135.35" r="7" fill="#B3B3B3"/><circle cx="1450.16" cy="1147.78" r="7" fill="#B3B3B3"/><circle cx="1436.31" cy="872.37" r="7" fill="#B3B3B3"/><circle cx="1377.84" cy="1167.14" r="7" fill="#B3B3B3"/><circle cx="1431.72" cy="983.79" r="7" fill="#B3B3B3"/><circle cx="1398.47" cy="1114.91" r="7" fill="#B3B3B3"/><circle cx="1442.36" cy="1159" r="7" fill="#B3B3B3"/><circle cx="1450.33" cy="1097.92" r="7" fill="#B3B3B3"/><circle cx="1437.43" cy="904.95" r="7" fill="#B3B3B3"/><circle cx="1373.77" cy="1148.89" r="7" fill="#B3B3B3"/><circle cx="1423.91" cy="1152.49" r="7" fill="#B3B3B3"/><circle cx="1439.23" cy="909.66" r="7" fill="#B3B3B3"/><circle cx="1409.59" cy="1109.14" r="7" fill="#B3B3B3"/><circle cx="1413.41" cy="1077.52" r="7" fill="#B3B3B3"/><circle cx="1442.89" cy="1064.65" r="7" fill="#B3B3B3"/><circle cx="1434.61" cy="949.58" r="7" fill="#B3B3B3"/><circle cx="1452.55" cy="966.81" r="7" fill="#B3B3B3"/><circle cx="1418.85" cy="976.67" r="7" fill="#B3B3B3"/><circle cx="1439.58" cy="1127.19" r="7" fill="#B3B3B3"/><circle cx="1419.88" cy="968.8" r="7" fill="#B3B3B3"/><circle cx="1431.18" cy="1094.06" r="7" fill="#B3B3B3"/><circle cx="1414.53" cy="1014.83" r="7" fill="#B3B3B3"/><circle cx="1439.7" cy="1109.6" r="7" fill="#B3B3B3"/><circle cx="1408.43" cy="1036.4" r="7" fill="#B3B3B3"/><circle cx="1484.73" cy="1152.02" r="7" fill="#B3B3B3"/><circle cx="1503.2" cy="1164.35" r="7" fill="#B3B3B3"/><circle cx="1438.18" cy="1098.24" r="7" fill="#B3B3B3"/><circle cx="1425.41" cy="1049.44" r="7" fill="#B3B3B3"/><circle cx="1431.02" cy="1166.52" r="7" fill="#B3B3B3"/><circle cx="1437.06" cy="1166.88" r="7" fill="#B3B3B3"/><circle cx="1431.71" cy="1145.8" r="7" fill="#B3B3B3"/><circle cx="1414.94" cy="1151.82" r="7" fill="#B3B3B3"/><circle cx="1427.93" cy="1002.74" r="7" fill="#B3B3B3"/><circle cx="1461.38" cy="1139.06" r="7" fill="#B3B3B3"/><circle cx="1432.37" cy="1042.98" r="7" fill="#B3B3B3"/><circle cx="1416.04" cy="1161.9" r="7" fill="#B3B3B3"/><circle cx="1476.56" cy="1122.34" r="7" fill="#B3B3B3"/><circle cx="1459.64" cy="995.62" r="7" fill="#B3B3B3"/><circle cx="1425.7" cy="1007.31" r="7" fill="#B3B3B3"/><circle cx="1457.71" cy="1044.83" r="7" fill="#B3B3B3"/><circle cx="1431.08" cy="936.97" r="7" fill="#B3B3B3"/><circle cx="1435.87" cy="1136.04" r="7" fill="#B3B3B3"/><circle cx="1411.07" cy="1044.93" r="7" fill="#B3B3B3"/><circle cx="1436.62" cy="1153.66" r="7" fill="#B3B3B3"/><circle cx="1405.96" cy="1089.38" r="7" fill="#B3B3B3"/><circle cx="1432.29" cy="999.95" r="7" fill="#B3B3B3"/><circle cx="1407.14" cy="1126.2" r="7" fill="#B3B3B3"/><circle cx="1401.77" cy="1154.59" r="7" fill="#B3B3B3"/><circle cx="1474.66" cy="1157.3" r="7" fill="#B3B3B3"/><circle cx="1426.78" cy="1071.52" r="7" fill="#B3B3B3"/><circle cx="1435.52" cy="1086" r="7" fill="#B3B3B3"/><circle cx="1427.32" cy="1160.87" r="7" fill="#B3B3B3"/><circle cx="1446.74" cy="1152.8" r="7" fill="#B3B3B3"/><circle cx="1452.84" cy="1070.54" r="7" fill="#B3B3B3"/><circle cx="1417.17" cy="1114.06" r="7" fill="#B3B3B3"/><circle cx="1440.43" cy="1155.45" r="7" fill="#B3B3B3"/><circle cx="1473.94" cy="1134.81" r="7" fill="#B3B3B3"/><circle cx="1368.87" cy="1165.45" r="7" fill="#B3B3B3"/><circle cx="1449.04" cy="1008.03" r="7" fill="#B3B3B3"/><circle cx="1404.94" cy="1145.7" r="7" fill="#B3B3B3"/><circle cx="1416.98" cy="1143.63" r="7" fill="#B3B3B3"/><circle cx="1434.81" cy="1036.16" r="7" fill="#B3B3B3"/><circle cx="1430.2" cy="1062.92" r="7" fill="#B3B3B3"/><circle cx="1460.36" cy="1127.35" r="7" fill="#B3B3B3"/><circle cx="1440.37" cy="1000.61" r="7" fill="#B3B3B3"/><circle cx="1449.91" cy="994.67" r="7" fill="#B3B3B3"/><circle cx="1416.26" cy="1058.55" r="7" fill="#B3B3B3"/><circle cx="1493.43" cy="1167.42" r="7" fill="#B3B3B3"/><circle cx="1432.93" cy="1028.88" r="7" fill="#B3B3B3"/><circle cx="1438.69" cy="1083.41" r="7" fill="#B3B3B3"/><circle cx="1418.81" cy="1010.75" r="7" fill="#B3B3B3"/><circle cx="1461.41" cy="1068.39" r="7" fill="#B3B3B3"/><circle cx="1437.6" cy="868.35" r="7" fill="#B3B3B3"/><circle cx="1455.1" cy="1083.18" r="7" fill="#B3B3B3"/><circle cx="1454.67" cy="1020.24" r="7" fill="#B3B3B3"/><circle cx="1402.11" cy="1124.32" r="7" fill="#B3B3B3"/><circle cx="1445.31" cy="1102.95" r="7" fill="#B3B3B3"/><circle cx="1438.68" cy="1064.27" r="7" fill="#B3B3B3"/><circle cx="1405.22" cy="1120.85" r="7" fill="#B3B3B3"/><circle cx="1473.35" cy="1106.9" r="7" fill="#B3B3B3"/><circle cx="1424.86" cy="1102.91" r="7" fill="#B3B3B3"/><circle cx="1417.2" cy="1005.05" r="7" fill="#B3B3B3"/><circle cx="1435.54" cy="935.82" r="7" fill="#B3B3B3"/><circle cx="1437.52" cy="1026.75" r="7" fill="#B3B3B3"/><circle cx="1414.6" cy="1117.36" r="7" fill="#B3B3B3"/><circle cx="1465.59" cy="1005.31" r="7" fill="#B3B3B3"/><circle cx="1431.1" cy="1105.37" r="7" fill="#B3B3B3"/><circle cx="1451.13" cy="1016.61" r="7" fill="#B3B3B3"/><circle cx="1429.9" cy="1024.18" r="7" fill="#B3B3B3"/><circle cx="1471.35" cy="1152.95" r="7" fill="#B3B3B3"/><circle cx="1451.25" cy="960.37" r="7" fill="#B3B3B3"/><circle cx="1449.04" cy="1047.32" r="7" fill="#B3B3B3"/><circle cx="1489.36" cy="1155.17" r="7" fill="#B3B3B3"/><circle cx="1436.57" cy="921.55" r="7" fill="#B3B3B3"/><circle cx="1433.78" cy="1049.66" r="7" fill="#B3B3B3"/><circle cx="1447.75" cy="1130.34" r="7" fill="#B3B3B3"/><circle cx="1395.11" cy="1124.75" r="7" fill="#B3B3B3"/><circle cx="1420.13" cy="989.9" r="7" fill="#B3B3B3"/><circle cx="1435.57" cy="1128.94" r="7" fill="#B3B3B3"/><circle cx="1465.82" cy="1131.39" r="7" fill="#B3B3B3"/><circle cx="1391.46" cy="1167.06" r="7" fill="#B3B3B3"/><circle cx="1435.73" cy="883.32" r="7" fill="#B3B3B3"/><circle cx="1432.53" cy="879.95" r="7" fill="#B3B3B3"/><circle cx="1419.77" cy="1072.59" r="7" fill="#B3B3B3"/><circle cx="1440.36" cy="1054.91" r="7" fill="#B3B3B3"/><circle cx="1425.57" cy="1078.56" r="7" fill="#B3B3B3"/><circle cx="1445.84" cy="982.8" r="7" fill="#B3B3B3"/><circle cx="1417.83" cy="1063.6" r="7" fill="#B3B3B3"/><circle cx="1417.45" cy="1044.3" r="7" fill="#B3B3B3"/><circle cx="1423.7" cy="977.02" r="7" fill="#B3B3B3"/><circle cx="1447.39" cy="1106.73" r="7" fill="#B3B3B3"/><circle cx="1454.84" cy="1056.25" r="7" fill="#B3B3B3"/><circle cx="1483.77" cy="1145.1" r="7" fill="#B3B3B3"/><circle cx="1401.91" cy="1112.54" r="7" fill="#B3B3B3"/><circle cx="1477.76" cy="1115.02" r="7" fill="#B3B3B3"/><circle cx="1392.27" cy="1111.9" r="7" fill="#B3B3B3"/><circle cx="1461.61" cy="1131.78" r="7" fill="#B3B3B3"/><circle cx="1410.98" cy="1140.76" r="7" fill="#B3B3B3"/><circle cx="1423.06" cy="1044.52" r="7" fill="#B3B3B3"/><circle cx="1416.98" cy="987.3" r="7" fill="#B3B3B3"/><circle cx="1448.41" cy="1120.51" r="7" fill="#B3B3B3"/><circle cx="1421.2" cy="1005.31" r="7" fill="#B3B3B3"/><circle cx="1413.74" cy="1072.1" r="7" fill="#B3B3B3"/><circle cx="1439.92" cy="986.62" r="7" fill="#B3B3B3"/><circle cx="1475.55" cy="1102.54" r="7" fill="#B3B3B3"/><circle cx="1429.47" cy="966.08" r="7" fill="#B3B3B3"/><circle cx="1499.97" cy="1156.18" r="7" fill="#B3B3B3"/><circle cx="1421.09" cy="996.82" r="7" fill="#B3B3B3"/><circle cx="1413.14" cy="1023.32" r="7" fill="#B3B3B3"/><circle cx="1429.89" cy="1039.15" r="7" fill="#B3B3B3"/><circle cx="1450.83" cy="978.76" r="7" fill="#B3B3B3"/><circle cx="1432.12" cy="904.65" r="7" fill="#B3B3B3"/><circle cx="1448.64" cy="1069.8" r="7" fill="#B3B3B3"/><circle cx="1442.72" cy="946.66" r="7" fill="#B3B3B3"/><circle cx="1421.66" cy="1087.56" r="7" fill="#B3B3B3"/><circle cx="1456.07" cy="1073.1" r="7" fill="#B3B3B3"/><circle cx="1414.45" cy="996.85" r="7" fill="#B3B3B3"/><circle cx="1393.78" cy="1130.77" r="7" fill="#B3B3B3"/><circle cx="1439.05" cy="943.85" r="7" fill="#B3B3B3"/><circle cx="1408.15" cy="1001.55" r="7" fill="#B3B3B3"/><circle cx="1460.85" cy="1060.21" r="7" fill="#B3B3B3"/><circle cx="1422.3" cy="1115.24" r="7" fill="#B3B3B3"/><circle cx="1443.49" cy="965.8" r="7" fill="#B3B3B3"/><circle cx="1418.04" cy="972.4" r="7" fill="#B3B3B3"/><circle cx="1413.63" cy="1087.75" r="7" fill="#B3B3B3"/><circle cx="1436.47" cy="1106.87" r="7" fill="#B3B3B3"/><circle cx="1435.45" cy="970.97" r="7" fill="#B3B3B3"/><circle cx="1442.71" cy="1045.87" r="7" fill="#B3B3B3"/><circle cx="1445.73" cy="956.08" r="7" fill="#B3B3B3"/><circle cx="1447.15" cy="1020.62" r="7" fill="#B3B3B3"/><circle cx="1410.37" cy="995.86" r="7" fill="#B3B3B3"/><circle cx="1474.77" cy="1165.41" r="7" fill="#B3B3B3"/><circle cx="1408.81" cy="1029.87" r="7" fill="#B3B3B3"/><circle cx="1423.55" cy="1091.82" r="7" fill="#B3B3B3"/><circle cx="1406.14" cy="1154.57" r="7" fill="#B3B3B3"/><circle cx="1459.96" cy="1151.46" r="7" fill="#B3B3B3"/><circle cx="1435.95" cy="931.81" r="7" fill="#B3B3B3"/><circle cx="1464.77" cy="1094.51" r="7" fill="#B3B3B3"/><circle cx="1453.38" cy="1111.84" r="7" fill="#B3B3B3"/><circle cx="1444.76" cy="1015.42" r="7" fill="#B3B3B3"/><circle cx="1417.33" cy="1109.82" r="7" fill="#B3B3B3"/><circle cx="1392.99" cy="1104.79" r="7" fill="#B3B3B3"/><circle cx="1443.29" cy="997.71" r="7" fill="#B3B3B3"/><circle cx="1476.89" cy="1143.74" r="7" fill="#B3B3B3"/><circle cx="1459.97" cy="1030.19" r="7" fill="#B3B3B3"/><circle cx="1390.25" cy="1141.77" r="7" fill="#B3B3B3"/><circle cx="1442.64" cy="1165.56" r="7" fill="#B3B3B3"/><circle cx="1409.2" cy="1136.27" r="7" fill="#B3B3B3"/><circle cx="1420.49" cy="1068.16" r="7" fill="#B3B3B3"/><circle cx="1424.64" cy="988.32" r="7" fill="#B3B3B3"/><circle cx="1424" cy="993.29" r="7" fill="#B3B3B3"/><circle cx="1440.5" cy="1006.13" r="7" fill="#B3B3B3"/><circle cx="1468.61" cy="1010.97" r="7" fill="#B3B3B3"/><circle cx="1451.66" cy="1142.49" r="7" fill="#B3B3B3"/><circle cx="1444.55" cy="1034.73" r="7" fill="#B3B3B3"/><circle cx="1387.3" cy="1167.02" r="7" fill="#B3B3B3"/><circle cx="1444.57" cy="969.71" r="7" fill="#B3B3B3"/><circle cx="1473.45" cy="1113.2" r="7" fill="#B3B3B3"/><circle cx="1470.93" cy="1095.95" r="7" fill="#B3B3B3"/><circle cx="1436.44" cy="917.26" r="7" fill="#B3B3B3"/><circle cx="1413.44" cy="1111.46" r="7" fill="#B3B3B3"/><circle cx="1466.25" cy="1151.46" r="7" fill="#B3B3B3"/><circle cx="1480.72" cy="1157.18" r="7" fill="#B3B3B3"/><circle cx="1428.75" cy="1076.08" r="7" fill="#B3B3B3"/><circle cx="1420.38" cy="1034.81" r="7" fill="#B3B3B3"/><circle cx="1409.02" cy="1076.1" r="7" fill="#B3B3B3"/><circle cx="1464.02" cy="1100.22" r="7" fill="#B3B3B3"/><circle cx="1432.33" cy="1007.91" r="7" fill="#B3B3B3"/><circle cx="1416.09" cy="991.99" r="7" fill="#B3B3B3"/><circle cx="1463.67" cy="1124.17" r="7" fill="#B3B3B3"/><circle cx="1392.92" cy="1158.34" r="7" fill="#B3B3B3"/><circle cx="1466.16" cy="1135.65" r="7" fill="#B3B3B3"/><circle cx="1454.19" cy="1159.36" r="7" fill="#B3B3B3"/><circle cx="1432.12" cy="927.43" r="7" fill="#B3B3B3"/><circle cx="1438.38" cy="953.28" r="7" fill="#B3B3B3"/><circle cx="1436.43" cy="1006.54" r="7" fill="#B3B3B3"/><circle cx="1451.05" cy="1058.14" r="7" fill="#B3B3B3"/><circle cx="1457.51" cy="1140.43" r="7" fill="#B3B3B3"/><circle cx="1452.28" cy="989.94" r="7" fill="#B3B3B3"/><circle cx="1459.12" cy="1114.76" r="7" fill="#B3B3B3"/><circle cx="1442.35" cy="1114.47" r="7" fill="#B3B3B3"/><circle cx="1427.27" cy="1140.31" r="7" fill="#B3B3B3"/><circle cx="1402.53" cy="1164.89" r="7" fill="#B3B3B3"/><circle cx="1423.37" cy="1011.01" r="7" fill="#B3B3B3"/><circle cx="1406.74" cy="1115.93" r="7" fill="#B3B3B3"/><circle cx="1482" cy="1164.23" r="7" fill="#B3B3B3"/><circle cx="1416.06" cy="1097.12" r="7" fill="#B3B3B3"/><circle cx="1433.68" cy="1011.91" r="7" fill="#B3B3B3"/><circle cx="1420.23" cy="1039.86" r="7" fill="#B3B3B3"/><circle cx="1422.07" cy="972.85" r="7" fill="#B3B3B3"/><circle cx="1408.24" cy="1017.59" r="7" fill="#B3B3B3"/><circle cx="1451.6" cy="1132.49" r="7" fill="#B3B3B3"/><circle cx="1431.47" cy="978.57" r="7" fill="#B3B3B3"/><circle cx="1422.43" cy="1021.64" r="7" fill="#B3B3B3"/><circle cx="1432.68" cy="945.92" r="7" fill="#B3B3B3"/><circle cx="1451.91" cy="1010.92" r="7" fill="#B3B3B3"/><circle cx="1461.89" cy="1040.48" r="7" fill="#B3B3B3"/><circle cx="1361.88" cy="1162.31" r="7" fill="#B3B3B3"/><circle cx="1488.1" cy="1159.87" r="7" fill="#B3B3B3"/><circle cx="1441.16" cy="978.15" r="7" fill="#B3B3B3"/><circle cx="1423.88" cy="1074.52" r="7" fill="#B3B3B3"/><circle cx="1415.22" cy="1121.54" r="7" fill="#B3B3B3"/><circle cx="1448.45" cy="968.76" r="7" fill="#B3B3B3"/><circle cx="1426.61" cy="1094.57" r="7" fill="#B3B3B3"/><circle cx="1405.11" cy="1012.83" r="7" fill="#B3B3B3"/><circle cx="1464.65" cy="1166.83" r="7" fill="#B3B3B3"/><circle cx="1416.13" cy="1156.31" r="7" fill="#B3B3B3"/><circle cx="1430.35" cy="1083.92" r="7" fill="#B3B3B3"/><circle cx="1449.92" cy="1126.03" r="7" fill="#B3B3B3"/><circle cx="1475.69" cy="1130.11" r="7" fill="#B3B3B3"/><circle cx="1447.79" cy="1031.23" r="7" fill="#B3B3B3"/><circle cx="1464.66" cy="1146.92" r="7" fill="#B3B3B3"/><circle cx="1445.48" cy="987.42" r="7" fill="#B3B3B3"/><circle cx="1452.6" cy="1075.12" r="7" fill="#B3B3B3"/><circle cx="1422.74" cy="1140.48" r="7" fill="#B3B3B3"/><circle cx="1449.1" cy="953.28" r="7" fill="#B3B3B3"/><circle cx="1411.05" cy="1081.9" r="7" fill="#B3B3B3"/><circle cx="1438.93" cy="1131.28" r="7" fill="#B3B3B3"/><circle cx="1428.49" cy="1098.93" r="7" fill="#B3B3B3"/><circle cx="1462.06" cy="1083.37" r="7" fill="#B3B3B3"/><circle cx="1429.31" cy="1113.9" r="7" fill="#B3B3B3"/><circle cx="1444.32" cy="1058.12" r="7" fill="#B3B3B3"/><circle cx="1409.06" cy="1146.62" r="7" fill="#B3B3B3"/><circle cx="1457.65" cy="1066.99" r="7" fill="#B3B3B3"/><circle cx="1504.1" cy="1152.16" r="7" fill="#B3B3B3"/><circle cx="1419.63" cy="1120.09" r="7" fill="#B3B3B3"/><circle cx="1406.68" cy="1159.07" r="7" fill="#B3B3B3"/><circle cx="1439.43" cy="1048.89" r="7" fill="#B3B3B3"/><circle cx="1378.59" cy="1150.94" r="7" fill="#B3B3B3"/><circle cx="1442.34" cy="1098.71" r="7" fill="#B3B3B3"/><circle cx="1427.7" cy="1145.15" r="7" fill="#B3B3B3"/><circle cx="1431.42" cy="1079.28" r="7" fill="#B3B3B3"/><circle cx="1415.24" cy="1001.19" r="7" fill="#B3B3B3"/><circle cx="1425.87" cy="1156.95" r="7" fill="#B3B3B3"/><circle cx="1437.53" cy="1044.37" r="7" fill="#B3B3B3"/><circle cx="1436.46" cy="1068.1" r="7" fill="#B3B3B3"/><circle cx="1439.25" cy="1087.73" r="7" fill="#B3B3B3"/><circle cx="1402.27" cy="1129.46" r="7" fill="#B3B3B3"/><circle cx="1498.93" cy="1161.71" r="7" fill="#B3B3B3"/><circle cx="1442.42" cy="1040.89" r="7" fill="#B3B3B3"/><circle cx="1444.48" cy="1068.98" r="7" fill="#B3B3B3"/><circle cx="1433.91" cy="956.17" r="7" fill="#B3B3B3"/><circle cx="1427.47" cy="1107.14" r="7" fill="#B3B3B3"/><circle cx="1431.44" cy="1159.6" r="7" fill="#B3B3B3"/><circle cx="1437.64" cy="1123.26" r="7" fill="#B3B3B3"/><circle cx="1435.28" cy="1080.45" r="7" fill="#B3B3B3"/><circle cx="1438.77" cy="1102.84" r="7" fill="#B3B3B3"/><circle cx="1412.69" cy="1063.64" r="7" fill="#B3B3B3"/><circle cx="1434.3" cy="941.09" r="7" fill="#B3B3B3"/><circle cx="1428.49" cy="1134.51" r="7" fill="#B3B3B3"/><circle cx="1389.36" cy="1156.01" r="7" fill="#B3B3B3"/><circle cx="1443.7" cy="1150.15" r="7" fill="#B3B3B3"/><circle cx="1404.23" cy="1017.38" r="7" fill="#B3B3B3"/><circle cx="1444.46" cy="1122.94" r="7" fill="#B3B3B3"/><circle cx="1416.07" cy="1018.65" r="7" fill="#B3B3B3"/><circle cx="1434.82" cy="913.23" r="7" fill="#B3B3B3"/><circle cx="1407.47" cy="1024.62" r="7" fill="#B3B3B3"/><circle cx="1461.89" cy="1033.74" r="7" fill="#B3B3B3"/><circle cx="1429.89" cy="996.73" r="7" fill="#B3B3B3"/><circle cx="1442.38" cy="1106.05" r="7" fill="#B3B3B3"/><circle cx="1449.35" cy="1102.05" r="7" fill="#B3B3B3"/><circle cx="1462.78" cy="1088.25" r="7" fill="#B3B3B3"/><circle cx="1424.23" cy="1015.04" r="7" fill="#B3B3B3"/><circle cx="1434.36" cy="1141.44" r="7" fill="#B3B3B3"/><circle cx="1488.8" cy="1164.4" r="7" fill="#B3B3B3"/><circle cx="1460.59" cy="1155.63" r="7" fill="#B3B3B3"/><circle cx="1485.27" cy="1156.3" r="7" fill="#B3B3B3"/><circle cx="1441.84" cy="940.14" r="7" fill="#B3B3B3"/><circle cx="1456.1" cy="1087.15" r="7" fill="#B3B3B3"/><circle cx="1457.07" cy="1109.44" r="7" fill="#B3B3B3"/><circle cx="1449.21" cy="1085.34" r="7" fill="#B3B3B3"/><circle cx="1448.34" cy="1091.63" r="7" fill="#B3B3B3"/><circle cx="1444.88" cy="993.73" r="7" fill="#B3B3B3"/><circle cx="1373.18" cy="1164.66" r="7" fill="#B3B3B3"/><circle cx="1456.38" cy="1101.95" r="7" fill="#B3B3B3"/><circle cx="1455.11" cy="1006.38" r="7" fill="#B3B3B3"/><circle cx="1417.26" cy="1023.62" r="7" fill="#B3B3B3"/><circle cx="1417.27" cy="1102.49" r="7" fill="#B3B3B3"/><circle cx="1408.6" cy="1072.04" r="7" fill="#B3B3B3"/><circle cx="1455.04" cy="1135.83" r="7" fill="#B3B3B3"/><circle cx="1435.6" cy="889.87" r="7" fill="#B3B3B3"/><circle cx="1417.98" cy="1147.75" r="7" fill="#B3B3B3"/><circle cx="1444.09" cy="1004.08" r="7" fill="#B3B3B3"/><circle cx="1449.8" cy="1051.41" r="7" fill="#B3B3B3"/><circle cx="1462.99" cy="1161.27" r="7" fill="#B3B3B3"/><circle cx="1438.58" cy="900.88" r="7" fill="#B3B3B3"/><circle cx="1447.02" cy="975.92" r="7" fill="#B3B3B3"/><circle cx="1455.97" cy="1040.21" r="7" fill="#B3B3B3"/><circle cx="1428.02" cy="1011.55" r="7" fill="#B3B3B3"/><circle cx="1431.19" cy="1072.77" r="7" fill="#B3B3B3"/><circle cx="1475.81" cy="1151.52" r="7" fill="#B3B3B3"/><circle cx="1497.47" cy="1166.1" r="7" fill="#B3B3B3"/><circle cx="1460.83" cy="1004.52" r="7" fill="#B3B3B3"/><circle cx="1402.6" cy="1008.79" r="7" fill="#B3B3B3"/><circle cx="1430.36" cy="1155.25" r="7" fill="#B3B3B3"/><circle cx="1452.62" cy="1035.53" r="7" fill="#B3B3B3"/><circle cx="1461.58" cy="1016.56" r="7" fill="#B3B3B3"/><circle cx="1470.03" cy="1146.21" r="7" fill="#B3B3B3"/><circle cx="1433.32" cy="875.95" r="7" fill="#B3B3B3"/><circle cx="1456.99" cy="1035.98" r="7" fill="#B3B3B3"/><circle cx="1433.13" cy="1021.68" r="7" fill="#B3B3B3"/><circle cx="1453.25" cy="1115.94" r="7" fill="#B3B3B3"/><circle cx="1448.73" cy="1165.07" r="7" fill="#B3B3B3"/><circle cx="1451.56" cy="1040.24" r="7" fill="#B3B3B3"/><circle cx="1415.05" cy="1081.59" r="7" fill="#B3B3B3"/><circle cx="1485.65" cy="1167.04" r="7" fill="#B3B3B3"/><circle cx="1451.2" cy="1022.42" r="7" fill="#B3B3B3"/><circle cx="1458.27" cy="1162.21" r="7" fill="#B3B3B3"/><circle cx="1434.4" cy="850.76" r="7" fill="#B3B3B3"/><circle cx="1420.55" cy="1047.76" r="7" fill="#B3B3B3"/><circle cx="1434.79" cy="989.01" r="7" fill="#B3B3B3"/><circle cx="1445.04" cy="1082.47" r="7" fill="#B3B3B3"/><circle cx="1427.21" cy="1149.51" r="7" fill="#B3B3B3"/><circle cx="1443.66" cy="1126.97" r="7" fill="#B3B3B3"/><circle cx="1419.79" cy="1153.73" r="7" fill="#B3B3B3"/><circle cx="1471.09" cy="1137.84" r="7" fill="#B3B3B3"/><circle cx="1456.21" cy="1031.75" r="7" fill="#B3B3B3"/><circle cx="1424.29" cy="1111.46" r="7" fill="#B3B3B3"/><circle cx="1438.24" cy="886.63" r="7" fill="#B3B3B3"/><circle cx="1436.91" cy="878.69" r="7" fill="#B3B3B3"/><circle cx="1437.06" cy="975.69" r="7" fill="#B3B3B3"/><circle cx="1428.01" cy="1122.41" r="7" fill="#B3B3B3"/><circle cx="1425.02" cy="954.4" r="7" fill="#B3B3B3"/><circle cx="1440.04" cy="919.45" r="7" fill="#B3B3B3"/><circle cx="1429.84" cy="987.54" r="7" fill="#B3B3B3"/><circle cx="1431.91" cy="1151.39" r="7" fill="#B3B3B3"/><circle cx="1460.51" cy="1072.84" r="7" fill="#B3B3B3"/><circle cx="1433.78" cy="908.85" r="7" fill="#B3B3B3"/><circle cx="1436.96" cy="864.06" r="7" fill="#B3B3B3"/><circle cx="1434.23" cy="1116.01" r="7" fill="#B3B3B3"/><circle cx="1388.74" cy="1162.32" r="7" fill="#B3B3B3"/><circle cx="1469.94" cy="1156.85" r="7" fill="#B3B3B3"/><circle cx="1432.87" cy="857.64" r="7" fill="#B3B3B3"/><circle cx="1374.64" cy="1152.87" r="7" fill="#B3B3B3"/><circle cx="1447.3" cy="1065.21" r="7" fill="#B3B3B3"/><circle cx="1412.86" cy="1105.65" r="7" fill="#B3B3B3"/><circle cx="1419.09" cy="1124.83" r="7" fill="#B3B3B3"/><circle cx="1454.95" cy="1091.21" r="7" fill="#B3B3B3"/><circle cx="1451.13" cy="1080.5" r="7" fill="#B3B3B3"/><circle cx="1427.49" cy="1066.14" r="7" fill="#B3B3B3"/><circle cx="1471.71" cy="1117.56" r="7" fill="#B3B3B3"/><circle cx="1439.18" cy="949.33" r="7" fill="#B3B3B3"/><circle cx="1408.94" cy="1129.97" r="7" fill="#B3B3B3"/><circle cx="1413.49" cy="1049.14" r="7" fill="#B3B3B3"/><circle cx="1459.68" cy="1051.65" r="7" fill="#B3B3B3"/><circle cx="1447.24" cy="1041.41" r="7" fill="#B3B3B3"/><circle cx="1465.95" cy="1156.02" r="7" fill="#B3B3B3"/><circle cx="1457.94" cy="1001.43" r="7" fill="#B3B3B3"/><circle cx="1397.05" cy="1153.03" r="7" fill="#B3B3B3"/><circle cx="1393.26" cy="1163.26" r="7" fill="#B3B3B3"/><circle cx="1425.46" cy="998.48" r="7" fill="#B3B3B3"/><circle cx="1467.34" cy="1089.71" r="7" fill="#B3B3B3"/><circle cx="1410.81" cy="1054.44" r="7" fill="#B3B3B3"/><circle cx="1410.65" cy="1114.9" r="7" fill="#B3B3B3"/><circle cx="1456.48" cy="1154.88" r="7" fill="#B3B3B3"/><circle cx="1422.24" cy="1031.13" r="7" fill="#B3B3B3"/><circle cx="1410.06" cy="1067.84" r="7" fill="#B3B3B3"/><circle cx="1433.41" cy="1056.05" r="7" fill="#B3B3B3"/><circle cx="1429.23" cy="1055.01" r="7" fill="#B3B3B3"/><circle cx="1406.08" cy="1166.93" r="7" fill="#B3B3B3"/><circle cx="1461.63" cy="1111.27" r="7" fill="#B3B3B3"/><circle cx="1426.12" cy="946.19" r="7" fill="#B3B3B3"/><circle cx="1458.94" cy="1119.51" r="7" fill="#B3B3B3"/><circle cx="1401.87" cy="1149.24" r="7" fill="#B3B3B3"/><circle cx="1624.88" cy="1131.62" r="7" fill="#B3B3B3"/><circle cx="1635.7" cy="999.59" r="7" fill="#B3B3B3"/><circle cx="1632.86" cy="1157.93" r="7" fill="#B3B3B3"/><circle cx="1611.54" cy="1110.48" r="7" fill="#B3B3B3"/><circle cx="1620.95" cy="1129.61" r="7" fill="#B3B3B3"/><circle cx="1662.54" cy="1150.21" r="7" fill="#B3B3B3"/><circle cx="1607.01" cy="1141.86" r="7" fill="#B3B3B3"/><circle cx="1662.97" cy="1133.71" r="7" fill="#B3B3B3"/><circle cx="1643.91" cy="1118.29" r="7" fill="#B3B3B3"/><circle cx="1652.8" cy="1114.69" r="7" fill="#B3B3B3"/><circle cx="1634.21" cy="1045.61" r="7" fill="#B3B3B3"/><circle cx="1632.48" cy="1149.85" r="7" fill="#B3B3B3"/><circle cx="1639.17" cy="1158.32" r="7" fill="#B3B3B3"/><circle cx="1591.19" cy="1142.07" r="7" fill="#B3B3B3"/><circle cx="1619.16" cy="1036.38" r="7" fill="#B3B3B3"/><circle cx="1665.05" cy="1140.33" r="7" fill="#B3B3B3"/><circle cx="1658.25" cy="1165.88" r="7" fill="#B3B3B3"/><circle cx="1622.87" cy="1057.53" r="7" fill="#B3B3B3"/><circle cx="1630.26" cy="1119.95" r="7" fill="#B3B3B3"/><circle cx="1602.07" cy="1130.23" r="7" fill="#B3B3B3"/><circle cx="1634.77" cy="1035.43" r="7" fill="#B3B3B3"/><circle cx="1602.84" cy="1141.4" r="7" fill="#B3B3B3"/><circle cx="1618.18" cy="1040.95" r="7" fill="#B3B3B3"/><circle cx="1611.51" cy="1145.15" r="7" fill="#B3B3B3"/><circle cx="1640.64" cy="1125.64" r="7" fill="#B3B3B3"/><circle cx="1611.05" cy="1106.29" r="7" fill="#B3B3B3"/><circle cx="1624.02" cy="997.74" r="7" fill="#B3B3B3"/><circle cx="1648.14" cy="1121.7" r="7" fill="#B3B3B3"/><circle cx="1672.03" cy="1152.59" r="7" fill="#B3B3B3"/><circle cx="1623.76" cy="1116.88" r="7" fill="#B3B3B3"/><circle cx="1569.21" cy="1157.4" r="7" fill="#B3B3B3"/><circle cx="1628.91" cy="1132.96" r="7" fill="#B3B3B3"/><circle cx="1625.68" cy="1148.15" r="7" fill="#B3B3B3"/><circle cx="1622.24" cy="1074.18" r="7" fill="#B3B3B3"/><circle cx="1653.45" cy="1135.64" r="7" fill="#B3B3B3"/><circle cx="1627.65" cy="1063.63" r="7" fill="#B3B3B3"/><circle cx="1628.08" cy="1042.7" r="7" fill="#B3B3B3"/><circle cx="1572.65" cy="1159.88" r="7" fill="#B3B3B3"/><circle cx="1620.81" cy="1138.84" r="7" fill="#B3B3B3"/><circle cx="1640.73" cy="1142.46" r="7" fill="#B3B3B3"/><circle cx="1644.29" cy="1123.43" r="7" fill="#B3B3B3"/><circle cx="1662.19" cy="1154.64" r="7" fill="#B3B3B3"/><circle cx="1611.81" cy="1157.28" r="7" fill="#B3B3B3"/><circle cx="1629.42" cy="1047.4" r="7" fill="#B3B3B3"/><circle cx="1689.17" cy="1156.34" r="7" fill="#B3B3B3"/><circle cx="1635.09" cy="1009.75" r="7" fill="#B3B3B3"/><circle cx="1659.11" cy="1161.73" r="7" fill="#B3B3B3"/><circle cx="1655.55" cy="1128.62" r="7" fill="#B3B3B3"/><circle cx="1567.56" cy="1161.54" r="7" fill="#B3B3B3"/><circle cx="1609.26" cy="1163.41" r="7" fill="#B3B3B3"/><circle cx="1572.73" cy="1145.37" r="7" fill="#B3B3B3"/><circle cx="1633.38" cy="1136.56" r="7" fill="#B3B3B3"/><circle cx="1623.91" cy="1014.37" r="7" fill="#B3B3B3"/><circle cx="1639.85" cy="1074.31" r="7" fill="#B3B3B3"/><circle cx="1623.27" cy="1165.85" r="7" fill="#B3B3B3"/><circle cx="1630.8" cy="1142.39" r="7" fill="#B3B3B3"/><circle cx="1629.73" cy="1129.03" r="7" fill="#B3B3B3"/><circle cx="1643.14" cy="1155.77" r="7" fill="#B3B3B3"/><circle cx="1646.64" cy="1148.1" r="7" fill="#B3B3B3"/><circle cx="1605.62" cy="1156.18" r="7" fill="#B3B3B3"/><circle cx="1639.08" cy="1167.85" r="7" fill="#B3B3B3"/><circle cx="1630.99" cy="1021.62" r="7" fill="#B3B3B3"/><circle cx="1620.11" cy="1120.31" r="7" fill="#B3B3B3"/><circle cx="1638.63" cy="1138.49" r="7" fill="#B3B3B3"/><circle cx="1626.26" cy="1035.81" r="7" fill="#B3B3B3"/><circle cx="1658.15" cy="1136.19" r="7" fill="#B3B3B3"/><circle cx="1611.5" cy="1117.02" r="7" fill="#B3B3B3"/><circle cx="1597.28" cy="1132.35" r="7" fill="#B3B3B3"/><circle cx="1633.35" cy="1126.99" r="7" fill="#B3B3B3"/><circle cx="1679.11" cy="1142.59" r="7" fill="#B3B3B3"/><circle cx="1586.88" cy="1140.16" r="7" fill="#B3B3B3"/><circle cx="1626.63" cy="1023.93" r="7" fill="#B3B3B3"/><circle cx="1558.43" cy="1157.19" r="7" fill="#B3B3B3"/><circle cx="1607.11" cy="1129.29" r="7" fill="#B3B3B3"/><circle cx="1619.26" cy="1092.1" r="7" fill="#B3B3B3"/><circle cx="1595.29" cy="1121.56" r="7" fill="#B3B3B3"/><circle cx="1627.57" cy="1051.51" r="7" fill="#B3B3B3"/><circle cx="1636.88" cy="1071.13" r="7" fill="#B3B3B3"/><circle cx="1633.04" cy="1131.36" r="7" fill="#B3B3B3"/><circle cx="1617.77" cy="1127.05" r="7" fill="#B3B3B3"/><circle cx="1635.53" cy="1029.57" r="7" fill="#B3B3B3"/><circle cx="1626.92" cy="1168.03" r="7" fill="#B3B3B3"/><circle cx="1637.59" cy="1106.43" r="7" fill="#B3B3B3"/><circle cx="1624.42" cy="1044.49" r="7" fill="#B3B3B3"/><circle cx="1628.84" cy="1001.17" r="7" fill="#B3B3B3"/><circle cx="1623.69" cy="1080.03" r="7" fill="#B3B3B3"/><circle cx="1615.66" cy="1102.48" r="7" fill="#B3B3B3"/><circle cx="1702.64" cy="1150.95" r="7" fill="#B3B3B3"/><circle cx="1637.25" cy="1123.51" r="7" fill="#B3B3B3"/><circle cx="1630.72" cy="1123.97" r="7" fill="#B3B3B3"/><circle cx="1635.63" cy="1087.11" r="7" fill="#B3B3B3"/><circle cx="1621.8" cy="1022.82" r="7" fill="#B3B3B3"/><circle cx="1647.53" cy="1128.4" r="7" fill="#B3B3B3"/><circle cx="1654.98" cy="1161.52" r="7" fill="#B3B3B3"/><circle cx="1645.75" cy="1141.17" r="7" fill="#B3B3B3"/><circle cx="1594.28" cy="1148.22" r="7" fill="#B3B3B3"/><circle cx="1666.3" cy="1153.05" r="7" fill="#B3B3B3"/><circle cx="1671.72" cy="1158.57" r="7" fill="#B3B3B3"/><circle cx="1632.69" cy="1106.68" r="7" fill="#B3B3B3"/><circle cx="1584.06" cy="1135.29" r="7" fill="#B3B3B3"/><circle cx="1618.93" cy="1154.43" r="7" fill="#B3B3B3"/><circle cx="1660.08" cy="1126.64" r="7" fill="#B3B3B3"/><circle cx="1631.73" cy="1063.88" r="7" fill="#B3B3B3"/><circle cx="1604.08" cy="1113.11" r="7" fill="#B3B3B3"/><circle cx="1651.46" cy="1149.35" r="7" fill="#B3B3B3"/><circle cx="1631" cy="1036.86" r="7" fill="#B3B3B3"/><circle cx="1632.42" cy="1041.95" r="7" fill="#B3B3B3"/><circle cx="1594.86" cy="1155.23" r="7" fill="#B3B3B3"/><circle cx="1612.64" cy="1135.6" r="7" fill="#B3B3B3"/><circle cx="1569.98" cy="1141.67" r="7" fill="#B3B3B3"/><circle cx="1660.3" cy="1143.44" r="7" fill="#B3B3B3"/><circle cx="1625.58" cy="1159.84" r="7" fill="#B3B3B3"/><circle cx="1604.16" cy="1164.41" r="7" fill="#B3B3B3"/><circle cx="1639.18" cy="1130.05" r="7" fill="#B3B3B3"/><circle cx="1624.83" cy="1111.84" r="7" fill="#B3B3B3"/><circle cx="1636.63" cy="1004.11" r="7" fill="#B3B3B3"/><circle cx="1666.23" cy="1136.36" r="7" fill="#B3B3B3"/><circle cx="1582.78" cy="1151.68" r="7" fill="#B3B3B3"/><circle cx="1675.64" cy="1150.65" r="7" fill="#B3B3B3"/><circle cx="1622.93" cy="1053.27" r="7" fill="#B3B3B3"/><circle cx="1667.42" cy="1164.98" r="7" fill="#B3B3B3"/><circle cx="1565.79" cy="1145.12" r="7" fill="#B3B3B3"/><circle cx="1621.64" cy="1134.03" r="7" fill="#B3B3B3"/><circle cx="1627.6" cy="1017.69" r="7" fill="#B3B3B3"/><circle cx="1615.06" cy="1119.07" r="7" fill="#B3B3B3"/><circle cx="1600.3" cy="1166.36" r="7" fill="#B3B3B3"/><circle cx="1613.31" cy="1165.81" r="7" fill="#B3B3B3"/><circle cx="1648.28" cy="1109.55" r="7" fill="#B3B3B3"/><circle cx="1608.13" cy="1137.65" r="7" fill="#B3B3B3"/><circle cx="1615.74" cy="1106.7" r="7" fill="#B3B3B3"/><circle cx="1629.93" cy="1146.38" r="7" fill="#B3B3B3"/><circle cx="1630.41" cy="1055.18" r="7" fill="#B3B3B3"/><circle cx="1656.18" cy="1157.33" r="7" fill="#B3B3B3"/><circle cx="1619" cy="1080.8" r="7" fill="#B3B3B3"/><circle cx="1616.5" cy="1137.92" r="7" fill="#B3B3B3"/><circle cx="1576.16" cy="1157.91" r="7" fill="#B3B3B3"/><circle cx="1619.23" cy="1148.15" r="7" fill="#B3B3B3"/><circle cx="1620.53" cy="1004.87" r="7" fill="#B3B3B3"/><circle cx="1635.74" cy="1025.3" r="7" fill="#B3B3B3"/><circle cx="1629.16" cy="1137.42" r="7" fill="#B3B3B3"/><circle cx="1670.73" cy="1143.87" r="7" fill="#B3B3B3"/><circle cx="1584.61" cy="1147.24" r="7" fill="#B3B3B3"/><circle cx="1634.21" cy="1060.48" r="7" fill="#B3B3B3"/><circle cx="1607.38" cy="1133.47" r="7" fill="#B3B3B3"/><circle cx="1646.31" cy="1113.12" r="7" fill="#B3B3B3"/><circle cx="1663.57" cy="1146.09" r="7" fill="#B3B3B3"/><circle cx="1631.82" cy="1078.2" r="7" fill="#B3B3B3"/><circle cx="1561.9" cy="1155.11" r="7" fill="#B3B3B3"/><circle cx="1658.37" cy="1152.58" r="7" fill="#B3B3B3"/><circle cx="1625.02" cy="1029.28" r="7" fill="#B3B3B3"/><circle cx="1620.76" cy="1010.76" r="7" fill="#B3B3B3"/><circle cx="1629.51" cy="1098.78" r="7" fill="#B3B3B3"/><circle cx="1615.91" cy="1145.56" r="7" fill="#B3B3B3"/><circle cx="1582.49" cy="1159.32" r="7" fill="#B3B3B3"/><circle cx="1658.27" cy="1132.09" r="7" fill="#B3B3B3"/><circle cx="1593.34" cy="1162.32" r="7" fill="#B3B3B3"/><circle cx="1622.82" cy="1105.68" r="7" fill="#B3B3B3"/><circle cx="1582.12" cy="1143.68" r="7" fill="#B3B3B3"/><circle cx="1623.75" cy="993.61" r="7" fill="#B3B3B3"/><circle cx="1592.08" cy="1134.75" r="7" fill="#B3B3B3"/><circle cx="1673.4" cy="1138.84" r="7" fill="#B3B3B3"/><circle cx="1638.73" cy="1118.87" r="7" fill="#B3B3B3"/><circle cx="1650.34" cy="1141.47" r="7" fill="#B3B3B3"/><circle cx="1618.19" cy="1074.82" r="7" fill="#B3B3B3"/><circle cx="1632.62" cy="1003.1" r="7" fill="#B3B3B3"/><circle cx="1655.38" cy="1117.75" r="7" fill="#B3B3B3"/><circle cx="1588.42" cy="1145.12" r="7" fill="#B3B3B3"/><circle cx="1640.46" cy="1163.18" r="7" fill="#B3B3B3"/><circle cx="1633.74" cy="1014.27" r="7" fill="#B3B3B3"/><circle cx="1606.63" cy="1167.68" r="7" fill="#B3B3B3"/><circle cx="1622.46" cy="1068.02" r="7" fill="#B3B3B3"/><circle cx="1616.83" cy="1161.03" r="7" fill="#B3B3B3"/><circle cx="1636.56" cy="1154.5" r="7" fill="#B3B3B3"/><circle cx="1638.71" cy="1111.49" r="7" fill="#B3B3B3"/><circle cx="1637.68" cy="1134.18" r="7" fill="#B3B3B3"/><circle cx="1635.79" cy="1056" r="7" fill="#B3B3B3"/><circle cx="1634.98" cy="1018.7" r="7" fill="#B3B3B3"/><circle cx="1579.1" cy="1161.78" r="7" fill="#B3B3B3"/><circle cx="1634.66" cy="1117.97" r="7" fill="#B3B3B3"/><circle cx="1583.57" cy="1163.5" r="7" fill="#B3B3B3"/><circle cx="1639.35" cy="1040.35" r="7" fill="#B3B3B3"/><circle cx="1603.09" cy="1152.11" r="7" fill="#B3B3B3"/><circle cx="1652.76" cy="1165.65" r="7" fill="#B3B3B3"/><circle cx="1624.11" cy="1141.83" r="7" fill="#B3B3B3"/><circle cx="1696.33" cy="1154.73" r="7" fill="#B3B3B3"/><circle cx="1661.38" cy="1122.58" r="7" fill="#B3B3B3"/><circle cx="1589.57" cy="1163.73" r="7" fill="#B3B3B3"/><circle cx="1634.06" cy="1102.5" r="7" fill="#B3B3B3"/><circle cx="1624.38" cy="1040.07" r="7" fill="#B3B3B3"/><circle cx="1627.59" cy="1058.18" r="7" fill="#B3B3B3"/><circle cx="1577.63" cy="1144.68" r="7" fill="#B3B3B3"/><circle cx="1665.56" cy="1128.54" r="7" fill="#B3B3B3"/><circle cx="1649.79" cy="1145.64" r="7" fill="#B3B3B3"/><circle cx="1600.13" cy="1155.82" r="7" fill="#B3B3B3"/><circle cx="1631.1" cy="1093.19" r="7" fill="#B3B3B3"/><circle cx="1690.62" cy="1149.29" r="7" fill="#B3B3B3"/><circle cx="1580.22" cy="1137.62" r="7" fill="#B3B3B3"/><circle cx="1683.23" cy="1162.12" r="7" fill="#B3B3B3"/><circle cx="1609.16" cy="1123.51" r="7" fill="#B3B3B3"/><circle cx="1654.03" cy="1153.83" r="7" fill="#B3B3B3"/><circle cx="1611.76" cy="1131.55" r="7" fill="#B3B3B3"/><circle cx="1618.6" cy="1088.1" r="7" fill="#B3B3B3"/><circle cx="1694.69" cy="1148.4" r="7" fill="#B3B3B3"/><circle cx="1598.22" cy="1139.5" r="7" fill="#B3B3B3"/><circle cx="1620.7" cy="1000.42" r="7" fill="#B3B3B3"/><circle cx="1631.16" cy="1007.37" r="7" fill="#B3B3B3"/><circle cx="1646.77" cy="1153.15" r="7" fill="#B3B3B3"/><circle cx="1647.47" cy="1157.71" r="7" fill="#B3B3B3"/><circle cx="1625.33" cy="1136.05" r="7" fill="#B3B3B3"/><circle cx="1562.41" cy="1147.32" r="7" fill="#B3B3B3"/><circle cx="1660.8" cy="1139.39" r="7" fill="#B3B3B3"/><circle cx="1686.7" cy="1152.93" r="7" fill="#B3B3B3"/><circle cx="1629.28" cy="1163.2" r="7" fill="#B3B3B3"/><circle cx="1617.44" cy="1133.36" r="7" fill="#B3B3B3"/><circle cx="1627.38" cy="1152.99" r="7" fill="#B3B3B3"/><circle cx="1627.66" cy="1081.56" r="7" fill="#B3B3B3"/><circle cx="1626.25" cy="1091.87" r="7" fill="#B3B3B3"/><circle cx="1693.32" cy="1157.63" r="7" fill="#B3B3B3"/><circle cx="1619.71" cy="1101.02" r="7" fill="#B3B3B3"/><circle cx="1668" cy="1132.04" r="7" fill="#B3B3B3"/><circle cx="1600.34" cy="1122.25" r="7" fill="#B3B3B3"/><circle cx="1626.58" cy="1122.02" r="7" fill="#B3B3B3"/><circle cx="1638.73" cy="1044.35" r="7" fill="#B3B3B3"/><circle cx="1608.06" cy="1159.47" r="7" fill="#B3B3B3"/><circle cx="1613.33" cy="1127.74" r="7" fill="#B3B3B3"/><circle cx="1601.47" cy="1117.4" r="7" fill="#B3B3B3"/><circle cx="1679.17" cy="1155.75" r="7" fill="#B3B3B3"/><circle cx="1638.45" cy="1150.86" r="7" fill="#B3B3B3"/><circle cx="1631.56" cy="1168.04" r="7" fill="#B3B3B3"/><circle cx="1663.26" cy="1165.73" r="7" fill="#B3B3B3"/><circle cx="1618.54" cy="1164.73" r="7" fill="#B3B3B3"/><circle cx="1574.16" cy="1141.13" r="7" fill="#B3B3B3"/><circle cx="1624.26" cy="1049.04" r="7" fill="#B3B3B3"/><circle cx="1631.46" cy="1028.35" r="7" fill="#B3B3B3"/><circle cx="1652.99" cy="1121.39" r="7" fill="#B3B3B3"/><circle cx="1623.33" cy="1062.42" r="7" fill="#B3B3B3"/><circle cx="1625.94" cy="1004.31" r="7" fill="#B3B3B3"/><circle cx="1675.41" cy="1145.8" r="7" fill="#B3B3B3"/><circle cx="1671.29" cy="1163.08" r="7" fill="#B3B3B3"/><circle cx="1597.33" cy="1160.45" r="7" fill="#B3B3B3"/><circle cx="1635.97" cy="1091.18" r="7" fill="#B3B3B3"/><circle cx="1650.94" cy="1132.02" r="7" fill="#B3B3B3"/><circle cx="1622.7" cy="1152.69" r="7" fill="#B3B3B3"/><circle cx="1683.45" cy="1147.88" r="7" fill="#B3B3B3"/><circle cx="1611.85" cy="1140.65" r="7" fill="#B3B3B3"/><circle cx="1637.63" cy="1050.53" r="7" fill="#B3B3B3"/><circle cx="1634.42" cy="1110.91" r="7" fill="#B3B3B3"/><circle cx="1596.32" cy="1144.37" r="7" fill="#B3B3B3"/><circle cx="1589.75" cy="1149.48" r="7" fill="#B3B3B3"/><circle cx="1618.54" cy="1113.81" r="7" fill="#B3B3B3"/><circle cx="1587.29" cy="1132.54" r="7" fill="#B3B3B3"/><circle cx="1698.76" cy="1149.56" r="7" fill="#B3B3B3"/><circle cx="1603.59" cy="1124.68" r="7" fill="#B3B3B3"/><circle cx="1669.38" cy="1139.08" r="7" fill="#B3B3B3"/><circle cx="1627.3" cy="1011.69" r="7" fill="#B3B3B3"/><circle cx="1634.39" cy="994.41" r="7" fill="#B3B3B3"/><circle cx="1632.44" cy="1050.09" r="7" fill="#B3B3B3"/><circle cx="1613.47" cy="1123.43" r="7" fill="#B3B3B3"/><circle cx="1649.27" cy="1136.48" r="7" fill="#B3B3B3"/><circle cx="1629.18" cy="1104.22" r="7" fill="#B3B3B3"/><circle cx="1664.38" cy="1161.75" r="7" fill="#B3B3B3"/><circle cx="1691.92" cy="1153.21" r="7" fill="#B3B3B3"/><circle cx="1634.53" cy="1097.32" r="7" fill="#B3B3B3"/><circle cx="1576.4" cy="1148.86" r="7" fill="#B3B3B3"/><circle cx="1622.29" cy="1125.15" r="7" fill="#B3B3B3"/><circle cx="1563.8" cy="1158.98" r="7" fill="#B3B3B3"/><circle cx="1634.81" cy="1144.96" r="7" fill="#B3B3B3"/><circle cx="1632.36" cy="990.79" r="7" fill="#B3B3B3"/><circle cx="1635.3" cy="1161.42" r="7" fill="#B3B3B3"/><circle cx="1598.01" cy="1151.4" r="7" fill="#B3B3B3"/><circle cx="1596.13" cy="1125.68" r="7" fill="#B3B3B3"/><circle cx="1641.95" cy="1102.58" r="7" fill="#B3B3B3"/><circle cx="1608.07" cy="1114.18" r="7" fill="#B3B3B3"/><circle cx="1624.82" cy="1087.51" r="7" fill="#B3B3B3"/><circle cx="1670.71" cy="1135.02" r="7" fill="#B3B3B3"/><circle cx="1554.55" cy="1149.35" r="7" fill="#B3B3B3"/><circle cx="1618.72" cy="1096.32" r="7" fill="#B3B3B3"/><circle cx="1656.14" cy="1124.54" r="7" fill="#B3B3B3"/><circle cx="1591.6" cy="1125.72" r="7" fill="#B3B3B3"/><circle cx="1643.51" cy="1167.05" r="7" fill="#B3B3B3"/><circle cx="1652.15" cy="1126.39" r="7" fill="#B3B3B3"/><circle cx="1591.75" cy="1129.78" r="7" fill="#B3B3B3"/><circle cx="1644.74" cy="1136" r="7" fill="#B3B3B3"/><circle cx="1647.85" cy="1167.52" r="7" fill="#B3B3B3"/><circle cx="1620.42" cy="1047.68" r="7" fill="#B3B3B3"/><circle cx="1560" cy="1150.94" r="7" fill="#B3B3B3"/><circle cx="1579" cy="1154.47" r="7" fill="#B3B3B3"/><circle cx="1629.03" cy="1067.63" r="7" fill="#B3B3B3"/><circle cx="1626.66" cy="990.56" r="7" fill="#B3B3B3"/><circle cx="1635.83" cy="1165.5" r="7" fill="#B3B3B3"/><circle cx="1603.28" cy="1146.02" r="7" fill="#B3B3B3"/><circle cx="1630.26" cy="995.5" r="7" fill="#B3B3B3"/><circle cx="1585.93" cy="1157.12" r="7" fill="#B3B3B3"/><circle cx="1644.94" cy="1106.72" r="7" fill="#B3B3B3"/><circle cx="1603.59" cy="1159.84" r="7" fill="#B3B3B3"/><circle cx="1666.74" cy="1157.11" r="7" fill="#B3B3B3"/><circle cx="1590.52" cy="1153.94" r="7" fill="#B3B3B3"/><circle cx="1627.91" cy="986.72" r="7" fill="#B3B3B3"/><circle cx="1631.65" cy="1089.07" r="7" fill="#B3B3B3"/><circle cx="1634.63" cy="1140.52" r="7" fill="#B3B3B3"/><circle cx="1629.15" cy="1110.59" r="7" fill="#B3B3B3"/><circle cx="1622.99" cy="1098.3" r="7" fill="#B3B3B3"/><circle cx="1631.8" cy="1084.46" r="7" fill="#B3B3B3"/><circle cx="1609.19" cy="1149.53" r="7" fill="#B3B3B3"/><circle cx="1625.89" cy="981.36" r="7" fill="#B3B3B3"/><circle cx="1606.37" cy="1117.8" r="7" fill="#B3B3B3"/><circle cx="1593.91" cy="1138.85" r="7" fill="#B3B3B3"/><circle cx="1689.25" cy="1144.55" r="7" fill="#B3B3B3"/><circle cx="1594.92" cy="1167.22" r="7" fill="#B3B3B3"/><circle cx="1622.78" cy="1033.74" r="7" fill="#B3B3B3"/><circle cx="1678.36" cy="1162.7" r="7" fill="#B3B3B3"/><circle cx="1555.1" cy="1153.43" r="7" fill="#B3B3B3"/><circle cx="1613.44" cy="1149.87" r="7" fill="#B3B3B3"/><circle cx="1602.56" cy="1135.37" r="7" fill="#B3B3B3"/><circle cx="1682.28" cy="1151.74" r="7" fill="#B3B3B3"/><circle cx="1607.54" cy="1109.39" r="7" fill="#B3B3B3"/><circle cx="1637.34" cy="1081.02" r="7" fill="#B3B3B3"/><circle cx="1566.11" cy="1154.78" r="7" fill="#B3B3B3"/><circle cx="1625.01" cy="1102.07" r="7" fill="#B3B3B3"/><circle cx="1614.43" cy="1113.99" r="7" fill="#B3B3B3"/><circle cx="1634.53" cy="1066.78" r="7" fill="#B3B3B3"/><circle cx="1628.71" cy="1031.27" r="7" fill="#B3B3B3"/><circle cx="1665.62" cy="1124.4" r="7" fill="#B3B3B3"/><circle cx="1626.52" cy="1107.3" r="7" fill="#B3B3B3"/><circle cx="1656.31" cy="1142.9" r="7" fill="#B3B3B3"/><circle cx="1631.04" cy="1115.62" r="7" fill="#B3B3B3"/><circle cx="1626.09" cy="1070.4" r="7" fill="#B3B3B3"/><circle cx="1623.74" cy="987.31" r="7" fill="#B3B3B3"/><circle cx="1624.56" cy="1008.6" r="7" fill="#B3B3B3"/><circle cx="1648.71" cy="1117.18" r="7" fill="#B3B3B3"/><circle cx="1620.75" cy="1017.47" r="7" fill="#B3B3B3"/><circle cx="1643.18" cy="1129.52" r="7" fill="#B3B3B3"/><circle cx="1667.35" cy="1147.6" r="7" fill="#B3B3B3"/><circle cx="1622.92" cy="1094.1" r="7" fill="#B3B3B3"/><circle cx="1614.08" cy="1153.96" r="7" fill="#B3B3B3"/><circle cx="1685.81" cy="1158.57" r="7" fill="#B3B3B3"/><circle cx="1639.03" cy="1099.17" r="7" fill="#B3B3B3"/><circle cx="1679.53" cy="1146.76" r="7" fill="#B3B3B3"/><circle cx="1635.28" cy="1075.68" r="7" fill="#B3B3B3"/><circle cx="1641.78" cy="1148.61" r="7" fill="#B3B3B3"/><circle cx="1621.05" cy="1027.98" r="7" fill="#B3B3B3"/><circle cx="1627.28" cy="1074.64" r="7" fill="#B3B3B3"/><circle cx="1641.7" cy="1114.46" r="7" fill="#B3B3B3"/><circle cx="1658.21" cy="1148.58" r="7" fill="#B3B3B3"/><circle cx="1620.08" cy="1142.94" r="7" fill="#B3B3B3"/><circle cx="1567.72" cy="1149.99" r="7" fill="#B3B3B3"/><circle cx="1620" cy="1110.01" r="7" fill="#B3B3B3"/><circle cx="1591.13" cy="1158.51" r="7" fill="#B3B3B3"/><circle cx="1686.07" cy="1141.72" r="7" fill="#B3B3B3"/><circle cx="1621.19" cy="1084.64" r="7" fill="#B3B3B3"/><circle cx="1632.64" cy="1070.48" r="7" fill="#B3B3B3"/><circle cx="1645.82" cy="1162.21" r="7" fill="#B3B3B3"/><circle cx="1573.2" cy="1151.77" r="7" fill="#B3B3B3"/><circle cx="1622.02" cy="1157.52" r="7" fill="#B3B3B3"/><circle cx="1651.9" cy="1158.96" r="7" fill="#B3B3B3"/><circle cx="1435.8" cy="729.7" r="7" fill="#B3B3B3"/><circle cx="1628.4" cy="780.9" r="7" fill="#B3B3B3"/><circle cx="1629" cy="886.9" r="7" fill="#B3B3B3"/><circle cx="1626.4" cy="894.6" r="7" fill="#B3B3B3"/><circle cx="1630.4" cy="904.5" r="7" fill="#B3B3B3"/><circle cx="1628.4" cy="932.1" r="7" fill="#B3B3B3"/><circle cx="1627" cy="942.7" r="7" fill="#B3B3B3"/><circle cx="1629.7" cy="947.7" r="7" fill="#B3B3B3"/><line x1="1493.5" y1="941" x2="1493.5" y2="1164.3" stroke="#000" stroke-width="3.1" stroke-linecap="butt"/><line x1="1493.5" y1="1019.2" x2="1493.5" y2="1145" stroke="#000" stroke-width="8.1" stroke-linecap="butt"/><circle cx="1493.5" cy="1096" r="11.3" fill="#fff"/><circle cx="1493.5" cy="1096" r="9.7" fill="#000"/><line x1="1686.7" y1="990.2" x2="1686.7" y2="1162.2" stroke="#000" stroke-width="3.1" stroke-linecap="butt"/><line x1="1686.7" y1="1081.3" x2="1686.7" y2="1152.9" stroke="#000" stroke-width="7.8" stroke-linecap="butt"/><circle cx="1686.7" cy="1134" r="11.3" fill="#fff"/><circle cx="1686.7" cy="1134" r="9.7" fill="#000"/><line x1="1319.5" y1="668" x2="1319.5" y2="1192.5" stroke="#000" stroke-width="3.2" stroke-linecap="butt"/><line x1="1317.9" y1="1190.9" x2="1745" y2="1190.9" stroke="#000" stroke-width="3.2" stroke-linecap="butt"/><g transform="rotate(-90 1227.3 964.8)"><text x="1227.3" y="964.8" font-size="35.5" font-style="italic">F</text><text font-size="34.9" transform="translate(1230.45 950.35) scale(1 1.09)">^</text><text x="1247.9" y="970.9" font-size="24.7">ROH</text></g><text x="-1.3" y="31" font-size="44" font-weight="bold">A</text><text x="888" y="31" font-size="44" font-weight="bold">B</text><text x="-0.5" y="697.4" font-size="44" font-weight="bold">C</text><text x="1185.5" y="698.3" font-size="44" font-weight="bold">D</text></svg></body></html>
